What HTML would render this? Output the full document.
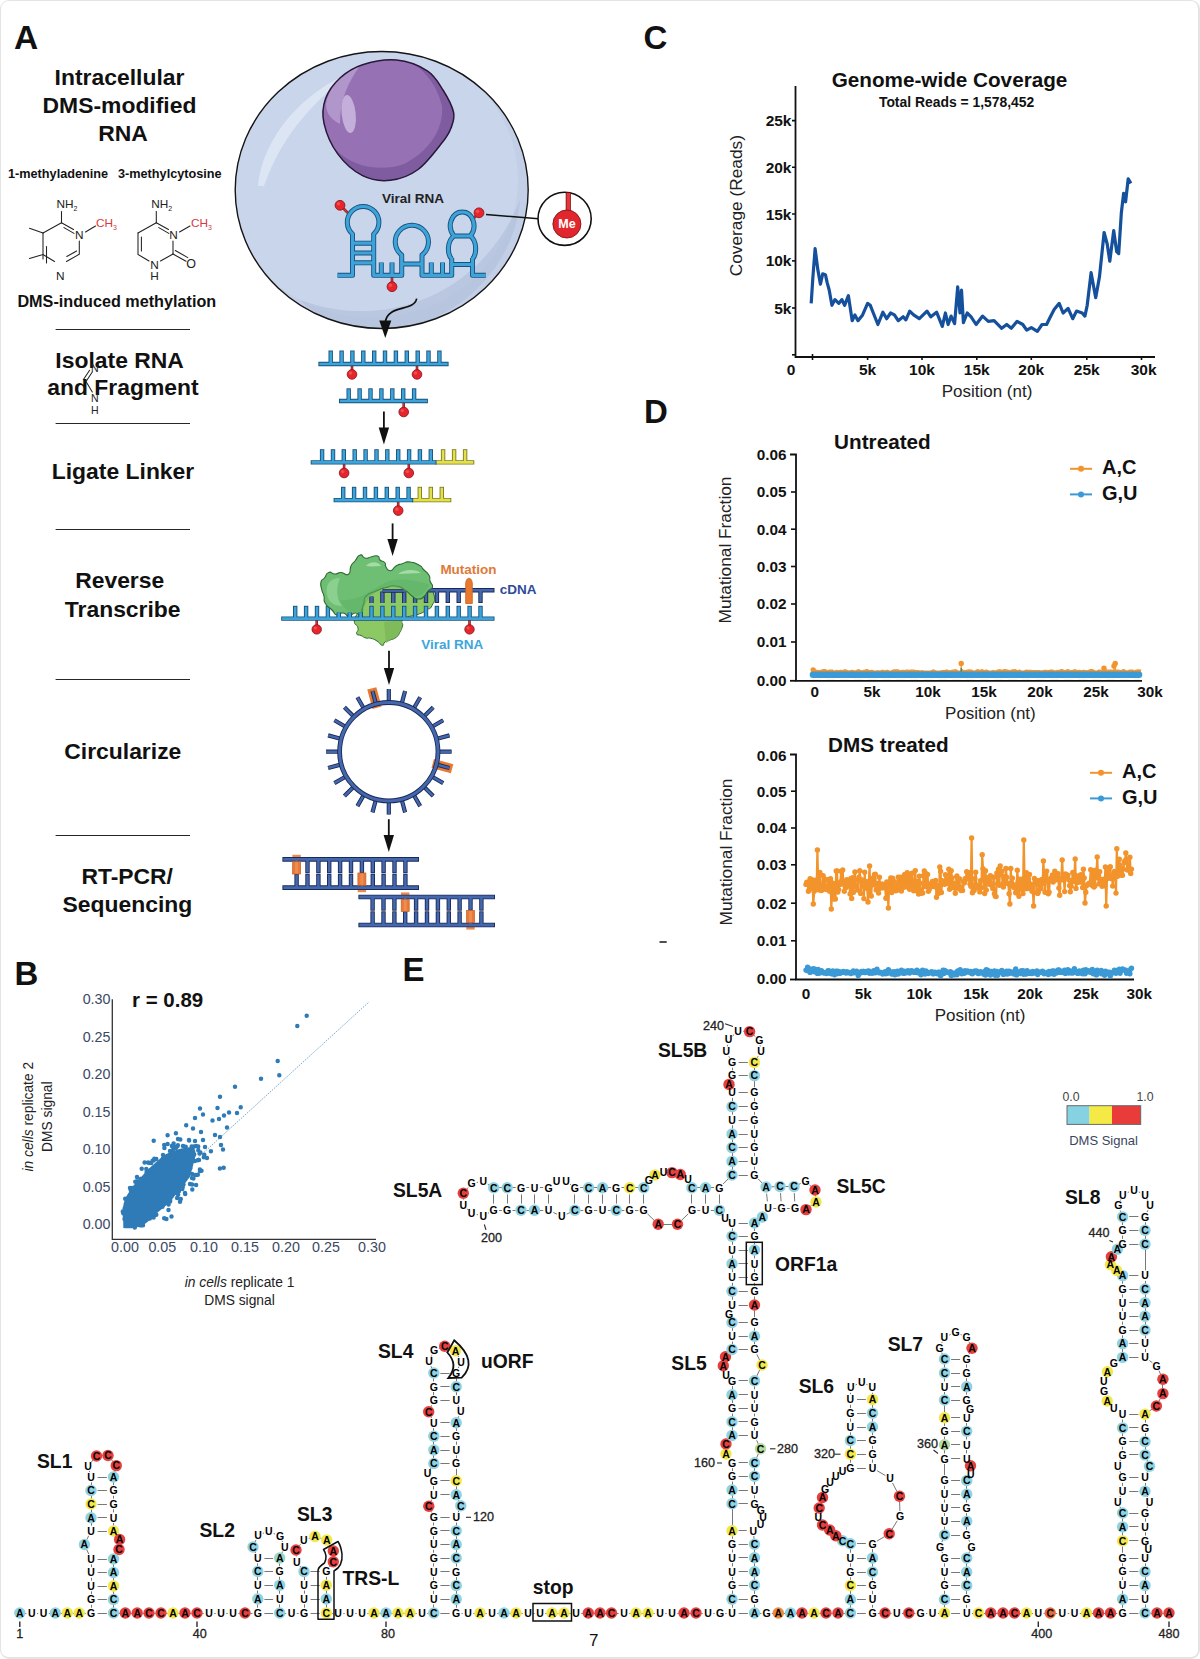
<!DOCTYPE html>
<html><head><meta charset="utf-8"><title>Figure</title>
<style>
html,body{margin:0;padding:0;background:#fff;}
#fig{position:relative;width:1200px;height:1659px;box-sizing:border-box;border:1px solid #e4e4e4;border-right-width:2px;border-bottom-width:2px;border-radius:9px;overflow:hidden;background:#fff;}
svg{position:absolute;left:-1px;top:-1px;}
text{font-family:"Liberation Sans",Arial,sans-serif;}
</style></head><body>
<div id="fig">
<svg width="1200" height="1659" viewBox="0 0 1200 1659">
<g id="rna">
<g stroke="#787878" stroke-width="1.0" fill="none" stroke-linecap="butt">
<path d="M25.1 1613.5L26.4 1613.5"/>
<path d="M37.0 1613.5L38.2 1613.5"/>
<path d="M48.8 1613.5L50.0 1613.5"/>
<path d="M60.6 1613.5L62.0 1613.5"/>
<path d="M72.6 1613.5L73.9 1613.5"/>
<path d="M84.5 1613.5L85.7 1613.5"/>
<path d="M91.5 1607.7L91.5 1604.8"/>
<path d="M91.5 1594.2L91.5 1591.3"/>
<path d="M91.5 1580.7L91.5 1577.8"/>
<path d="M91.5 1567.2L91.5 1564.3"/>
<path d="M88.8 1554.2L86.6 1549.3"/>
<path d="M86.7 1539.7L88.7 1535.8"/>
<path d="M91.5 1525.7L91.5 1523.0"/>
<path d="M91.5 1512.4L91.5 1509.3"/>
<path d="M91.5 1498.7L91.5 1495.8"/>
<path d="M91.5 1485.2L91.5 1482.3"/>
<path d="M89.7 1472.1L89.3 1470.9"/>
<path d="M91.4 1462.0L93.1 1460.0"/>
<path d="M101.7 1455.8L102.8 1455.7"/>
<path d="M111.4 1459.6L112.9 1461.5"/>
<path d="M115.0 1470.7L114.8 1471.9"/>
<path d="M113.5 1482.3L113.5 1485.2"/>
<path d="M113.5 1495.8L113.5 1498.7"/>
<path d="M113.5 1509.3L113.5 1512.4"/>
<path d="M113.5 1523.0L113.5 1525.7"/>
<path d="M113.5 1564.3L113.5 1567.2"/>
<path d="M113.5 1577.8L113.5 1580.7"/>
<path d="M113.5 1591.3L113.5 1594.2"/>
<path d="M113.5 1604.8L113.5 1607.7"/>
<path d="M118.8 1613.5L120.0 1613.5"/>
<path d="M130.6 1613.5L131.9 1613.5"/>
<path d="M142.5 1613.5L143.7 1613.5"/>
<path d="M154.3 1613.5L155.7 1613.5"/>
<path d="M166.3 1613.5L167.7 1613.5"/>
<path d="M178.3 1613.5L179.7 1613.5"/>
<path d="M190.3 1613.5L191.7 1613.5"/>
<path d="M202.3 1613.5L203.7 1613.5"/>
<path d="M214.3 1613.5L215.7 1613.5"/>
<path d="M226.3 1613.5L227.7 1613.5"/>
<path d="M238.3 1613.5L239.7 1613.5"/>
<path d="M250.3 1613.5L252.5 1613.5"/>
<path d="M257.5 1607.7L257.5 1604.3"/>
<path d="M257.5 1593.7L257.5 1590.6"/>
<path d="M257.5 1580.0L257.5 1576.8"/>
<path d="M257.5 1566.2L257.5 1563.3"/>
<path d="M255.7 1553.1L255.1 1551.9"/>
<path d="M255.0 1542.1L256.0 1539.9"/>
<path d="M262.8 1533.4L263.9 1533.1"/>
<path d="M273.6 1533.5L275.1 1534.0"/>
<path d="M282.1 1540.8L282.6 1541.9"/>
<path d="M282.6 1551.5L281.8 1553.2"/>
<path d="M279.5 1563.3L279.5 1566.2"/>
<path d="M279.5 1576.8L279.5 1580.0"/>
<path d="M279.5 1590.6L279.5 1593.7"/>
<path d="M279.5 1604.3L279.5 1607.7"/>
<path d="M285.0 1613.5L286.2 1613.5"/>
<path d="M296.8 1613.5L298.7 1613.5"/>
<path d="M304.5 1607.7L304.5 1604.3"/>
<path d="M304.5 1593.7L304.5 1590.6"/>
<path d="M304.5 1580.0L304.5 1576.8"/>
<path d="M300.8 1567.2L299.9 1566.0"/>
<path d="M296.4 1556.4L296.3 1555.3"/>
<path d="M299.3 1545.8L300.5 1544.2"/>
<path d="M308.8 1538.4L310.0 1538.1"/>
<path d="M320.1 1538.0L321.6 1538.5"/>
<path d="M329.4 1544.5L330.6 1546.5"/>
<path d="M330.2 1566.0L329.4 1567.2"/>
<path d="M326.5 1576.8L326.5 1580.0"/>
<path d="M326.5 1590.6L326.5 1593.7"/>
<path d="M326.5 1604.3L326.5 1607.7"/>
<path d="M331.6 1613.5L332.8 1613.5"/>
<path d="M343.3 1613.5L344.7 1613.5"/>
<path d="M355.3 1613.5L356.7 1613.5"/>
<path d="M367.3 1613.5L368.7 1613.5"/>
<path d="M379.3 1613.5L380.7 1613.5"/>
<path d="M391.3 1613.5L392.7 1613.5"/>
<path d="M403.3 1613.5L404.7 1613.5"/>
<path d="M415.3 1613.5L416.7 1613.5"/>
<path d="M427.3 1613.5L428.5 1613.5"/>
<path d="M433.5 1607.7L433.5 1604.5"/>
<path d="M433.5 1593.9L433.5 1590.8"/>
<path d="M433.5 1580.2L433.5 1577.1"/>
<path d="M433.5 1566.5L433.5 1563.3"/>
<path d="M433.5 1552.7L433.5 1549.8"/>
<path d="M433.5 1539.2L433.5 1536.1"/>
<path d="M433.5 1525.5L433.5 1522.5"/>
<path d="M431.6 1512.4L431.0 1511.1"/>
<path d="M430.9 1501.4L431.7 1499.6"/>
<path d="M433.5 1489.4L433.5 1486.1"/>
<path d="M430.3 1468.9L431.0 1467.9"/>
<path d="M433.5 1458.2L433.5 1455.3"/>
<path d="M433.5 1444.7L433.5 1441.6"/>
<path d="M433.5 1431.0L433.5 1428.1"/>
<path d="M431.6 1418.0L430.9 1416.5"/>
<path d="M430.9 1406.9L431.6 1405.3"/>
<path d="M433.5 1395.2L433.5 1392.0"/>
<path d="M433.5 1381.4L433.5 1378.3"/>
<path d="M431.8 1368.1L431.0 1366.2"/>
<path d="M431.2 1356.5L431.8 1355.3"/>
<path d="M438.8 1348.6L439.9 1348.2"/>
<path d="M449.5 1348.3L450.7 1348.8"/>
<path d="M457.9 1355.5L458.6 1357.0"/>
<path d="M458.9 1366.6L458.3 1368.1"/>
<path d="M456.5 1378.3L456.5 1381.4"/>
<path d="M456.5 1392.0L456.5 1395.2"/>
<path d="M458.3 1405.3L458.7 1406.5"/>
<path d="M458.8 1416.2L458.2 1417.9"/>
<path d="M456.5 1428.1L456.5 1431.0"/>
<path d="M456.5 1441.6L456.5 1444.7"/>
<path d="M456.5 1455.3L456.5 1458.2"/>
<path d="M456.5 1468.8L456.5 1475.5"/>
<path d="M456.5 1486.1L456.5 1489.4"/>
<path d="M458.2 1499.6L458.8 1500.9"/>
<path d="M458.8 1510.7L458.2 1512.3"/>
<path d="M456.5 1522.5L456.5 1525.5"/>
<path d="M456.5 1536.1L456.5 1539.2"/>
<path d="M456.5 1549.8L456.5 1552.7"/>
<path d="M456.5 1563.3L456.5 1566.5"/>
<path d="M456.5 1577.1L456.5 1580.2"/>
<path d="M456.5 1590.8L456.5 1593.9"/>
<path d="M456.5 1604.5L456.5 1607.7"/>
<path d="M461.5 1613.5L462.7 1613.5"/>
<path d="M473.3 1613.5L474.7 1613.5"/>
<path d="M485.3 1613.5L486.7 1613.5"/>
<path d="M497.3 1613.5L498.7 1613.5"/>
<path d="M509.3 1613.5L510.7 1613.5"/>
<path d="M521.3 1613.5L522.7 1613.5"/>
<path d="M533.3 1613.5L534.7 1613.5"/>
<path d="M545.3 1613.5L546.7 1613.5"/>
<path d="M557.3 1613.5L558.7 1613.5"/>
<path d="M569.3 1613.5L570.7 1613.5"/>
<path d="M581.3 1613.5L583.0 1613.5"/>
<path d="M593.5 1613.5L594.8 1613.5"/>
<path d="M605.1 1613.5L606.4 1613.5"/>
<path d="M616.8 1613.5L618.7 1613.5"/>
<path d="M629.3 1613.5L630.7 1613.5"/>
<path d="M641.3 1613.5L642.7 1613.5"/>
<path d="M653.3 1613.5L654.7 1613.5"/>
<path d="M665.3 1613.5L666.7 1613.5"/>
<path d="M677.3 1613.5L678.7 1613.5"/>
<path d="M689.3 1613.5L690.7 1613.5"/>
<path d="M701.3 1613.5L702.7 1613.5"/>
<path d="M713.3 1613.5L714.7 1613.5"/>
<path d="M725.3 1613.5L726.7 1613.5"/>
<path d="M732.5 1607.7L732.5 1604.5"/>
<path d="M732.5 1593.9L732.5 1590.6"/>
<path d="M732.5 1580.0L732.5 1577.0"/>
<path d="M732.5 1566.4L732.5 1563.1"/>
<path d="M732.5 1552.5L732.5 1549.5"/>
<path d="M732.5 1538.9L732.5 1536.1"/>
<path d="M732.5 1525.5L732.5 1509.0"/>
<path d="M732.5 1498.4L732.5 1495.3"/>
<path d="M732.5 1484.7L732.5 1481.6"/>
<path d="M732.5 1471.0L732.5 1468.1"/>
<path d="M732.5 1430.2L732.5 1427.0"/>
<path d="M732.5 1416.4L732.5 1413.6"/>
<path d="M732.5 1403.0L732.5 1400.0"/>
<path d="M732.5 1389.4L732.5 1386.1"/>
<path d="M732.5 1344.2L732.5 1341.5"/>
<path d="M732.5 1330.9L732.5 1327.8"/>
<path d="M732.5 1299.7L732.5 1296.5"/>
<path d="M732.5 1285.9L732.5 1282.8"/>
<path d="M732.5 1272.2L732.5 1269.0"/>
<path d="M732.5 1258.4L732.5 1255.3"/>
<path d="M732.5 1244.7L732.5 1241.6"/>
<path d="M732.5 1231.0L732.5 1228.3"/>
<path d="M714.1 1210.5L710.8 1210.5"/>
<path d="M700.2 1210.5L697.3 1210.5"/>
<path d="M688.2 1213.9L681.3 1220.5"/>
<path d="M672.2 1224.5L663.5 1224.5"/>
<path d="M654.4 1220.5L647.5 1213.9"/>
<path d="M638.4 1210.5L635.0 1210.5"/>
<path d="M624.4 1210.5L621.5 1210.5"/>
<path d="M610.9 1210.5L607.9 1210.5"/>
<path d="M597.3 1210.5L593.9 1210.5"/>
<path d="M583.3 1210.5L580.2 1210.5"/>
<path d="M570.1 1212.5L566.6 1214.2"/>
<path d="M557.0 1214.2L553.3 1212.5"/>
<path d="M543.2 1210.5L539.8 1210.5"/>
<path d="M529.2 1210.5L526.3 1210.5"/>
<path d="M515.7 1210.5L512.5 1210.5"/>
<path d="M501.9 1210.5L499.0 1210.5"/>
<path d="M489.0 1212.7L487.9 1213.3"/>
<path d="M478.0 1214.8L476.7 1214.5"/>
<path d="M467.9 1209.6L466.9 1208.7"/>
<path d="M463.5 1199.6L463.5 1198.4"/>
<path d="M466.7 1189.1L468.1 1187.5"/>
<path d="M476.7 1182.6L478.0 1182.3"/>
<path d="M487.7 1184.2L489.2 1185.1"/>
<path d="M499.0 1187.5L501.9 1187.5"/>
<path d="M512.5 1187.5L515.7 1187.5"/>
<path d="M526.3 1187.5L529.2 1187.5"/>
<path d="M539.8 1187.5L543.2 1187.5"/>
<path d="M570.0 1184.0L570.9 1184.8"/>
<path d="M580.2 1187.5L583.3 1187.5"/>
<path d="M593.9 1187.5L597.3 1187.5"/>
<path d="M607.9 1187.5L610.9 1187.5"/>
<path d="M621.5 1187.5L624.4 1187.5"/>
<path d="M635.0 1187.5L638.4 1187.5"/>
<path d="M697.1 1187.5L700.2 1187.5"/>
<path d="M710.8 1187.5L714.1 1187.5"/>
<path d="M723.1 1184.0L728.3 1178.8"/>
<path d="M732.5 1169.7L732.5 1166.7"/>
<path d="M732.5 1156.1L732.5 1152.9"/>
<path d="M732.5 1142.3L732.5 1139.3"/>
<path d="M732.5 1128.7L732.5 1125.3"/>
<path d="M732.5 1114.7L732.5 1111.9"/>
<path d="M732.5 1101.3L732.5 1097.9"/>
<path d="M732.5 1070.3L732.5 1067.7"/>
<path d="M729.6 1057.7L728.8 1056.3"/>
<path d="M727.4 1046.4L727.6 1044.8"/>
<path d="M732.5 1036.0L734.1 1034.6"/>
<path d="M743.2 1031.3L744.4 1031.3"/>
<path d="M753.6 1035.0L755.4 1036.6"/>
<path d="M760.1 1045.2L760.3 1046.4"/>
<path d="M758.2 1056.1L757.2 1057.9"/>
<path d="M754.5 1067.7L754.5 1070.3"/>
<path d="M754.5 1080.9L754.5 1087.3"/>
<path d="M754.5 1097.9L754.5 1101.3"/>
<path d="M754.5 1111.9L754.5 1114.7"/>
<path d="M754.5 1125.3L754.5 1128.7"/>
<path d="M754.5 1139.3L754.5 1142.3"/>
<path d="M754.5 1152.9L754.5 1156.1"/>
<path d="M754.5 1166.7L754.5 1169.7"/>
<path d="M758.1 1178.8L762.3 1183.2"/>
<path d="M771.3 1186.8L774.7 1186.7"/>
<path d="M785.3 1186.5L788.7 1186.5"/>
<path d="M798.9 1184.4L800.7 1183.5"/>
<path d="M809.5 1185.0L811.1 1186.4"/>
<path d="M815.4 1195.3L815.6 1196.7"/>
<path d="M811.8 1205.2L810.2 1206.4"/>
<path d="M789.7 1208.5L786.9 1208.5"/>
<path d="M776.3 1208.5L773.3 1208.5"/>
<path d="M754.5 1228.3L754.5 1231.0"/>
<path d="M754.5 1241.6L754.5 1244.7"/>
<path d="M754.5 1255.3L754.5 1258.4"/>
<path d="M754.5 1269.0L754.5 1272.2"/>
<path d="M754.5 1282.8L754.5 1285.9"/>
<path d="M754.5 1296.5L754.5 1299.7"/>
<path d="M754.5 1310.3L754.5 1317.2"/>
<path d="M754.5 1327.8L754.5 1330.9"/>
<path d="M754.5 1341.5L754.5 1344.2"/>
<path d="M756.8 1354.3L759.7 1360.2"/>
<path d="M759.7 1369.8L756.8 1376.0"/>
<path d="M754.5 1386.1L754.5 1389.4"/>
<path d="M754.5 1400.0L754.5 1403.0"/>
<path d="M754.5 1413.6L754.5 1416.4"/>
<path d="M754.5 1427.0L754.5 1430.2"/>
<path d="M756.7 1440.3L758.3 1444.0"/>
<path d="M758.4 1453.7L756.6 1457.9"/>
<path d="M754.5 1468.1L754.5 1471.0"/>
<path d="M754.5 1481.6L754.5 1484.7"/>
<path d="M754.5 1495.3L754.5 1498.4"/>
<path d="M753.8 1536.1L754.0 1538.9"/>
<path d="M754.5 1549.5L754.5 1552.5"/>
<path d="M754.5 1563.1L754.5 1566.4"/>
<path d="M754.5 1577.0L754.5 1580.0"/>
<path d="M754.5 1590.6L754.5 1593.9"/>
<path d="M754.5 1604.5L754.5 1607.7"/>
<path d="M759.8 1613.5L761.4 1613.5"/>
<path d="M771.9 1613.5L773.1 1613.5"/>
<path d="M783.6 1613.5L785.2 1613.5"/>
<path d="M795.6 1613.5L796.9 1613.5"/>
<path d="M807.3 1613.5L808.7 1613.5"/>
<path d="M819.3 1613.5L820.7 1613.5"/>
<path d="M831.3 1613.5L832.7 1613.5"/>
<path d="M843.3 1613.5L845.1 1613.5"/>
<path d="M850.5 1607.7L850.5 1604.8"/>
<path d="M850.5 1594.2L850.5 1590.8"/>
<path d="M850.5 1580.2L850.5 1577.3"/>
<path d="M850.5 1566.7L850.5 1563.3"/>
<path d="M850.5 1552.7L850.5 1549.1"/>
<path d="M850.5 1462.7L850.5 1459.5"/>
<path d="M850.5 1448.9L850.5 1445.8"/>
<path d="M850.5 1435.2L850.5 1432.3"/>
<path d="M850.5 1421.7L850.5 1418.6"/>
<path d="M850.5 1408.0L850.5 1404.8"/>
<path d="M850.5 1394.2L850.5 1392.8"/>
<path d="M855.5 1385.0L857.0 1384.2"/>
<path d="M866.3 1384.3L867.6 1384.9"/>
<path d="M872.5 1392.8L872.5 1394.2"/>
<path d="M872.5 1404.8L872.5 1408.0"/>
<path d="M872.5 1418.6L872.5 1421.7"/>
<path d="M872.5 1432.3L872.5 1435.2"/>
<path d="M872.5 1445.8L872.5 1448.9"/>
<path d="M872.5 1459.5L872.5 1462.7"/>
<path d="M877.1 1470.7L885.4 1475.6"/>
<path d="M892.5 1483.0L897.0 1491.6"/>
<path d="M899.6 1501.6L899.9 1511.0"/>
<path d="M897.2 1520.8L892.0 1529.3"/>
<path d="M884.7 1536.5L877.0 1541.1"/>
<path d="M872.5 1549.1L872.5 1552.7"/>
<path d="M872.5 1563.3L872.5 1566.7"/>
<path d="M872.5 1577.3L872.5 1580.2"/>
<path d="M872.5 1590.8L872.5 1594.2"/>
<path d="M872.5 1604.8L872.5 1607.7"/>
<path d="M877.8 1613.5L879.7 1613.5"/>
<path d="M890.2 1613.5L891.5 1613.5"/>
<path d="M902.0 1613.5L903.5 1613.5"/>
<path d="M914.1 1613.5L915.4 1613.5"/>
<path d="M926.0 1613.5L927.3 1613.5"/>
<path d="M937.9 1613.5L939.2 1613.5"/>
<path d="M944.5 1607.7L944.5 1604.8"/>
<path d="M944.5 1594.2L944.5 1590.8"/>
<path d="M944.5 1580.2L944.5 1577.3"/>
<path d="M944.5 1566.7L944.5 1563.3"/>
<path d="M942.5 1553.1L942.0 1551.9"/>
<path d="M941.9 1542.0L942.6 1540.0"/>
<path d="M944.5 1529.7L944.5 1526.6"/>
<path d="M944.5 1516.0L944.5 1513.1"/>
<path d="M944.5 1502.5L944.5 1499.5"/>
<path d="M944.5 1488.9L944.5 1485.8"/>
<path d="M944.5 1475.2L944.5 1464.0"/>
<path d="M944.5 1453.4L944.5 1450.0"/>
<path d="M944.5 1439.4L944.5 1436.6"/>
<path d="M944.5 1426.0L944.5 1423.0"/>
<path d="M944.5 1412.4L944.5 1405.3"/>
<path d="M944.5 1394.7L944.5 1392.0"/>
<path d="M944.5 1381.4L944.5 1378.3"/>
<path d="M944.5 1367.7L944.5 1364.3"/>
<path d="M942.4 1354.1L941.7 1352.6"/>
<path d="M941.8 1342.9L942.2 1341.8"/>
<path d="M949.3 1335.0L950.7 1334.4"/>
<path d="M960.5 1334.4L961.8 1335.0"/>
<path d="M969.0 1341.8L969.7 1343.5"/>
<path d="M969.6 1353.0L969.1 1354.3"/>
<path d="M966.5 1364.3L966.5 1367.7"/>
<path d="M966.5 1378.3L966.5 1381.4"/>
<path d="M966.5 1392.0L966.5 1394.7"/>
<path d="M966.5 1423.0L966.5 1426.0"/>
<path d="M966.5 1436.6L966.5 1439.4"/>
<path d="M966.5 1450.0L966.5 1453.4"/>
<path d="M966.5 1485.8L966.5 1488.9"/>
<path d="M966.5 1499.5L966.5 1502.5"/>
<path d="M966.5 1513.1L966.5 1516.0"/>
<path d="M966.5 1526.6L966.5 1529.7"/>
<path d="M968.8 1539.9L969.6 1541.8"/>
<path d="M969.6 1551.5L968.8 1553.2"/>
<path d="M966.5 1563.3L966.5 1566.7"/>
<path d="M966.5 1577.3L966.5 1580.2"/>
<path d="M966.5 1590.8L966.5 1594.2"/>
<path d="M966.5 1604.8L966.5 1607.7"/>
<path d="M972.0 1613.5L973.2 1613.5"/>
<path d="M983.8 1613.5L985.4 1613.5"/>
<path d="M996.0 1613.5L997.7 1613.5"/>
<path d="M1008.1 1613.5L1009.4 1613.5"/>
<path d="M1019.8 1613.5L1021.2 1613.5"/>
<path d="M1031.8 1613.5L1033.0 1613.5"/>
<path d="M1043.6 1613.5L1044.9 1613.5"/>
<path d="M1055.5 1613.5L1057.1 1613.5"/>
<path d="M1067.7 1613.5L1069.2 1613.5"/>
<path d="M1079.8 1613.5L1081.2 1613.5"/>
<path d="M1091.8 1613.5L1093.2 1613.5"/>
<path d="M1103.8 1613.5L1105.2 1613.5"/>
<path d="M1115.8 1613.5L1117.3 1613.5"/>
<path d="M1122.5 1607.7L1122.5 1604.5"/>
<path d="M1122.5 1593.9L1122.5 1590.7"/>
<path d="M1122.5 1580.1L1122.5 1576.9"/>
<path d="M1122.5 1566.3L1122.5 1563.3"/>
<path d="M1122.5 1552.7L1122.5 1546.2"/>
<path d="M1122.5 1535.6L1122.5 1532.2"/>
<path d="M1122.5 1521.6L1122.5 1518.3"/>
<path d="M1120.6 1508.1L1119.9 1506.6"/>
<path d="M1120.0 1497.0L1120.5 1495.9"/>
<path d="M1122.5 1485.9L1122.5 1482.9"/>
<path d="M1120.6 1472.7L1119.9 1471.1"/>
<path d="M1119.9 1461.3L1120.6 1459.8"/>
<path d="M1122.5 1449.6L1122.5 1446.8"/>
<path d="M1122.5 1436.2L1122.5 1433.2"/>
<path d="M1122.5 1422.6L1122.5 1419.6"/>
<path d="M1122.5 1352.1L1122.5 1348.9"/>
<path d="M1122.5 1338.3L1122.5 1335.3"/>
<path d="M1122.5 1324.7L1122.5 1321.6"/>
<path d="M1122.5 1311.0L1122.5 1308.1"/>
<path d="M1122.5 1297.5L1122.5 1294.3"/>
<path d="M1122.5 1283.7L1122.5 1280.9"/>
<path d="M1122.5 1238.9L1122.5 1235.6"/>
<path d="M1122.5 1225.0L1122.5 1222.2"/>
<path d="M1120.7 1211.9L1120.2 1210.4"/>
<path d="M1120.3 1200.6L1120.8 1199.5"/>
<path d="M1127.7 1192.6L1129.1 1191.9"/>
<path d="M1138.8 1192.0L1140.2 1192.5"/>
<path d="M1147.2 1199.5L1147.8 1200.6"/>
<path d="M1147.9 1210.3L1147.1 1212.0"/>
<path d="M1145.5 1222.2L1145.5 1225.0"/>
<path d="M1145.5 1235.6L1145.5 1238.9"/>
<path d="M1145.5 1249.5L1145.5 1270.3"/>
<path d="M1145.5 1280.9L1145.5 1283.7"/>
<path d="M1145.5 1294.3L1145.5 1297.5"/>
<path d="M1145.5 1308.1L1145.5 1311.0"/>
<path d="M1145.5 1321.6L1145.5 1324.7"/>
<path d="M1145.5 1335.3L1145.5 1338.3"/>
<path d="M1145.5 1348.9L1145.5 1352.1"/>
<path d="M1149.3 1360.5L1152.4 1362.7"/>
<path d="M1158.9 1370.6L1160.7 1374.5"/>
<path d="M1162.5 1384.6L1162.5 1388.3"/>
<path d="M1160.4 1398.3L1158.9 1401.3"/>
<path d="M1152.1 1409.1L1149.3 1411.2"/>
<path d="M1145.5 1419.6L1145.5 1422.6"/>
<path d="M1145.5 1433.2L1145.5 1436.2"/>
<path d="M1145.5 1446.8L1145.5 1449.6"/>
<path d="M1147.0 1459.8L1147.5 1461.3"/>
<path d="M1147.6 1471.1L1146.9 1472.7"/>
<path d="M1145.5 1482.9L1145.5 1485.9"/>
<path d="M1147.0 1495.9L1147.5 1497.0"/>
<path d="M1147.5 1506.6L1147.0 1508.1"/>
<path d="M1145.5 1518.3L1145.5 1521.6"/>
<path d="M1145.5 1532.2L1145.5 1535.6"/>
<path d="M1145.5 1563.3L1145.5 1566.3"/>
<path d="M1145.5 1576.9L1145.5 1580.1"/>
<path d="M1145.5 1590.7L1145.5 1593.9"/>
<path d="M1145.5 1604.5L1145.5 1607.7"/>
<path d="M1150.3 1613.5L1151.7 1613.5"/>
<path d="M1162.3 1613.5L1163.7 1613.5"/>
<path d="M97.6 1613.5L106.9 1613.5"/>
<path d="M97.6 1599.5L106.9 1599.5"/>
<path d="M97.6 1586.5L106.9 1586.5"/>
<path d="M97.6 1572.5L106.9 1572.5"/>
<path d="M97.6 1559.5L106.9 1559.5"/>
<path d="M97.6 1531.5L106.9 1531.5"/>
<path d="M97.6 1517.5L106.9 1517.5"/>
<path d="M97.6 1504.5L106.9 1504.5"/>
<path d="M97.6 1490.5L106.9 1490.5"/>
<path d="M97.6 1477.5L106.9 1477.5"/>
<path d="M264.4 1613.5L273.1 1613.5"/>
<path d="M264.4 1599.5L273.1 1599.5"/>
<path d="M264.4 1585.5L273.1 1585.5"/>
<path d="M264.4 1571.5L273.1 1571.5"/>
<path d="M264.4 1558.5L273.1 1558.5"/>
<path d="M310.6 1613.5L319.7 1613.5"/>
<path d="M310.6 1599.5L319.7 1599.5"/>
<path d="M310.6 1585.5L319.7 1585.5"/>
<path d="M310.6 1571.5L319.7 1571.5"/>
<path d="M440.4 1613.5L449.6 1613.5"/>
<path d="M440.4 1599.5L449.6 1599.5"/>
<path d="M440.4 1585.5L449.6 1585.5"/>
<path d="M440.4 1571.5L449.6 1571.5"/>
<path d="M440.4 1558.5L449.6 1558.5"/>
<path d="M440.4 1544.5L449.6 1544.5"/>
<path d="M440.4 1530.5L449.6 1530.5"/>
<path d="M440.4 1517.5L449.6 1517.5"/>
<path d="M440.4 1494.5L449.6 1494.5"/>
<path d="M440.4 1480.5L449.6 1480.5"/>
<path d="M440.4 1463.5L449.6 1463.5"/>
<path d="M440.4 1450.5L449.6 1450.5"/>
<path d="M440.4 1436.5L449.6 1436.5"/>
<path d="M440.4 1422.5L449.6 1422.5"/>
<path d="M440.4 1400.5L449.6 1400.5"/>
<path d="M440.4 1386.5L449.6 1386.5"/>
<path d="M440.4 1373.5L449.6 1373.5"/>
<path d="M738.6 1613.5L747.9 1613.5"/>
<path d="M738.6 1599.5L747.9 1599.5"/>
<path d="M738.6 1585.5L747.9 1585.5"/>
<path d="M738.6 1571.5L747.9 1571.5"/>
<path d="M738.6 1557.5L747.9 1557.5"/>
<path d="M738.6 1544.5L747.9 1544.5"/>
<path d="M738.6 1530.5L746.7 1530.5"/>
<path d="M738.6 1503.5L747.9 1503.5"/>
<path d="M738.6 1490.5L747.9 1490.5"/>
<path d="M738.6 1476.5L747.9 1476.5"/>
<path d="M738.6 1462.5L747.9 1462.5"/>
<path d="M738.6 1435.5L747.9 1435.5"/>
<path d="M738.6 1421.5L747.9 1421.5"/>
<path d="M738.6 1408.5L747.9 1408.5"/>
<path d="M738.6 1394.5L747.9 1394.5"/>
<path d="M738.6 1380.5L747.9 1380.5"/>
<path d="M738.6 1349.5L747.9 1349.5"/>
<path d="M738.6 1336.5L747.9 1336.5"/>
<path d="M738.6 1322.5L747.9 1322.5"/>
<path d="M738.6 1305.5L747.9 1305.5"/>
<path d="M738.6 1291.5L747.9 1291.5"/>
<path d="M738.6 1277.5L747.9 1277.5"/>
<path d="M738.6 1263.5L747.9 1263.5"/>
<path d="M738.6 1250.5L747.9 1250.5"/>
<path d="M738.6 1236.5L747.9 1236.5"/>
<path d="M738.6 1223.5L747.9 1223.5"/>
<path d="M493.5 1194.4L493.5 1203.6"/>
<path d="M507.5 1194.4L507.5 1203.6"/>
<path d="M521.5 1194.4L521.5 1203.6"/>
<path d="M534.5 1194.4L534.5 1203.6"/>
<path d="M548.5 1194.4L548.5 1203.6"/>
<path d="M574.5 1194.4L574.5 1203.6"/>
<path d="M588.5 1194.4L588.5 1203.6"/>
<path d="M602.5 1194.4L602.5 1203.6"/>
<path d="M616.5 1194.4L616.5 1203.6"/>
<path d="M629.5 1194.4L629.5 1203.6"/>
<path d="M643.5 1194.4L643.5 1203.6"/>
<path d="M691.5 1194.4L691.5 1203.6"/>
<path d="M705.5 1194.4L705.5 1203.6"/>
<path d="M719.5 1194.4L719.5 1203.6"/>
<path d="M738.6 1175.5L747.8 1175.5"/>
<path d="M738.6 1161.5L747.8 1161.5"/>
<path d="M738.6 1147.5L747.8 1147.5"/>
<path d="M738.6 1134.5L747.8 1134.5"/>
<path d="M738.6 1120.5L747.8 1120.5"/>
<path d="M738.6 1106.5L747.8 1106.5"/>
<path d="M738.6 1092.5L747.8 1092.5"/>
<path d="M738.6 1075.5L747.8 1075.5"/>
<path d="M738.6 1062.5L747.8 1062.5"/>
<path d="M766.6 1193.6L767.4 1201.4"/>
<path d="M780.5 1193.1L781.1 1201.4"/>
<path d="M794.3 1193.1L794.7 1201.4"/>
<path d="M857.0 1613.5L865.9 1613.5"/>
<path d="M857.0 1599.5L865.9 1599.5"/>
<path d="M857.0 1585.5L865.9 1585.5"/>
<path d="M857.0 1572.5L865.9 1572.5"/>
<path d="M857.0 1558.5L865.9 1558.5"/>
<path d="M857.0 1543.5L865.9 1543.5"/>
<path d="M857.0 1468.5L865.9 1468.5"/>
<path d="M857.0 1454.5L865.9 1454.5"/>
<path d="M857.0 1440.5L865.9 1440.5"/>
<path d="M857.0 1427.5L865.9 1427.5"/>
<path d="M857.0 1413.5L865.9 1413.5"/>
<path d="M857.0 1399.5L865.9 1399.5"/>
<path d="M951.1 1613.5L960.1 1613.5"/>
<path d="M951.1 1599.5L960.1 1599.5"/>
<path d="M951.1 1585.5L960.1 1585.5"/>
<path d="M951.1 1572.5L960.1 1572.5"/>
<path d="M951.1 1558.5L960.1 1558.5"/>
<path d="M951.1 1535.5L960.1 1535.5"/>
<path d="M951.1 1521.5L960.1 1521.5"/>
<path d="M951.1 1507.5L960.1 1507.5"/>
<path d="M951.1 1494.5L960.1 1494.5"/>
<path d="M951.1 1480.5L960.1 1480.5"/>
<path d="M951.1 1458.5L960.1 1458.5"/>
<path d="M951.1 1444.5L960.1 1444.5"/>
<path d="M951.1 1431.5L960.1 1431.5"/>
<path d="M951.1 1417.5L960.1 1417.5"/>
<path d="M951.1 1400.5L960.1 1400.5"/>
<path d="M951.1 1386.5L960.1 1386.5"/>
<path d="M951.1 1373.5L960.1 1373.5"/>
<path d="M951.1 1359.5L960.1 1359.5"/>
<path d="M1129.2 1613.5L1138.4 1613.5"/>
<path d="M1129.2 1599.5L1138.4 1599.5"/>
<path d="M1129.2 1585.5L1138.4 1585.5"/>
<path d="M1129.2 1571.5L1138.4 1571.5"/>
<path d="M1129.2 1558.5L1138.4 1558.5"/>
<path d="M1129.2 1540.5L1138.4 1540.5"/>
<path d="M1129.2 1526.5L1138.4 1526.5"/>
<path d="M1129.2 1513.5L1138.4 1513.5"/>
<path d="M1129.2 1491.5L1138.4 1491.5"/>
<path d="M1129.2 1477.5L1138.4 1477.5"/>
<path d="M1129.2 1454.5L1138.4 1454.5"/>
<path d="M1129.2 1441.5L1138.4 1441.5"/>
<path d="M1129.2 1427.5L1138.4 1427.5"/>
<path d="M1129.2 1414.5L1138.4 1414.5"/>
<path d="M1129.2 1357.5L1138.4 1357.5"/>
<path d="M1129.2 1343.5L1138.4 1343.5"/>
<path d="M1129.2 1330.5L1138.4 1330.5"/>
<path d="M1129.2 1316.5L1138.4 1316.5"/>
<path d="M1129.2 1302.5L1138.4 1302.5"/>
<path d="M1129.2 1289.5L1138.4 1289.5"/>
<path d="M1129.2 1275.5L1138.4 1275.5"/>
<path d="M1129.2 1244.5L1138.4 1244.5"/>
<path d="M1129.2 1230.5L1138.4 1230.5"/>
<path d="M1129.2 1216.5L1138.4 1216.5"/>
</g>
<circle cx="19.8" cy="1613.0" r="5.7" fill="#8fd3e3"/>
<circle cx="55.3" cy="1613.0" r="5.7" fill="#8fd3e3"/>
<circle cx="67.3" cy="1613.0" r="5.7" fill="#f3e84a"/>
<circle cx="79.2" cy="1613.0" r="5.7" fill="#f3e84a"/>
<circle cx="84.4" cy="1544.5" r="5.7" fill="#8fd3e3"/>
<circle cx="91.0" cy="1517.7" r="5.7" fill="#8fd3e3"/>
<circle cx="91.0" cy="1504.0" r="5.7" fill="#f3e84a"/>
<circle cx="91.0" cy="1490.5" r="5.7" fill="#8fd3e3"/>
<circle cx="96.5" cy="1456.0" r="5.7" fill="#e5403f"/>
<circle cx="108.0" cy="1455.5" r="5.7" fill="#e5403f"/>
<circle cx="116.3" cy="1465.6" r="5.7" fill="#e5403f"/>
<circle cx="113.5" cy="1477.0" r="5.7" fill="#8fd3e3"/>
<circle cx="113.5" cy="1531.0" r="5.7" fill="#f3e84a"/>
<circle cx="119.6" cy="1539.5" r="5.7" fill="#e5403f"/>
<circle cx="119.0" cy="1549.5" r="5.7" fill="#e5403f"/>
<circle cx="113.5" cy="1559.0" r="5.7" fill="#8fd3e3"/>
<circle cx="113.5" cy="1572.5" r="5.7" fill="#8fd3e3"/>
<circle cx="113.5" cy="1586.0" r="5.7" fill="#f3e84a"/>
<circle cx="113.5" cy="1599.5" r="5.7" fill="#8fd3e3"/>
<circle cx="113.5" cy="1613.0" r="5.7" fill="#8fd3e3"/>
<circle cx="125.3" cy="1613.0" r="5.7" fill="#e5403f"/>
<circle cx="137.2" cy="1613.0" r="5.7" fill="#e5403f"/>
<circle cx="149.0" cy="1613.0" r="5.7" fill="#e5403f"/>
<circle cx="161.0" cy="1613.0" r="5.7" fill="#e5403f"/>
<circle cx="173.0" cy="1613.0" r="5.7" fill="#f3e84a"/>
<circle cx="185.0" cy="1613.0" r="5.7" fill="#e5403f"/>
<circle cx="197.0" cy="1613.0" r="5.7" fill="#e5403f"/>
<circle cx="245.0" cy="1613.0" r="5.7" fill="#e5403f"/>
<circle cx="257.8" cy="1599.0" r="5.7" fill="#8fd3e3"/>
<circle cx="257.8" cy="1571.5" r="5.7" fill="#8fd3e3"/>
<circle cx="253.0" cy="1547.0" r="5.7" fill="#8fd3e3"/>
<circle cx="279.7" cy="1558.0" r="5.7" fill="#9bd6c6"/>
<circle cx="279.7" cy="1585.3" r="5.7" fill="#8fd3e3"/>
<circle cx="279.7" cy="1613.0" r="5.7" fill="#8fd3e3"/>
<circle cx="304.0" cy="1571.5" r="5.7" fill="#8fd3e3"/>
<circle cx="296.0" cy="1550.0" r="5.7" fill="#e5403f"/>
<circle cx="315.0" cy="1536.5" r="5.7" fill="#f3e84a"/>
<circle cx="326.7" cy="1540.0" r="5.7" fill="#f3e84a"/>
<circle cx="333.3" cy="1551.0" r="5.7" fill="#e5403f"/>
<circle cx="333.3" cy="1561.7" r="5.7" fill="#e5403f"/>
<circle cx="326.3" cy="1585.3" r="5.7" fill="#f3e84a"/>
<circle cx="326.3" cy="1599.0" r="5.7" fill="#8fd3e3"/>
<circle cx="326.3" cy="1613.0" r="5.7" fill="#f3e84a"/>
<circle cx="374.0" cy="1613.0" r="5.7" fill="#f3e84a"/>
<circle cx="386.0" cy="1613.0" r="5.7" fill="#8fd3e3"/>
<circle cx="398.0" cy="1613.0" r="5.7" fill="#f3e84a"/>
<circle cx="410.0" cy="1613.0" r="5.7" fill="#f3e84a"/>
<circle cx="433.8" cy="1613.0" r="5.7" fill="#8fd3e3"/>
<circle cx="428.8" cy="1506.3" r="5.7" fill="#e5403f"/>
<circle cx="433.8" cy="1463.5" r="5.7" fill="#8fd3e3"/>
<circle cx="433.8" cy="1450.0" r="5.7" fill="#8fd3e3"/>
<circle cx="433.8" cy="1436.3" r="5.7" fill="#8fd3e3"/>
<circle cx="428.7" cy="1411.7" r="5.7" fill="#e5403f"/>
<circle cx="433.8" cy="1373.0" r="5.7" fill="#8fd3e3"/>
<circle cx="444.7" cy="1346.3" r="5.7" fill="#e5403f"/>
<circle cx="455.5" cy="1350.8" r="5.7" fill="#f3e84a"/>
<circle cx="456.2" cy="1386.7" r="5.7" fill="#8fd3e3"/>
<circle cx="456.2" cy="1422.8" r="5.7" fill="#8fd3e3"/>
<circle cx="456.2" cy="1480.8" r="5.7" fill="#f3e84a"/>
<circle cx="456.2" cy="1494.7" r="5.7" fill="#8fd3e3"/>
<circle cx="460.8" cy="1505.8" r="5.7" fill="#8fd3e3"/>
<circle cx="456.2" cy="1530.8" r="5.7" fill="#8fd3e3"/>
<circle cx="456.2" cy="1544.5" r="5.7" fill="#8fd3e3"/>
<circle cx="456.2" cy="1558.0" r="5.7" fill="#8fd3e3"/>
<circle cx="456.2" cy="1585.5" r="5.7" fill="#8fd3e3"/>
<circle cx="456.2" cy="1599.2" r="5.7" fill="#8fd3e3"/>
<circle cx="480.0" cy="1613.0" r="5.7" fill="#f3e84a"/>
<circle cx="504.0" cy="1613.0" r="5.7" fill="#8fd3e3"/>
<circle cx="516.0" cy="1613.0" r="5.7" fill="#f3e84a"/>
<circle cx="552.0" cy="1613.0" r="5.7" fill="#f3e84a"/>
<circle cx="564.0" cy="1613.0" r="5.7" fill="#f3e84a"/>
<circle cx="588.3" cy="1613.0" r="5.7" fill="#e5403f"/>
<circle cx="600.0" cy="1613.0" r="5.7" fill="#e5403f"/>
<circle cx="611.5" cy="1613.0" r="5.7" fill="#e5403f"/>
<circle cx="636.0" cy="1613.0" r="5.7" fill="#f3e84a"/>
<circle cx="648.0" cy="1613.0" r="5.7" fill="#f3e84a"/>
<circle cx="684.0" cy="1613.0" r="5.7" fill="#e5403f"/>
<circle cx="696.0" cy="1613.0" r="5.7" fill="#e5403f"/>
<circle cx="732.0" cy="1599.2" r="5.7" fill="#8fd3e3"/>
<circle cx="732.0" cy="1530.8" r="5.7" fill="#f3e84a"/>
<circle cx="732.0" cy="1503.7" r="5.7" fill="#8fd3e3"/>
<circle cx="732.0" cy="1490.0" r="5.7" fill="#8fd3e3"/>
<circle cx="726.0" cy="1454.0" r="5.7" fill="#f3e84a"/>
<circle cx="726.0" cy="1444.0" r="5.7" fill="#e5403f"/>
<circle cx="732.0" cy="1435.5" r="5.7" fill="#8fd3e3"/>
<circle cx="732.0" cy="1421.7" r="5.7" fill="#8fd3e3"/>
<circle cx="732.0" cy="1394.7" r="5.7" fill="#8fd3e3"/>
<circle cx="723.3" cy="1365.8" r="5.7" fill="#e5403f"/>
<circle cx="725.5" cy="1356.7" r="5.7" fill="#e5403f"/>
<circle cx="732.0" cy="1349.5" r="5.7" fill="#8fd3e3"/>
<circle cx="732.0" cy="1322.5" r="5.7" fill="#8fd3e3"/>
<circle cx="732.0" cy="1291.2" r="5.7" fill="#8fd3e3"/>
<circle cx="732.0" cy="1263.7" r="5.7" fill="#8fd3e3"/>
<circle cx="732.0" cy="1236.3" r="5.7" fill="#8fd3e3"/>
<circle cx="719.4" cy="1210.2" r="5.7" fill="#8fd3e3"/>
<circle cx="677.5" cy="1224.2" r="5.7" fill="#e5403f"/>
<circle cx="658.2" cy="1224.2" r="5.7" fill="#e5403f"/>
<circle cx="616.2" cy="1210.2" r="5.7" fill="#8fd3e3"/>
<circle cx="574.9" cy="1210.2" r="5.7" fill="#8fd3e3"/>
<circle cx="534.5" cy="1210.2" r="5.7" fill="#8fd3e3"/>
<circle cx="521.0" cy="1210.2" r="5.7" fill="#8fd3e3"/>
<circle cx="463.3" cy="1193.2" r="5.7" fill="#e5403f"/>
<circle cx="493.7" cy="1187.8" r="5.7" fill="#8fd3e3"/>
<circle cx="507.2" cy="1187.8" r="5.7" fill="#8fd3e3"/>
<circle cx="588.6" cy="1187.8" r="5.7" fill="#8fd3e3"/>
<circle cx="602.6" cy="1187.8" r="5.7" fill="#8fd3e3"/>
<circle cx="629.7" cy="1187.8" r="5.7" fill="#f3e84a"/>
<circle cx="643.7" cy="1187.8" r="5.7" fill="#8fd3e3"/>
<circle cx="655.0" cy="1175.0" r="5.7" fill="#f3e84a"/>
<circle cx="672.0" cy="1172.6" r="5.7" fill="#e5403f"/>
<circle cx="680.3" cy="1174.5" r="5.7" fill="#e5403f"/>
<circle cx="691.8" cy="1187.8" r="5.7" fill="#8fd3e3"/>
<circle cx="705.5" cy="1187.8" r="5.7" fill="#8fd3e3"/>
<circle cx="732.0" cy="1175.0" r="5.7" fill="#8fd3e3"/>
<circle cx="732.0" cy="1161.4" r="5.7" fill="#8fd3e3"/>
<circle cx="732.0" cy="1147.6" r="5.7" fill="#8fd3e3"/>
<circle cx="732.0" cy="1134.0" r="5.7" fill="#8fd3e3"/>
<circle cx="732.0" cy="1106.6" r="5.7" fill="#8fd3e3"/>
<circle cx="729.0" cy="1084.4" r="5.7" fill="#e5403f"/>
<circle cx="749.6" cy="1031.6" r="5.7" fill="#e5403f"/>
<circle cx="754.4" cy="1062.4" r="5.7" fill="#f3e84a"/>
<circle cx="754.4" cy="1075.6" r="5.7" fill="#8fd3e3"/>
<circle cx="766.0" cy="1187.0" r="5.7" fill="#8fd3e3"/>
<circle cx="780.0" cy="1186.5" r="5.7" fill="#8fd3e3"/>
<circle cx="794.0" cy="1186.5" r="5.7" fill="#8fd3e3"/>
<circle cx="815.0" cy="1190.0" r="5.7" fill="#e5403f"/>
<circle cx="816.0" cy="1202.0" r="5.7" fill="#f3e84a"/>
<circle cx="806.0" cy="1209.6" r="5.7" fill="#e5403f"/>
<circle cx="762.4" cy="1217.0" r="5.7" fill="#8fd3e3"/>
<circle cx="754.5" cy="1223.0" r="5.7" fill="#8fd3e3"/>
<circle cx="754.5" cy="1250.0" r="5.7" fill="#8fd3e3"/>
<circle cx="754.5" cy="1305.0" r="5.7" fill="#e5403f"/>
<circle cx="754.5" cy="1336.2" r="5.7" fill="#8fd3e3"/>
<circle cx="762.0" cy="1365.0" r="5.7" fill="#f3e84a"/>
<circle cx="754.5" cy="1380.8" r="5.7" fill="#8fd3e3"/>
<circle cx="760.5" cy="1448.8" r="5.7" fill="#b5dba0"/>
<circle cx="754.5" cy="1462.8" r="5.7" fill="#8fd3e3"/>
<circle cx="754.5" cy="1476.3" r="5.7" fill="#8fd3e3"/>
<circle cx="754.5" cy="1544.2" r="5.7" fill="#8fd3e3"/>
<circle cx="754.5" cy="1557.8" r="5.7" fill="#8fd3e3"/>
<circle cx="754.5" cy="1571.7" r="5.7" fill="#8fd3e3"/>
<circle cx="754.5" cy="1585.3" r="5.7" fill="#8fd3e3"/>
<circle cx="754.5" cy="1613.0" r="5.7" fill="#8fd3e3"/>
<circle cx="778.3" cy="1613.0" r="5.7" fill="#ee8a3a"/>
<circle cx="790.5" cy="1613.0" r="5.7" fill="#8fd3e3"/>
<circle cx="802.0" cy="1613.0" r="5.7" fill="#e5403f"/>
<circle cx="814.0" cy="1613.0" r="5.7" fill="#f3e84a"/>
<circle cx="826.0" cy="1613.0" r="5.7" fill="#e5403f"/>
<circle cx="838.0" cy="1613.0" r="5.7" fill="#e5403f"/>
<circle cx="850.4" cy="1613.0" r="5.7" fill="#8fd3e3"/>
<circle cx="850.4" cy="1599.5" r="5.7" fill="#8fd3e3"/>
<circle cx="850.4" cy="1585.5" r="5.7" fill="#f3e84a"/>
<circle cx="850.4" cy="1543.8" r="5.7" fill="#8fd3e3"/>
<circle cx="842.5" cy="1540.8" r="5.7" fill="#8fd3e3"/>
<circle cx="835.8" cy="1535.8" r="5.7" fill="#e5403f"/>
<circle cx="829.7" cy="1530.0" r="5.7" fill="#e5403f"/>
<circle cx="822.5" cy="1525.0" r="5.7" fill="#e5403f"/>
<circle cx="819.2" cy="1508.0" r="5.7" fill="#e5403f"/>
<circle cx="822.5" cy="1497.5" r="5.7" fill="#e5403f"/>
<circle cx="850.4" cy="1454.2" r="5.7" fill="#f3e84a"/>
<circle cx="850.4" cy="1440.5" r="5.7" fill="#8fd3e3"/>
<circle cx="872.5" cy="1399.5" r="5.7" fill="#f3e84a"/>
<circle cx="872.5" cy="1413.3" r="5.7" fill="#8fd3e3"/>
<circle cx="872.5" cy="1427.0" r="5.7" fill="#8fd3e3"/>
<circle cx="899.5" cy="1496.3" r="5.7" fill="#e5403f"/>
<circle cx="889.2" cy="1533.8" r="5.7" fill="#e5403f"/>
<circle cx="872.5" cy="1558.0" r="5.7" fill="#8fd3e3"/>
<circle cx="872.5" cy="1572.0" r="5.7" fill="#8fd3e3"/>
<circle cx="885.0" cy="1613.0" r="5.7" fill="#e5403f"/>
<circle cx="908.8" cy="1613.0" r="5.7" fill="#e5403f"/>
<circle cx="944.5" cy="1613.0" r="5.7" fill="#f3e84a"/>
<circle cx="944.5" cy="1599.5" r="5.7" fill="#8fd3e3"/>
<circle cx="944.5" cy="1535.0" r="5.7" fill="#8fd3e3"/>
<circle cx="944.5" cy="1444.7" r="5.7" fill="#b5dba0"/>
<circle cx="944.5" cy="1417.7" r="5.7" fill="#f3e84a"/>
<circle cx="944.5" cy="1400.0" r="5.7" fill="#8fd3e3"/>
<circle cx="944.5" cy="1373.0" r="5.7" fill="#8fd3e3"/>
<circle cx="944.5" cy="1359.0" r="5.7" fill="#8fd3e3"/>
<circle cx="972.0" cy="1348.3" r="5.7" fill="#e5403f"/>
<circle cx="966.7" cy="1386.7" r="5.7" fill="#8fd3e3"/>
<circle cx="966.7" cy="1431.3" r="5.7" fill="#8fd3e3"/>
<circle cx="970.5" cy="1465.8" r="5.7" fill="#e5403f"/>
<circle cx="966.7" cy="1480.5" r="5.7" fill="#8fd3e3"/>
<circle cx="966.7" cy="1494.2" r="5.7" fill="#8fd3e3"/>
<circle cx="966.7" cy="1521.3" r="5.7" fill="#8fd3e3"/>
<circle cx="966.7" cy="1558.0" r="5.7" fill="#8fd3e3"/>
<circle cx="966.7" cy="1572.0" r="5.7" fill="#8fd3e3"/>
<circle cx="966.7" cy="1585.5" r="5.7" fill="#8fd3e3"/>
<circle cx="978.5" cy="1613.0" r="5.7" fill="#f3e84a"/>
<circle cx="990.7" cy="1613.0" r="5.7" fill="#e5403f"/>
<circle cx="1003.0" cy="1613.0" r="5.7" fill="#e5403f"/>
<circle cx="1014.5" cy="1613.0" r="5.7" fill="#e5403f"/>
<circle cx="1026.5" cy="1613.0" r="5.7" fill="#f3e84a"/>
<circle cx="1050.2" cy="1613.0" r="5.7" fill="#e76a3c"/>
<circle cx="1086.5" cy="1613.0" r="5.7" fill="#f3e84a"/>
<circle cx="1098.5" cy="1613.0" r="5.7" fill="#e5403f"/>
<circle cx="1110.5" cy="1613.0" r="5.7" fill="#e5403f"/>
<circle cx="1122.6" cy="1599.2" r="5.7" fill="#8fd3e3"/>
<circle cx="1122.6" cy="1540.9" r="5.7" fill="#f3e84a"/>
<circle cx="1122.6" cy="1526.9" r="5.7" fill="#8fd3e3"/>
<circle cx="1122.6" cy="1513.0" r="5.7" fill="#8fd3e3"/>
<circle cx="1122.6" cy="1427.9" r="5.7" fill="#8fd3e3"/>
<circle cx="1107.2" cy="1401.0" r="5.7" fill="#f3e84a"/>
<circle cx="1107.4" cy="1371.7" r="5.7" fill="#f3e84a"/>
<circle cx="1122.6" cy="1357.4" r="5.7" fill="#8fd3e3"/>
<circle cx="1122.6" cy="1343.6" r="5.7" fill="#8fd3e3"/>
<circle cx="1122.6" cy="1275.6" r="5.7" fill="#8fd3e3"/>
<circle cx="1116.7" cy="1270.5" r="5.7" fill="#f3e84a"/>
<circle cx="1110.4" cy="1264.6" r="5.7" fill="#f3e84a"/>
<circle cx="1111.4" cy="1256.7" r="5.7" fill="#e5403f"/>
<circle cx="1117.4" cy="1249.3" r="5.7" fill="#8fd3e3"/>
<circle cx="1122.6" cy="1216.9" r="5.7" fill="#8fd3e3"/>
<circle cx="1145.0" cy="1230.3" r="5.7" fill="#8fd3e3"/>
<circle cx="1145.0" cy="1244.2" r="5.7" fill="#8fd3e3"/>
<circle cx="1145.0" cy="1289.0" r="5.7" fill="#8fd3e3"/>
<circle cx="1145.0" cy="1302.8" r="5.7" fill="#8fd3e3"/>
<circle cx="1145.0" cy="1316.3" r="5.7" fill="#8fd3e3"/>
<circle cx="1145.0" cy="1330.0" r="5.7" fill="#8fd3e3"/>
<circle cx="1162.9" cy="1379.3" r="5.7" fill="#e5403f"/>
<circle cx="1162.9" cy="1393.6" r="5.7" fill="#e5403f"/>
<circle cx="1156.4" cy="1406.0" r="5.7" fill="#e5403f"/>
<circle cx="1145.0" cy="1414.3" r="5.7" fill="#f3e84a"/>
<circle cx="1145.0" cy="1441.5" r="5.7" fill="#8fd3e3"/>
<circle cx="1145.0" cy="1454.9" r="5.7" fill="#8fd3e3"/>
<circle cx="1149.5" cy="1466.2" r="5.7" fill="#8fd3e3"/>
<circle cx="1145.0" cy="1491.2" r="5.7" fill="#8fd3e3"/>
<circle cx="1145.0" cy="1571.6" r="5.7" fill="#8fd3e3"/>
<circle cx="1145.0" cy="1585.4" r="5.7" fill="#8fd3e3"/>
<circle cx="1145.0" cy="1613.0" r="5.7" fill="#8fd3e3"/>
<circle cx="1157.0" cy="1613.0" r="5.7" fill="#e5403f"/>
<circle cx="1169.0" cy="1613.0" r="5.7" fill="#e5403f"/>
<g font-family="Liberation Sans, Arial, sans-serif" font-weight="bold" font-size="10.5" text-anchor="middle" fill="#000">
<text x="19.8" y="1616.8">A</text>
<text x="31.7" y="1616.8">U</text>
<text x="43.5" y="1616.8">U</text>
<text x="55.3" y="1616.8">A</text>
<text x="67.3" y="1616.8">A</text>
<text x="79.2" y="1616.8">A</text>
<text x="91.0" y="1616.8">G</text>
<text x="91.0" y="1603.2">G</text>
<text x="91.0" y="1589.8">U</text>
<text x="91.0" y="1576.2">U</text>
<text x="91.0" y="1562.8">U</text>
<text x="84.4" y="1548.2">A</text>
<text x="91.0" y="1534.8">U</text>
<text x="91.0" y="1521.5">A</text>
<text x="91.0" y="1507.8">C</text>
<text x="91.0" y="1494.2">C</text>
<text x="91.0" y="1480.8">U</text>
<text x="88.0" y="1469.8">U</text>
<text x="96.5" y="1459.8">C</text>
<text x="108.0" y="1459.2">C</text>
<text x="116.3" y="1469.3">C</text>
<text x="113.5" y="1480.8">A</text>
<text x="113.5" y="1494.2">G</text>
<text x="113.5" y="1507.8">G</text>
<text x="113.5" y="1521.5">U</text>
<text x="113.5" y="1534.8">A</text>
<text x="119.6" y="1543.2">A</text>
<text x="119.0" y="1553.2">C</text>
<text x="113.5" y="1562.8">A</text>
<text x="113.5" y="1576.2">A</text>
<text x="113.5" y="1589.8">A</text>
<text x="113.5" y="1603.2">C</text>
<text x="113.5" y="1616.8">C</text>
<text x="125.3" y="1616.8">A</text>
<text x="137.2" y="1616.8">A</text>
<text x="149.0" y="1616.8">C</text>
<text x="161.0" y="1616.8">C</text>
<text x="173.0" y="1616.8">A</text>
<text x="185.0" y="1616.8">A</text>
<text x="197.0" y="1616.8">C</text>
<text x="209.0" y="1616.8">U</text>
<text x="221.0" y="1616.8">U</text>
<text x="233.0" y="1616.8">U</text>
<text x="245.0" y="1616.8">C</text>
<text x="257.8" y="1616.8">G</text>
<text x="257.8" y="1602.8">A</text>
<text x="257.8" y="1589.0">U</text>
<text x="257.8" y="1575.2">C</text>
<text x="257.8" y="1561.8">U</text>
<text x="253.0" y="1550.8">C</text>
<text x="258.0" y="1538.8">U</text>
<text x="268.7" y="1535.2">U</text>
<text x="280.0" y="1539.8">G</text>
<text x="284.7" y="1550.5">U</text>
<text x="279.7" y="1561.8">A</text>
<text x="279.7" y="1575.2">G</text>
<text x="279.7" y="1589.0">A</text>
<text x="279.7" y="1602.8">U</text>
<text x="279.7" y="1616.8">C</text>
<text x="291.5" y="1616.8">U</text>
<text x="304.0" y="1616.8">G</text>
<text x="304.0" y="1602.8">U</text>
<text x="304.0" y="1589.0">U</text>
<text x="304.0" y="1575.2">C</text>
<text x="296.7" y="1565.5">U</text>
<text x="296.0" y="1553.8">C</text>
<text x="303.8" y="1543.8">U</text>
<text x="315.0" y="1540.2">A</text>
<text x="326.7" y="1543.8">A</text>
<text x="333.3" y="1554.8">A</text>
<text x="333.3" y="1565.5">C</text>
<text x="326.3" y="1575.2">G</text>
<text x="326.3" y="1589.0">A</text>
<text x="326.3" y="1602.8">A</text>
<text x="326.3" y="1616.8">C</text>
<text x="338.0" y="1616.8">U</text>
<text x="350.0" y="1616.8">U</text>
<text x="362.0" y="1616.8">U</text>
<text x="374.0" y="1616.8">A</text>
<text x="386.0" y="1616.8">A</text>
<text x="398.0" y="1616.8">A</text>
<text x="410.0" y="1616.8">A</text>
<text x="422.0" y="1616.8">U</text>
<text x="433.8" y="1616.8">C</text>
<text x="433.8" y="1603.0">U</text>
<text x="433.8" y="1589.2">G</text>
<text x="433.8" y="1575.5">U</text>
<text x="433.8" y="1561.8">G</text>
<text x="433.8" y="1548.2">U</text>
<text x="433.8" y="1534.5">G</text>
<text x="433.8" y="1521.0">G</text>
<text x="428.8" y="1510.0">C</text>
<text x="433.8" y="1498.5">U</text>
<text x="433.8" y="1484.5">G</text>
<text x="427.5" y="1477.0">U</text>
<text x="433.8" y="1467.2">C</text>
<text x="433.8" y="1453.8">A</text>
<text x="433.8" y="1440.0">C</text>
<text x="433.8" y="1426.5">U</text>
<text x="428.7" y="1415.5">C</text>
<text x="433.8" y="1404.2">G</text>
<text x="433.8" y="1390.5">G</text>
<text x="433.8" y="1376.8">C</text>
<text x="429.0" y="1365.0">U</text>
<text x="434.0" y="1354.2">G</text>
<text x="444.7" y="1350.0">C</text>
<text x="455.5" y="1354.5">A</text>
<text x="461.0" y="1365.5">U</text>
<text x="456.2" y="1376.8">G</text>
<text x="456.2" y="1390.5">C</text>
<text x="456.2" y="1404.2">U</text>
<text x="460.8" y="1415.0">U</text>
<text x="456.2" y="1426.5">A</text>
<text x="456.2" y="1440.0">G</text>
<text x="456.2" y="1453.8">U</text>
<text x="456.2" y="1467.2">G</text>
<text x="456.2" y="1484.5">C</text>
<text x="456.2" y="1498.5">A</text>
<text x="460.8" y="1509.5">C</text>
<text x="456.2" y="1521.0">U</text>
<text x="456.2" y="1534.5">C</text>
<text x="456.2" y="1548.2">A</text>
<text x="456.2" y="1561.8">C</text>
<text x="456.2" y="1575.5">G</text>
<text x="456.2" y="1589.2">C</text>
<text x="456.2" y="1603.0">A</text>
<text x="456.2" y="1616.8">G</text>
<text x="468.0" y="1616.8">U</text>
<text x="480.0" y="1616.8">A</text>
<text x="492.0" y="1616.8">U</text>
<text x="504.0" y="1616.8">A</text>
<text x="516.0" y="1616.8">A</text>
<text x="528.0" y="1616.8">U</text>
<text x="540.0" y="1616.8">U</text>
<text x="552.0" y="1616.8">A</text>
<text x="564.0" y="1616.8">A</text>
<text x="576.0" y="1616.8">U</text>
<text x="588.3" y="1616.8">A</text>
<text x="600.0" y="1616.8">A</text>
<text x="611.5" y="1616.8">C</text>
<text x="624.0" y="1616.8">U</text>
<text x="636.0" y="1616.8">A</text>
<text x="648.0" y="1616.8">A</text>
<text x="660.0" y="1616.8">U</text>
<text x="672.0" y="1616.8">U</text>
<text x="684.0" y="1616.8">A</text>
<text x="696.0" y="1616.8">C</text>
<text x="708.0" y="1616.8">U</text>
<text x="720.0" y="1616.8">G</text>
<text x="732.0" y="1616.8">U</text>
<text x="732.0" y="1603.0">C</text>
<text x="732.0" y="1589.0">G</text>
<text x="732.0" y="1575.5">U</text>
<text x="732.0" y="1561.5">U</text>
<text x="732.0" y="1548.0">G</text>
<text x="732.0" y="1534.5">A</text>
<text x="732.0" y="1507.5">C</text>
<text x="732.0" y="1493.8">A</text>
<text x="732.0" y="1480.0">G</text>
<text x="732.0" y="1466.5">G</text>
<text x="726.0" y="1457.8">A</text>
<text x="726.0" y="1447.8">C</text>
<text x="732.0" y="1439.2">A</text>
<text x="732.0" y="1425.5">C</text>
<text x="732.0" y="1412.0">G</text>
<text x="732.0" y="1398.5">A</text>
<text x="732.0" y="1384.5">G</text>
<text x="726.0" y="1378.5">U</text>
<text x="723.3" y="1369.5">A</text>
<text x="725.5" y="1360.5">A</text>
<text x="732.0" y="1353.2">C</text>
<text x="732.0" y="1340.0">U</text>
<text x="732.0" y="1326.2">C</text>
<text x="729.0" y="1317.5">G</text>
<text x="732.0" y="1308.8">U</text>
<text x="732.0" y="1295.0">C</text>
<text x="732.0" y="1281.2">U</text>
<text x="732.0" y="1267.5">A</text>
<text x="732.0" y="1253.8">U</text>
<text x="732.0" y="1240.0">C</text>
<text x="732.0" y="1226.8">U</text>
<text x="725.0" y="1221.8">U</text>
<text x="719.4" y="1214.0">C</text>
<text x="705.5" y="1214.0">U</text>
<text x="692.0" y="1214.0">G</text>
<text x="677.5" y="1228.0">C</text>
<text x="658.2" y="1228.0">A</text>
<text x="643.7" y="1214.0">G</text>
<text x="629.7" y="1214.0">G</text>
<text x="616.2" y="1214.0">C</text>
<text x="602.6" y="1214.0">U</text>
<text x="588.6" y="1214.0">G</text>
<text x="574.9" y="1214.0">C</text>
<text x="561.8" y="1220.2">U</text>
<text x="548.5" y="1214.0">U</text>
<text x="534.5" y="1214.0">A</text>
<text x="521.0" y="1214.0">C</text>
<text x="507.2" y="1214.0">G</text>
<text x="493.7" y="1214.0">G</text>
<text x="483.2" y="1219.5">U</text>
<text x="471.5" y="1217.2">U</text>
<text x="463.3" y="1208.5">U</text>
<text x="463.3" y="1197.0">C</text>
<text x="471.5" y="1187.2">G</text>
<text x="483.2" y="1185.2">U</text>
<text x="493.7" y="1191.5">C</text>
<text x="507.2" y="1191.5">C</text>
<text x="521.0" y="1191.5">G</text>
<text x="534.5" y="1191.5">U</text>
<text x="548.5" y="1191.5">G</text>
<text x="556.5" y="1184.8">U</text>
<text x="566.0" y="1184.8">U</text>
<text x="574.9" y="1191.5">G</text>
<text x="588.6" y="1191.5">C</text>
<text x="602.6" y="1191.5">A</text>
<text x="616.2" y="1191.5">G</text>
<text x="629.7" y="1191.5">C</text>
<text x="643.7" y="1191.5">C</text>
<text x="648.8" y="1183.7">G</text>
<text x="655.0" y="1178.8">A</text>
<text x="663.5" y="1176.3">U</text>
<text x="672.0" y="1176.3">C</text>
<text x="680.3" y="1178.2">A</text>
<text x="688.0" y="1182.8">U</text>
<text x="691.8" y="1191.5">C</text>
<text x="705.5" y="1191.5">A</text>
<text x="719.4" y="1191.5">G</text>
<text x="732.0" y="1178.8">C</text>
<text x="732.0" y="1165.2">A</text>
<text x="732.0" y="1151.3">C</text>
<text x="732.0" y="1137.8">A</text>
<text x="732.0" y="1123.8">U</text>
<text x="732.0" y="1110.3">C</text>
<text x="732.0" y="1096.3">U</text>
<text x="729.0" y="1088.2">A</text>
<text x="732.0" y="1079.3">G</text>
<text x="732.0" y="1066.2">G</text>
<text x="726.4" y="1055.3">U</text>
<text x="728.6" y="1043.3">U</text>
<text x="738.0" y="1034.8">U</text>
<text x="749.6" y="1035.3">C</text>
<text x="759.4" y="1043.8">G</text>
<text x="761.0" y="1055.3">U</text>
<text x="754.4" y="1066.2">C</text>
<text x="754.4" y="1079.3">C</text>
<text x="754.4" y="1096.3">G</text>
<text x="754.4" y="1110.3">G</text>
<text x="754.4" y="1123.8">G</text>
<text x="754.4" y="1137.8">U</text>
<text x="754.4" y="1151.3">G</text>
<text x="754.4" y="1165.2">U</text>
<text x="754.4" y="1178.8">G</text>
<text x="766.0" y="1190.8">A</text>
<text x="780.0" y="1190.2">C</text>
<text x="794.0" y="1190.2">C</text>
<text x="805.6" y="1185.2">G</text>
<text x="815.0" y="1193.8">A</text>
<text x="816.0" y="1205.8">A</text>
<text x="806.0" y="1213.3">A</text>
<text x="795.0" y="1211.8">G</text>
<text x="781.6" y="1211.8">G</text>
<text x="768.0" y="1211.8">U</text>
<text x="762.4" y="1220.8">A</text>
<text x="754.5" y="1226.8">A</text>
<text x="754.5" y="1240.0">G</text>
<text x="754.5" y="1253.8">A</text>
<text x="754.5" y="1267.5">U</text>
<text x="754.5" y="1281.2">G</text>
<text x="754.5" y="1295.0">G</text>
<text x="754.5" y="1308.8">A</text>
<text x="754.5" y="1326.2">G</text>
<text x="754.5" y="1340.0">A</text>
<text x="754.5" y="1353.2">G</text>
<text x="762.0" y="1368.8">C</text>
<text x="754.5" y="1384.5">C</text>
<text x="754.5" y="1398.5">U</text>
<text x="754.5" y="1412.0">U</text>
<text x="754.5" y="1425.5">G</text>
<text x="754.5" y="1439.2">U</text>
<text x="760.5" y="1452.5">C</text>
<text x="754.5" y="1466.5">C</text>
<text x="754.5" y="1480.0">C</text>
<text x="754.5" y="1493.8">U</text>
<text x="754.5" y="1507.5">G</text>
<text x="760.8" y="1513.8">G</text>
<text x="763.0" y="1521.2">U</text>
<text x="760.5" y="1527.8">U</text>
<text x="753.3" y="1534.5">U</text>
<text x="754.5" y="1548.0">C</text>
<text x="754.5" y="1561.5">A</text>
<text x="754.5" y="1575.5">A</text>
<text x="754.5" y="1589.0">C</text>
<text x="754.5" y="1603.0">G</text>
<text x="754.5" y="1616.8">A</text>
<text x="766.7" y="1616.8">G</text>
<text x="778.3" y="1616.8">A</text>
<text x="790.5" y="1616.8">A</text>
<text x="802.0" y="1616.8">A</text>
<text x="814.0" y="1616.8">A</text>
<text x="826.0" y="1616.8">C</text>
<text x="838.0" y="1616.8">A</text>
<text x="850.4" y="1616.8">C</text>
<text x="850.4" y="1603.2">A</text>
<text x="850.4" y="1589.2">C</text>
<text x="850.4" y="1575.8">G</text>
<text x="850.4" y="1561.8">U</text>
<text x="850.4" y="1547.5">C</text>
<text x="842.5" y="1544.5">C</text>
<text x="835.8" y="1539.5">A</text>
<text x="829.7" y="1533.8">A</text>
<text x="822.5" y="1528.8">C</text>
<text x="818.3" y="1521.2">U</text>
<text x="819.2" y="1511.8">C</text>
<text x="822.5" y="1501.2">A</text>
<text x="825.0" y="1492.8">G</text>
<text x="830.0" y="1486.2">U</text>
<text x="835.8" y="1479.8">U</text>
<text x="842.5" y="1475.0">U</text>
<text x="850.4" y="1471.8">G</text>
<text x="850.4" y="1458.0">C</text>
<text x="850.4" y="1444.2">C</text>
<text x="850.4" y="1430.8">U</text>
<text x="850.4" y="1417.0">G</text>
<text x="850.4" y="1403.2">U</text>
<text x="850.8" y="1391.2">U</text>
<text x="861.7" y="1385.5">U</text>
<text x="872.2" y="1391.2">U</text>
<text x="872.5" y="1403.2">A</text>
<text x="872.5" y="1417.0">C</text>
<text x="872.5" y="1430.8">A</text>
<text x="872.5" y="1444.2">G</text>
<text x="872.5" y="1458.0">G</text>
<text x="872.5" y="1471.8">U</text>
<text x="890.0" y="1482.0">U</text>
<text x="899.5" y="1500.0">C</text>
<text x="900.0" y="1520.0">G</text>
<text x="889.2" y="1537.5">C</text>
<text x="872.5" y="1547.5">G</text>
<text x="872.5" y="1561.8">A</text>
<text x="872.5" y="1575.8">C</text>
<text x="872.5" y="1589.2">G</text>
<text x="872.5" y="1603.2">U</text>
<text x="872.5" y="1616.8">G</text>
<text x="885.0" y="1616.8">C</text>
<text x="896.7" y="1616.8">U</text>
<text x="908.8" y="1616.8">C</text>
<text x="920.7" y="1616.8">G</text>
<text x="932.6" y="1616.8">U</text>
<text x="944.5" y="1616.8">A</text>
<text x="944.5" y="1603.2">C</text>
<text x="944.5" y="1589.2">G</text>
<text x="944.5" y="1575.8">U</text>
<text x="944.5" y="1561.8">G</text>
<text x="940.0" y="1550.8">G</text>
<text x="944.5" y="1538.8">C</text>
<text x="944.5" y="1525.0">U</text>
<text x="944.5" y="1511.5">U</text>
<text x="944.5" y="1498.0">U</text>
<text x="944.5" y="1484.2">G</text>
<text x="944.5" y="1462.5">G</text>
<text x="944.5" y="1448.5">A</text>
<text x="944.5" y="1435.0">G</text>
<text x="944.5" y="1421.5">A</text>
<text x="944.5" y="1403.8">C</text>
<text x="944.5" y="1390.5">U</text>
<text x="944.5" y="1376.8">C</text>
<text x="944.5" y="1362.8">C</text>
<text x="939.6" y="1351.5">G</text>
<text x="944.4" y="1340.8">U</text>
<text x="955.6" y="1336.2">G</text>
<text x="966.7" y="1340.8">G</text>
<text x="972.0" y="1352.0">A</text>
<text x="966.7" y="1362.8">G</text>
<text x="966.7" y="1376.8">G</text>
<text x="966.7" y="1390.5">A</text>
<text x="966.7" y="1403.8">G</text>
<text x="970.0" y="1412.5">G</text>
<text x="966.7" y="1421.5">U</text>
<text x="966.7" y="1435.0">C</text>
<text x="966.7" y="1448.5">U</text>
<text x="966.7" y="1462.5">U</text>
<text x="970.5" y="1469.5">A</text>
<text x="970.8" y="1477.5">U</text>
<text x="966.7" y="1484.2">C</text>
<text x="966.7" y="1498.0">A</text>
<text x="966.7" y="1511.5">G</text>
<text x="966.7" y="1525.0">A</text>
<text x="966.7" y="1538.8">G</text>
<text x="971.7" y="1550.5">G</text>
<text x="966.7" y="1561.8">C</text>
<text x="966.7" y="1575.8">A</text>
<text x="966.7" y="1589.2">C</text>
<text x="966.7" y="1603.2">G</text>
<text x="966.7" y="1616.8">U</text>
<text x="978.5" y="1616.8">C</text>
<text x="990.7" y="1616.8">A</text>
<text x="1003.0" y="1616.8">A</text>
<text x="1014.5" y="1616.8">C</text>
<text x="1026.5" y="1616.8">A</text>
<text x="1038.3" y="1616.8">U</text>
<text x="1050.2" y="1616.8">C</text>
<text x="1062.4" y="1616.8">U</text>
<text x="1074.5" y="1616.8">U</text>
<text x="1086.5" y="1616.8">A</text>
<text x="1098.5" y="1616.8">A</text>
<text x="1110.5" y="1616.8">A</text>
<text x="1122.6" y="1616.8">G</text>
<text x="1122.6" y="1603.0">A</text>
<text x="1122.6" y="1589.2">U</text>
<text x="1122.6" y="1575.3">G</text>
<text x="1122.6" y="1561.8">G</text>
<text x="1122.6" y="1544.7">C</text>
<text x="1122.6" y="1530.7">A</text>
<text x="1122.6" y="1516.8">C</text>
<text x="1117.9" y="1505.5">U</text>
<text x="1122.6" y="1495.0">U</text>
<text x="1122.6" y="1481.3">G</text>
<text x="1117.9" y="1470.0">U</text>
<text x="1122.6" y="1458.7">G</text>
<text x="1122.6" y="1445.2">G</text>
<text x="1122.6" y="1431.7">C</text>
<text x="1122.6" y="1418.0">U</text>
<text x="1113.9" y="1412.0">U</text>
<text x="1107.2" y="1404.8">A</text>
<text x="1104.0" y="1394.5">G</text>
<text x="1103.9" y="1384.5">U</text>
<text x="1107.4" y="1375.5">A</text>
<text x="1113.9" y="1366.8">G</text>
<text x="1122.6" y="1361.2">A</text>
<text x="1122.6" y="1347.3">A</text>
<text x="1122.6" y="1333.8">G</text>
<text x="1122.6" y="1320.0">U</text>
<text x="1122.6" y="1306.5">U</text>
<text x="1122.6" y="1292.8">G</text>
<text x="1122.6" y="1279.3">A</text>
<text x="1116.7" y="1274.2">A</text>
<text x="1110.4" y="1268.3">A</text>
<text x="1111.4" y="1260.5">A</text>
<text x="1117.4" y="1253.0">A</text>
<text x="1122.6" y="1248.0">G</text>
<text x="1122.6" y="1234.0">G</text>
<text x="1122.6" y="1220.7">C</text>
<text x="1118.3" y="1209.2">G</text>
<text x="1122.8" y="1198.5">U</text>
<text x="1134.0" y="1193.5">U</text>
<text x="1145.0" y="1198.5">U</text>
<text x="1150.0" y="1209.2">U</text>
<text x="1145.0" y="1220.7">G</text>
<text x="1145.0" y="1234.0">C</text>
<text x="1145.0" y="1248.0">C</text>
<text x="1145.0" y="1279.3">U</text>
<text x="1145.0" y="1292.8">C</text>
<text x="1145.0" y="1306.5">A</text>
<text x="1145.0" y="1320.0">A</text>
<text x="1145.0" y="1333.8">C</text>
<text x="1145.0" y="1347.3">U</text>
<text x="1145.0" y="1361.2">U</text>
<text x="1156.7" y="1369.5">G</text>
<text x="1162.9" y="1383.0">A</text>
<text x="1162.9" y="1397.3">A</text>
<text x="1156.4" y="1409.8">C</text>
<text x="1145.0" y="1418.0">A</text>
<text x="1145.0" y="1431.7">G</text>
<text x="1145.0" y="1445.2">C</text>
<text x="1145.0" y="1458.7">C</text>
<text x="1149.5" y="1470.0">C</text>
<text x="1145.0" y="1481.3">U</text>
<text x="1145.0" y="1495.0">A</text>
<text x="1149.5" y="1505.5">U</text>
<text x="1145.0" y="1516.8">G</text>
<text x="1145.0" y="1530.7">U</text>
<text x="1145.0" y="1544.7">G</text>
<text x="1148.2" y="1552.8">U</text>
<text x="1145.0" y="1561.8">U</text>
<text x="1145.0" y="1575.3">C</text>
<text x="1145.0" y="1589.2">A</text>
<text x="1145.0" y="1603.0">U</text>
<text x="1145.0" y="1616.8">C</text>
<text x="1157.0" y="1616.8">A</text>
<text x="1169.0" y="1616.8">A</text>
</g>
<g fill="none" stroke="#111" stroke-width="1.5">
<rect x="533" y="1603.5" width="38.5" height="17.5"/>
<rect x="746.3" y="1242.3" width="16" height="42.3"/>
<path d="M318 1619.3 L334 1619.3 L334 1571 Q343 1566 342 1554 Q341 1546 338 1541.5 L323.5 1549.5 Q328 1556 324.5 1563 Q318 1567 318 1571 Z" stroke-linejoin="round"/>
<path d="M448.3 1378 L461.7 1377.6 Q478.6 1361.2 454.2 1340.3 L447.3 1352.5 Q459.1 1364.8 448.3 1378 Z" stroke-width="1.8" stroke-linejoin="miter"/>
</g>
<g font-family="Liberation Sans, Arial, sans-serif" font-weight="bold" font-size="19.3" fill="#111">
<text x="37.0" y="1468.3">SL1</text>
<text x="199.5" y="1537.0">SL2</text>
<text x="297.0" y="1521.3">SL3</text>
<text x="342.5" y="1585.3">TRS-L</text>
<text x="378.0" y="1358.0">SL4</text>
<text x="481.0" y="1367.5">uORF</text>
<text x="532.8" y="1593.5">stop</text>
<text x="393.0" y="1197.0">SL5A</text>
<text x="658.0" y="1057.0">SL5B</text>
<text x="836.4" y="1193.0">SL5C</text>
<text x="671.3" y="1370.3">SL5</text>
<text x="798.7" y="1392.8">SL6</text>
<text x="887.7" y="1351.0">SL7</text>
<text x="1065.0" y="1204.0">SL8</text>
<text x="775.0" y="1271.3">ORF1a</text>
</g>
<g font-family="Liberation Sans, Arial, sans-serif" font-size="12.6" fill="#222" stroke="#222" stroke-width="0.3">
<text x="19.8" y="1638.3" text-anchor="middle">1</text>
<text x="199.8" y="1638.3" text-anchor="middle">40</text>
<text x="387.9" y="1638.3" text-anchor="middle">80</text>
<text x="1041.7" y="1638.3" text-anchor="middle">400</text>
<text x="1169.0" y="1638.3" text-anchor="middle">480</text>
<text x="473.0" y="1521.3" text-anchor="start">120</text>
<text x="694.0" y="1467.0" text-anchor="start">160</text>
<text x="777.0" y="1452.8" text-anchor="start">280</text>
<text x="481.0" y="1241.7" text-anchor="start">200</text>
<text x="703.0" y="1030.0" text-anchor="start">240</text>
<text x="814.0" y="1458.2" text-anchor="start">320</text>
<text x="917.0" y="1447.5" text-anchor="start">360</text>
<text x="1088.5" y="1236.5" text-anchor="start">440</text>
</g>
<g stroke="#2a2a2a" stroke-width="1.1" fill="none">
<path d="M19.8 1621.5V1627" stroke-width="1.4"/>
<path d="M197.0 1621.5V1627" stroke-width="1.4"/>
<path d="M386.0 1621.5V1627" stroke-width="1.4"/>
<path d="M1038.3 1621.5V1627" stroke-width="1.4"/>
<path d="M1169.0 1621.5V1627" stroke-width="1.4"/>
<path d="M466 1517.3H471"/><path d="M717 1463H722"/><path d="M770 1448.8H775.5"/><path d="M484.3 1224.5L486 1229.8"/>
<path d="M725 1023.8L733 1026.5"/><path d="M834.5 1454.2H840.5"/><path d="M933.5 1450L938 1453.5"/><path d="M1109.5 1240.5L1113 1242"/>
</g>
<rect x="1067" y="1105.7" width="22.6" height="18.7" fill="#86d2e2"/><rect x="1089.5" y="1105.7" width="22.6" height="18.7" fill="#f5ea45"/><rect x="1112" y="1105.7" width="28.7" height="18.7" fill="#ea3b3b"/>
<rect x="1067" y="1105.7" width="73.7" height="18.7" fill="none" stroke="#6a6a6a" stroke-width="1"/>
<text x="1062.5" y="1101.3" font-size="12.3" fill="#444">0.0</text><text x="1153.5" y="1101.3" font-size="12.3" fill="#444" text-anchor="end">1.0</text>
<text x="1103.5" y="1145.3" font-size="13" fill="#3a4660" text-anchor="middle">DMS Signal</text>
<text x="589" y="1645.5" font-family="Liberation Sans, Arial, sans-serif" font-size="17" fill="#111">7</text>
</g>
<g id="panelA">
<text x="14.0" y="48.6" font-size="33.5" text-anchor="start" font-weight="bold" fill="#111" >A</text>
<text x="119.5" y="85.0" font-size="22.9" text-anchor="middle" font-weight="bold" fill="#111" >Intracellular</text>
<text x="119.5" y="113.0" font-size="22.9" text-anchor="middle" font-weight="bold" fill="#111" >DMS-modified</text>
<text x="123.0" y="141.0" font-size="22.9" text-anchor="middle" font-weight="bold" fill="#111" >RNA</text>
<text x="8.0" y="178.0" font-size="12.7" text-anchor="start" font-weight="bold" fill="#111" >1-methyladenine</text>
<text x="118.0" y="178.0" font-size="12.7" text-anchor="start" font-weight="bold" fill="#111" >3-methylcytosine</text>
<text x="116.8" y="307.0" font-size="16.2" text-anchor="middle" font-weight="bold" fill="#111" >DMS-induced methylation</text>
<text x="119.6" y="368.0" font-size="22.9" text-anchor="middle" font-weight="bold" fill="#111" >Isolate RNA</text>
<text x="123.0" y="395.0" font-size="22.9" text-anchor="middle" font-weight="bold" fill="#111" >and Fragment</text>
<text x="123.0" y="479.0" font-size="22.9" text-anchor="middle" font-weight="bold" fill="#111" >Ligate Linker</text>
<text x="119.7" y="588.0" font-size="22.9" text-anchor="middle" font-weight="bold" fill="#111" >Reverse</text>
<text x="122.7" y="617.0" font-size="22.9" text-anchor="middle" font-weight="bold" fill="#111" >Transcribe</text>
<text x="122.8" y="759.0" font-size="22.9" text-anchor="middle" font-weight="bold" fill="#111" >Circularize</text>
<text x="127.2" y="884.0" font-size="22.9" text-anchor="middle" font-weight="bold" fill="#111" >RT-PCR/</text>
<text x="127.4" y="911.6" font-size="22.9" text-anchor="middle" font-weight="bold" fill="#111" >Sequencing</text>
<g stroke="#262626" stroke-width="1.15">
<path d="M55.6 329.5H190"/>
<path d="M55.6 423.5H190"/>
<path d="M55.6 529.5H190"/>
<path d="M55.6 679.5H190"/>
<path d="M55.6 835.5H190"/>
</g>
<g stroke="#222" stroke-width="1.05" fill="none" stroke-linecap="round">
<path d="M61.5 211.5V222.8"/><path d="M61.5 222.8L43 233"/><path d="M61.5 222.8L73.5 229.5"/><path d="M64 227.6L74 233.4"/>
<path d="M43 233L29.5 228.2"/><path d="M43 233V259"/><path d="M29.5 258.5L43 254.5L54.5 261.5"/><path d="M46.5 246.5V263"/>
<path d="M85.5 232L95.5 226"/><path d="M79.3 241V254.3L66.5 261.5"/><path d="M76.6 251L66.8 256.5"/>
<path d="M156.3 211.5V222.8"/><path d="M156.3 222.8L138 233"/><path d="M156.3 222.8L168.5 229.5"/><path d="M158.8 227.6L168.8 233.4"/>
<path d="M138 233V254.5L149 261"/><path d="M141.4 237V251"/><path d="M160.5 261L173 254"/><path d="M173 254V241"/>
<path d="M173 254L186 261.3"/><path d="M175.3 250.5L187.8 257.6"/><path d="M179.5 232L190 226"/>
<path d="M92.3 372L86 381.5L92.3 392"/><path d="M89.6 370.2L83.3 379.8"/>
</g>
<g font-size="11.8" fill="#222" font-family="Liberation Sans, Arial, sans-serif">
<text x="56.5" y="208">NH<tspan font-size="7" dy="2.5">2</tspan></text>
<text x="151.3" y="208">NH<tspan font-size="7" dy="2.5">2</tspan></text>
<text x="75" y="239.3">N</text><text x="56" y="280.3">N</text>
<text x="169.3" y="239.3">N</text><text x="150.2" y="269.3">N</text><text x="150.2" y="279.5">H</text><text x="186.3" y="268.3" font-size="12.5">O</text>
<text x="96" y="227.2" fill="#d63a43">CH<tspan font-size="7" dy="2.5">3</tspan></text>
<text x="191" y="227.2" fill="#d63a43">CH<tspan font-size="7" dy="2.5">3</tspan></text>
<text x="91" y="372" font-size="10.5">N</text><text x="91" y="402" font-size="10.5">N</text><text x="91" y="413.5" font-size="10.5">H</text>
</g>
<defs><clipPath id="cellclip"><ellipse cx="381.7" cy="190" rx="146.5" ry="138.5"/></clipPath><clipPath id="nucclip"><path id="nucp" d="M325.6 98.6C328.3 91.0 333.8 83.7 340.0 78.0C346.2 72.3 353.2 67.7 362.6 64.7C372.0 61.7 385.7 59.0 396.5 60.0C407.3 61.0 419.6 65.8 427.3 70.8C435.1 75.8 438.6 83.0 443.0 90.0C447.4 97.0 452.3 106.2 453.6 112.5C454.9 118.8 452.8 123.1 451.0 128.0C449.2 132.9 448.3 134.9 442.8 141.8C437.3 148.7 426.9 163.1 418.1 169.5C409.4 175.9 399.6 179.3 390.3 180.3C381.1 181.3 371.3 180.1 362.6 175.7C353.9 171.3 344.3 162.8 337.9 154.1C331.5 145.4 326.1 132.6 324.0 123.3C321.9 114.0 322.9 106.1 325.6 98.6Z"/></clipPath></defs>
<ellipse cx="381.7" cy="190" rx="146.5" ry="138.5" fill="#c3cfe6"/>
<g clip-path="url(#cellclip)">
<ellipse cx="372" cy="180" rx="146" ry="138" fill="#c9d5ea"/>
<path d="M258 186C262 140 300 92 356 70C318 96 282 134 264 186Z" fill="#dde6f4" opacity="0.95"/>
<path d="M300 300C380 330 480 300 520 200C515 270 450 330 380 330C345 330 318 318 300 300Z" fill="#b3c1db" opacity="0.7"/>
</g>
<ellipse cx="381.7" cy="190" rx="146.5" ry="138.5" fill="none" stroke="#151515" stroke-width="1.4"/>
<path d="M325.6 98.6C328.3 91.0 333.8 83.7 340.0 78.0C346.2 72.3 353.2 67.7 362.6 64.7C372.0 61.7 385.7 59.0 396.5 60.0C407.3 61.0 419.6 65.8 427.3 70.8C435.1 75.8 438.6 83.0 443.0 90.0C447.4 97.0 452.3 106.2 453.6 112.5C454.9 118.8 452.8 123.1 451.0 128.0C449.2 132.9 448.3 134.9 442.8 141.8C437.3 148.7 426.9 163.1 418.1 169.5C409.4 175.9 399.6 179.3 390.3 180.3C381.1 181.3 371.3 180.1 362.6 175.7C353.9 171.3 344.3 162.8 337.9 154.1C331.5 145.4 326.1 132.6 324.0 123.3C321.9 114.0 322.9 106.1 325.6 98.6Z" fill="#7f5c9f"/>
<g clip-path="url(#nucclip)"><path d="M322 94C330 72 360 56 390 56C416 58 436 80 442 106C444 130 428 152 404 164C382 172 352 168 334 148C320 130 316 110 322 94Z" fill="#9672b4"/><path d="M326 104C330 84 344 70 360 66C348 82 340 100 340 124C332 120 326 114 326 104Z" fill="#b69fd0" opacity="0.8"/><ellipse cx="348.7" cy="114" rx="7" ry="19" fill="#c4afdb" transform="rotate(-6 348.7 114)"/></g>
<path d="M325.6 98.6C328.3 91.0 333.8 83.7 340.0 78.0C346.2 72.3 353.2 67.7 362.6 64.7C372.0 61.7 385.7 59.0 396.5 60.0C407.3 61.0 419.6 65.8 427.3 70.8C435.1 75.8 438.6 83.0 443.0 90.0C447.4 97.0 452.3 106.2 453.6 112.5C454.9 118.8 452.8 123.1 451.0 128.0C449.2 132.9 448.3 134.9 442.8 141.8C437.3 148.7 426.9 163.1 418.1 169.5C409.4 175.9 399.6 179.3 390.3 180.3C381.1 181.3 371.3 180.1 362.6 175.7C353.9 171.3 344.3 162.8 337.9 154.1C331.5 145.4 326.1 132.6 324.0 123.3C321.9 114.0 322.9 106.1 325.6 98.6Z" fill="none" stroke="#2a1838" stroke-width="1.5"/>
<text x="413.0" y="202.7" font-size="13.5" text-anchor="middle" font-weight="bold" fill="#222" >Viral RNA</text>
<path d="M340.0 205.3L348.5 213.5" stroke="#8c1a1d" stroke-width="2.6"/><path d="M340.0 205.3L348.5 213.5" stroke="#d0393c" stroke-width="1.2"/><circle cx="340.0" cy="205.3" r="4.9" fill="#e8252c" stroke="#8c1a1d" stroke-width="0.9"/><circle cx="338.5" cy="203.8" r="1.7" fill="#f4605f" opacity="0.7"/>
<path d="M479.0 212.8L471.0 221.0" stroke="#8c1a1d" stroke-width="2.6"/><path d="M479.0 212.8L471.0 221.0" stroke="#d0393c" stroke-width="1.2"/><circle cx="479.0" cy="212.8" r="4.9" fill="#e8252c" stroke="#8c1a1d" stroke-width="0.9"/><circle cx="477.5" cy="211.3" r="1.7" fill="#f4605f" opacity="0.7"/>
<path d="M392.0 286.7L392.0 277.0" stroke="#8c1a1d" stroke-width="2.6"/><path d="M392.0 286.7L392.0 277.0" stroke="#d0393c" stroke-width="1.2"/><circle cx="392.0" cy="286.7" r="4.9" fill="#e8252c" stroke="#8c1a1d" stroke-width="0.9"/><circle cx="390.5" cy="285.2" r="1.7" fill="#f4605f" opacity="0.7"/>
<path d="M337.5 275.3H352.5V235M373.7 235V275.3H401.7V256.7M422 256.7V275.3H451.7V258M472.5 258V275.3H485.8 M352.5 236 V234 A15.8 15.8 0 1 1 373.7 234 V236 M352.5 243.2H373.7 M352.5 253.0H373.7 M352.5 262.8H373.7 M381.3 275.3V262.5 M392.0 275.3V262.5 M431.3 275.3V262.5 M442.5 275.3V262.5 M401.7 258 V255 A16.6 16.6 0 1 1 422 255 V258 M401.7 264H422 M451.7 259 C447 254 447 241 454 236 C446 226 452 212 462.3 212 C472.5 212 478 226 470.5 236 C477 241 477 254 472.5 259 M454 236H470.5 M451.7 264.5H472.5" fill="none" stroke="#17527e" stroke-width="5.0" stroke-linejoin="round"/><path d="M337.5 275.3H352.5V235M373.7 235V275.3H401.7V256.7M422 256.7V275.3H451.7V258M472.5 258V275.3H485.8 M352.5 236 V234 A15.8 15.8 0 1 1 373.7 234 V236 M352.5 243.2H373.7 M352.5 253.0H373.7 M352.5 262.8H373.7 M381.3 275.3V262.5 M392.0 275.3V262.5 M431.3 275.3V262.5 M442.5 275.3V262.5 M401.7 258 V255 A16.6 16.6 0 1 1 422 255 V258 M401.7 264H422 M451.7 259 C447 254 447 241 454 236 C446 226 452 212 462.3 212 C472.5 212 478 226 470.5 236 C477 241 477 254 472.5 259 M454 236H470.5 M451.7 264.5H472.5" fill="none" stroke="#3da3d8" stroke-width="3.2" stroke-linejoin="round"/>
<path d="M486 214.6L538.5 218.8" stroke="#111" stroke-width="1.5"/>
<circle cx="564.6" cy="218.8" r="26.6" fill="#fff" stroke="#111" stroke-width="1.6"/>
<path d="M568.3 192.5V212" stroke="#8c1a1d" stroke-width="5.2"/><path d="M568.3 193V212" stroke="#e2373b" stroke-width="3.4"/>
<circle cx="566.9" cy="224" r="14" fill="#e2262d" stroke="#8c1a1d" stroke-width="1"/>
<text x="567.0" y="228.3" font-size="12.5" text-anchor="middle" font-weight="bold" fill="#fff" >Me</text>
<path d="M416.7 298.7C414 312 388 304 385.3 322" fill="none" stroke="#111" stroke-width="1.7"/><path d="M379.3 320.5L391.3 320.5L385.3 338Z" fill="#111"/>
<path d="M352.0 374.4L352.0 366.0" stroke="#8c1a1d" stroke-width="2.6"/><path d="M352.0 374.4L352.0 366.0" stroke="#d0393c" stroke-width="1.2"/><circle cx="352.0" cy="374.4" r="4.8" fill="#e8252c" stroke="#8c1a1d" stroke-width="0.9"/><circle cx="350.6" cy="373.0" r="1.7" fill="#f4605f" opacity="0.7"/>
<path d="M417.0 374.4L417.0 366.0" stroke="#8c1a1d" stroke-width="2.6"/><path d="M417.0 374.4L417.0 366.0" stroke="#d0393c" stroke-width="1.2"/><circle cx="417.0" cy="374.4" r="4.8" fill="#e8252c" stroke="#8c1a1d" stroke-width="0.9"/><circle cx="415.6" cy="373.0" r="1.7" fill="#f4605f" opacity="0.7"/>
<g stroke="#17527e" stroke-width="4.4" stroke-linecap="butt" fill="none">
<path d="M318.4 364.0H448.6"/>
<path d="M330.7 364.0V350.5" stroke-width="4.4"/>
<path d="M341.6 364.0V350.5" stroke-width="4.4"/>
<path d="M352.4 364.0V350.5" stroke-width="4.4"/>
<path d="M363.3 364.0V350.5" stroke-width="4.4"/>
<path d="M374.2 364.0V350.5" stroke-width="4.4"/>
<path d="M385.0 364.0V350.5" stroke-width="4.4"/>
<path d="M395.9 364.0V350.5" stroke-width="4.4"/>
<path d="M406.8 364.0V350.5" stroke-width="4.4"/>
<path d="M417.7 364.0V350.5" stroke-width="4.4"/>
<path d="M428.5 364.0V350.5" stroke-width="4.4"/>
<path d="M439.4 364.0V350.5" stroke-width="4.4"/>
</g>
<g stroke="#3da3d8" stroke-width="2.6" stroke-linecap="butt" fill="none">
<path d="M319.3 364.0H447.7"/>
<path d="M330.7 364.0V351.4" stroke-width="2.6"/>
<path d="M341.6 364.0V351.4" stroke-width="2.6"/>
<path d="M352.4 364.0V351.4" stroke-width="2.6"/>
<path d="M363.3 364.0V351.4" stroke-width="2.6"/>
<path d="M374.2 364.0V351.4" stroke-width="2.6"/>
<path d="M385.0 364.0V351.4" stroke-width="2.6"/>
<path d="M395.9 364.0V351.4" stroke-width="2.6"/>
<path d="M406.8 364.0V351.4" stroke-width="2.6"/>
<path d="M417.7 364.0V351.4" stroke-width="2.6"/>
<path d="M428.5 364.0V351.4" stroke-width="2.6"/>
<path d="M439.4 364.0V351.4" stroke-width="2.6"/>
</g>
<path d="M403.7 412.0L403.7 403.0" stroke="#8c1a1d" stroke-width="2.6"/><path d="M403.7 412.0L403.7 403.0" stroke="#d0393c" stroke-width="1.2"/><circle cx="403.7" cy="412.0" r="4.8" fill="#e8252c" stroke="#8c1a1d" stroke-width="0.9"/><circle cx="402.3" cy="410.6" r="1.7" fill="#f4605f" opacity="0.7"/>
<g stroke="#17527e" stroke-width="4.4" stroke-linecap="butt" fill="none">
<path d="M339.0 401.0H427.9"/>
<path d="M348.7 401.0V388.3" stroke-width="4.4"/>
<path d="M359.6 401.0V388.3" stroke-width="4.4"/>
<path d="M370.5 401.0V388.3" stroke-width="4.4"/>
<path d="M381.4 401.0V388.3" stroke-width="4.4"/>
<path d="M392.3 401.0V388.3" stroke-width="4.4"/>
<path d="M403.2 401.0V388.3" stroke-width="4.4"/>
<path d="M414.1 401.0V388.3" stroke-width="4.4"/>
</g>
<g stroke="#3da3d8" stroke-width="2.6" stroke-linecap="butt" fill="none">
<path d="M339.9 401.0H427.0"/>
<path d="M348.7 401.0V389.2" stroke-width="2.6"/>
<path d="M359.6 401.0V389.2" stroke-width="2.6"/>
<path d="M370.5 401.0V389.2" stroke-width="2.6"/>
<path d="M381.4 401.0V389.2" stroke-width="2.6"/>
<path d="M392.3 401.0V389.2" stroke-width="2.6"/>
<path d="M403.2 401.0V389.2" stroke-width="2.6"/>
<path d="M414.1 401.0V389.2" stroke-width="2.6"/>
</g>
<path d="M383.9 411.6V429.6" stroke="#111" stroke-width="1.8"/><path d="M378.7 427.6L389.1 427.6L383.9 444.6Z" fill="#111"/>
<path d="M344.1 473.0L344.1 464.0" stroke="#8c1a1d" stroke-width="2.6"/><path d="M344.1 473.0L344.1 464.0" stroke="#d0393c" stroke-width="1.2"/><circle cx="344.1" cy="473.0" r="4.8" fill="#e8252c" stroke="#8c1a1d" stroke-width="0.9"/><circle cx="342.7" cy="471.6" r="1.7" fill="#f4605f" opacity="0.7"/>
<path d="M408.8 473.0L408.8 464.0" stroke="#8c1a1d" stroke-width="2.6"/><path d="M408.8 473.0L408.8 464.0" stroke="#d0393c" stroke-width="1.2"/><circle cx="408.8" cy="473.0" r="4.8" fill="#e8252c" stroke="#8c1a1d" stroke-width="0.9"/><circle cx="407.4" cy="471.6" r="1.7" fill="#f4605f" opacity="0.7"/>
<g stroke="#7e7c22" stroke-width="4.4" stroke-linecap="butt" fill="none">
<path d="M435.0 462.4H474.3"/>
<path d="M443.1 462.4V449.2" stroke-width="4.4"/>
<path d="M454.1 462.4V449.2" stroke-width="4.4"/>
<path d="M465.1 462.4V449.2" stroke-width="4.4"/>
</g>
<g stroke="#e3e04d" stroke-width="2.6" stroke-linecap="butt" fill="none">
<path d="M435.9 462.4H473.4"/>
<path d="M443.1 462.4V450.1" stroke-width="2.6"/>
<path d="M454.1 462.4V450.1" stroke-width="2.6"/>
<path d="M465.1 462.4V450.1" stroke-width="2.6"/>
</g>
<g stroke="#17527e" stroke-width="4.4" stroke-linecap="butt" fill="none">
<path d="M310.7 462.4H436.5"/>
<path d="M322.1 462.4V449.2" stroke-width="4.4"/>
<path d="M333.0 462.4V449.2" stroke-width="4.4"/>
<path d="M343.8 462.4V449.2" stroke-width="4.4"/>
<path d="M354.7 462.4V449.2" stroke-width="4.4"/>
<path d="M365.6 462.4V449.2" stroke-width="4.4"/>
<path d="M376.5 462.4V449.2" stroke-width="4.4"/>
<path d="M387.3 462.4V449.2" stroke-width="4.4"/>
<path d="M398.2 462.4V449.2" stroke-width="4.4"/>
<path d="M409.1 462.4V449.2" stroke-width="4.4"/>
<path d="M419.9 462.4V449.2" stroke-width="4.4"/>
<path d="M430.8 462.4V449.2" stroke-width="4.4"/>
</g>
<g stroke="#3da3d8" stroke-width="2.6" stroke-linecap="butt" fill="none">
<path d="M311.6 462.4H435.6"/>
<path d="M322.1 462.4V450.1" stroke-width="2.6"/>
<path d="M333.0 462.4V450.1" stroke-width="2.6"/>
<path d="M343.8 462.4V450.1" stroke-width="2.6"/>
<path d="M354.7 462.4V450.1" stroke-width="2.6"/>
<path d="M365.6 462.4V450.1" stroke-width="2.6"/>
<path d="M376.5 462.4V450.1" stroke-width="2.6"/>
<path d="M387.3 462.4V450.1" stroke-width="2.6"/>
<path d="M398.2 462.4V450.1" stroke-width="2.6"/>
<path d="M409.1 462.4V450.1" stroke-width="2.6"/>
<path d="M419.9 462.4V450.1" stroke-width="2.6"/>
<path d="M430.8 462.4V450.1" stroke-width="2.6"/>
</g>
<path d="M398.2 510.6L398.2 502.0" stroke="#8c1a1d" stroke-width="2.6"/><path d="M398.2 510.6L398.2 502.0" stroke="#d0393c" stroke-width="1.2"/><circle cx="398.2" cy="510.6" r="4.8" fill="#e8252c" stroke="#8c1a1d" stroke-width="0.9"/><circle cx="396.8" cy="509.2" r="1.7" fill="#f4605f" opacity="0.7"/>
<g stroke="#7e7c22" stroke-width="4.4" stroke-linecap="butt" fill="none">
<path d="M411.8 500.1H451.3"/>
<path d="M419.8 500.1V486.8" stroke-width="4.4"/>
<path d="M430.8 500.1V486.8" stroke-width="4.4"/>
<path d="M441.8 500.1V486.8" stroke-width="4.4"/>
</g>
<g stroke="#e3e04d" stroke-width="2.6" stroke-linecap="butt" fill="none">
<path d="M412.7 500.1H450.4"/>
<path d="M419.8 500.1V487.7" stroke-width="2.6"/>
<path d="M430.8 500.1V487.7" stroke-width="2.6"/>
<path d="M441.8 500.1V487.7" stroke-width="2.6"/>
</g>
<g stroke="#17527e" stroke-width="4.4" stroke-linecap="butt" fill="none">
<path d="M333.6 500.1H413.2"/>
<path d="M343.2 500.1V486.8" stroke-width="4.4"/>
<path d="M354.1 500.1V486.8" stroke-width="4.4"/>
<path d="M365.0 500.1V486.8" stroke-width="4.4"/>
<path d="M375.9 500.1V486.8" stroke-width="4.4"/>
<path d="M386.8 500.1V486.8" stroke-width="4.4"/>
<path d="M397.7 500.1V486.8" stroke-width="4.4"/>
<path d="M408.6 500.1V486.8" stroke-width="4.4"/>
</g>
<g stroke="#3da3d8" stroke-width="2.6" stroke-linecap="butt" fill="none">
<path d="M334.5 500.1H412.3"/>
<path d="M343.2 500.1V487.7" stroke-width="2.6"/>
<path d="M354.1 500.1V487.7" stroke-width="2.6"/>
<path d="M365.0 500.1V487.7" stroke-width="2.6"/>
<path d="M375.9 500.1V487.7" stroke-width="2.6"/>
<path d="M386.8 500.1V487.7" stroke-width="2.6"/>
<path d="M397.7 500.1V487.7" stroke-width="2.6"/>
<path d="M408.6 500.1V487.7" stroke-width="2.6"/>
</g>
<path d="M392.6 523.4V541.0" stroke="#111" stroke-width="1.8"/><path d="M387.4 539.0L397.8 539.0L392.6 556.0Z" fill="#111"/>
<path d="M316.7 629.4L316.7 620.0" stroke="#8c1a1d" stroke-width="2.6"/><path d="M316.7 629.4L316.7 620.0" stroke="#d0393c" stroke-width="1.2"/><circle cx="316.7" cy="629.4" r="4.7" fill="#e8252c" stroke="#8c1a1d" stroke-width="0.9"/><circle cx="315.3" cy="628.0" r="1.6" fill="#f4605f" opacity="0.7"/>
<path d="M469.5 629.4L469.5 620.0" stroke="#8c1a1d" stroke-width="2.6"/><path d="M469.5 629.4L469.5 620.0" stroke="#d0393c" stroke-width="1.2"/><circle cx="469.5" cy="629.4" r="4.7" fill="#e8252c" stroke="#8c1a1d" stroke-width="0.9"/><circle cx="468.1" cy="628.0" r="1.6" fill="#f4605f" opacity="0.7"/>
<path d="M364.8 596.3C370.5 587.0 363.3 589.8 375.0 584.0C386.7 578.2 383.3 579.0 400.0 579.0C416.7 579.0 413.8 579.0 425.0 584.0C436.2 589.0 431.4 586.8 433.7 594.0C436.0 601.2 434.6 600.2 432.0 605.5C429.4 610.8 430.1 607.2 426.0 610.0C421.9 612.8 427.0 610.8 419.7 613.8C412.4 616.8 409.7 614.9 404.0 619.0C398.3 623.1 403.8 621.7 402.5 626.0C401.2 630.3 402.1 628.3 400.0 632.0C397.9 635.7 399.6 634.5 396.3 637.2C393.0 639.9 393.8 638.4 390.0 640.0C386.2 641.6 387.6 640.2 385.0 642.0C382.4 643.8 385.0 645.6 382.3 645.3C379.6 645.0 380.9 643.3 377.0 641.0C373.1 638.7 374.4 639.3 370.7 638.3C367.0 637.3 369.2 638.9 366.0 638.0C362.8 637.1 364.1 636.9 361.0 635.5C357.9 634.1 357.7 636.2 356.7 633.7C355.7 631.2 358.8 632.3 358.0 628.0C357.2 623.7 354.3 626.1 354.3 620.8C354.3 615.5 354.5 620.2 358.0 612.0C361.5 603.8 359.1 605.6 364.8 596.3Z" fill="#8cc864" stroke="#2d6a30" stroke-width="1"/>
<path d="M384 622L403 620L400 632L394 638L386 643Z" fill="#7cb857" opacity="0.8"/>
<g stroke="#17527e" stroke-width="4.4" stroke-linecap="butt" fill="none">
<path d="M281.2 618.6H494.5"/>
<path d="M295.2 618.6V605.8" stroke-width="4.4"/>
<path d="M306.1 618.6V605.8" stroke-width="4.4"/>
<path d="M317.0 618.6V605.8" stroke-width="4.4"/>
<path d="M327.9 618.6V605.8" stroke-width="4.4"/>
<path d="M338.8 618.6V605.8" stroke-width="4.4"/>
<path d="M349.7 618.6V605.8" stroke-width="4.4"/>
<path d="M360.6 618.6V605.8" stroke-width="4.4"/>
<path d="M371.5 618.6V605.8" stroke-width="4.4"/>
<path d="M382.4 618.6V605.8" stroke-width="4.4"/>
<path d="M393.3 618.6V605.8" stroke-width="4.4"/>
<path d="M404.2 618.6V605.8" stroke-width="4.4"/>
<path d="M415.1 618.6V605.8" stroke-width="4.4"/>
<path d="M426.0 618.6V605.8" stroke-width="4.4"/>
<path d="M436.9 618.6V605.8" stroke-width="4.4"/>
<path d="M447.8 618.6V605.8" stroke-width="4.4"/>
<path d="M458.7 618.6V605.8" stroke-width="4.4"/>
<path d="M469.6 618.6V605.8" stroke-width="4.4"/>
<path d="M480.5 618.6V605.8" stroke-width="4.4"/>
</g>
<g stroke="#3da3d8" stroke-width="2.6" stroke-linecap="butt" fill="none">
<path d="M282.1 618.6H493.6"/>
<path d="M295.2 618.6V606.7" stroke-width="2.6"/>
<path d="M306.1 618.6V606.7" stroke-width="2.6"/>
<path d="M317.0 618.6V606.7" stroke-width="2.6"/>
<path d="M327.9 618.6V606.7" stroke-width="2.6"/>
<path d="M338.8 618.6V606.7" stroke-width="2.6"/>
<path d="M349.7 618.6V606.7" stroke-width="2.6"/>
<path d="M360.6 618.6V606.7" stroke-width="2.6"/>
<path d="M371.5 618.6V606.7" stroke-width="2.6"/>
<path d="M382.4 618.6V606.7" stroke-width="2.6"/>
<path d="M393.3 618.6V606.7" stroke-width="2.6"/>
<path d="M404.2 618.6V606.7" stroke-width="2.6"/>
<path d="M415.1 618.6V606.7" stroke-width="2.6"/>
<path d="M426.0 618.6V606.7" stroke-width="2.6"/>
<path d="M436.9 618.6V606.7" stroke-width="2.6"/>
<path d="M447.8 618.6V606.7" stroke-width="2.6"/>
<path d="M458.7 618.6V606.7" stroke-width="2.6"/>
<path d="M469.6 618.6V606.7" stroke-width="2.6"/>
<path d="M480.5 618.6V606.7" stroke-width="2.6"/>
</g>
<g stroke="#1a2a58" stroke-width="4.4" stroke-linecap="butt" fill="none">
<path d="M427.0 590.2H494.5"/>
<path d="M426.0 590.2V603.0" stroke-width="4.4"/>
<path d="M436.9 590.2V603.0" stroke-width="4.4"/>
<path d="M447.8 590.2V603.0" stroke-width="4.4"/>
<path d="M458.7 590.2V603.0" stroke-width="4.4"/>
<path d="M469.6 590.2V603.0" stroke-width="4.4"/>
<path d="M480.5 590.2V603.0" stroke-width="4.4"/>
</g>
<g stroke="#4467ad" stroke-width="2.6" stroke-linecap="butt" fill="none">
<path d="M427.9 590.2H493.6"/>
<path d="M426.0 590.2V602.1" stroke-width="2.6"/>
<path d="M436.9 590.2V602.1" stroke-width="2.6"/>
<path d="M447.8 590.2V602.1" stroke-width="2.6"/>
<path d="M458.7 590.2V602.1" stroke-width="2.6"/>
<path d="M469.6 590.2V602.1" stroke-width="2.6"/>
<path d="M480.5 590.2V602.1" stroke-width="2.6"/>
</g>
<path d="M371.5 603V596.5 M382.4 603V591.5 M393.3 603V591.5 M404.2 603V591.5 M415.1 603V596.0" fill="none" stroke="#1a2a58" stroke-width="4.4" stroke-linejoin="round"/><path d="M371.5 603V596.5 M382.4 603V591.5 M393.3 603V591.5 M404.2 603V591.5 M415.1 603V596.0" fill="none" stroke="#4467ad" stroke-width="2.6" stroke-linejoin="round"/>
<path d="M382.4 591H404.2" fill="none" stroke="#1a2a58" stroke-width="3.6" stroke-linejoin="round"/><path d="M382.4 591H404.2" fill="none" stroke="#4467ad" stroke-width="1.8" stroke-linejoin="round"/>
<path d="M321.7 589.3C320.7 584.6 320.1 585.8 321.0 582.0C321.9 578.2 321.9 581.2 324.5 578.0C327.1 574.8 325.2 573.7 328.7 572.4C332.2 571.1 330.9 574.0 335.0 574.0C339.1 574.0 336.5 572.4 341.0 572.5C345.5 572.6 345.2 576.4 348.5 574.2C351.8 572.0 348.8 570.4 351.0 566.0C353.2 561.6 351.9 564.7 355.0 561.0C358.1 557.3 356.9 556.0 360.2 555.0C363.5 554.0 361.4 557.3 365.0 558.0C368.6 558.7 366.8 557.7 371.0 557.0C375.2 556.3 374.7 555.0 377.7 556.0C380.7 557.0 377.7 557.8 380.0 560.0C382.3 562.2 382.7 560.2 384.7 562.5C386.7 564.8 384.1 564.3 386.0 567.0C387.9 569.7 387.2 571.0 390.5 570.7C393.8 570.4 392.1 568.3 396.0 566.0C399.9 563.7 397.5 565.0 402.2 563.7C406.9 562.4 404.2 561.4 410.0 562.0C415.8 562.6 415.4 563.1 419.7 565.4C424.0 567.7 419.9 565.7 423.0 569.0C426.1 572.3 426.7 571.3 429.0 575.3C431.3 579.3 428.8 577.1 430.0 581.0C431.2 584.9 433.2 583.7 432.5 587.0C431.8 590.3 430.8 587.8 428.0 591.0C425.2 594.2 427.3 593.8 424.0 596.5C420.7 599.2 422.0 599.2 418.0 599.0C414.0 598.8 416.3 599.0 412.0 596.0C407.7 593.0 410.3 593.3 405.0 590.0C399.7 586.7 402.4 586.8 396.0 586.0C389.6 585.2 392.5 585.8 385.8 587.5C379.1 589.2 382.6 588.1 376.0 591.0C369.4 593.9 370.0 592.3 366.0 596.3C362.0 600.3 365.3 598.8 364.0 603.0C362.7 607.2 362.9 605.0 362.0 609.0C361.1 613.0 363.6 613.7 361.3 615.0C359.0 616.3 359.1 612.7 355.0 613.0C350.9 613.3 353.0 616.0 349.0 616.0C345.0 616.0 347.1 613.3 343.0 613.0C338.9 612.7 340.5 616.0 336.8 615.0C333.1 614.0 335.9 613.9 332.0 610.0C328.1 606.1 327.9 608.0 325.2 603.3C322.5 598.6 325.2 600.7 324.0 596.0C322.8 591.3 322.7 594.0 321.7 589.3Z" fill="#6ebf74" stroke="#2d6a30" stroke-width="1.1"/>
<path d="M327 594C325 584 331 578 340 578C336 588 336 598 342 606C334 606 328 602 327 594Z" fill="#8fd192" opacity="0.9"/>
<path d="M366 566C370 561 378 561 381 566C376 566 371 567 366 566Z" fill="#a5dba6"/>
<path d="M398 574C404 569 416 569 421 573C414 573 405 574 398 574Z" fill="#a5dba6"/>
<path d="M340 600C356 602 372 590 386 582C400 576 418 582 430 584C426 592 420 598 414 596C404 588 392 584 380 590C372 594 366 598 363 612C354 614 344 612 340 600Z" fill="#5eb066" opacity="0.55"/>
<path d="M338.8 617V612.6 M349.7 617V612.6 M360.6 617V612.6" fill="none" stroke="#17527e" stroke-width="4.4" stroke-linejoin="round"/><path d="M338.8 617V612.6 M349.7 617V612.6 M360.6 617V612.6" fill="none" stroke="#3da3d8" stroke-width="2.6" stroke-linejoin="round"/>
<path d="M465.7 603.5V584C465.7 580 467.5 578.3 469 578.3C470.5 578.3 472.3 580 472.3 584V603.5Z" fill="#e9792e" stroke="#c85d1c" stroke-width="0.8"/>
<text x="468.5" y="573.8" font-size="13.5" text-anchor="middle" font-weight="bold" fill="#e07a38" >Mutation</text>
<text x="499.8" y="594.1" font-size="13.5" text-anchor="start" font-weight="bold" fill="#2e4b98" >cDNA</text>
<text x="452.3" y="648.5" font-size="13.5" text-anchor="middle" font-weight="bold" fill="#3ea6da" >Viral RNA</text>
<path d="M389.0 650.8V670.0" stroke="#111" stroke-width="1.8"/><path d="M383.8 668.0L394.2 668.0L389.0 685.0Z" fill="#111"/>
<path d="M377.0 707.8L371.8 688.4" stroke="#e9792e" stroke-width="9.4" stroke-linecap="butt"/>
<path d="M432.7 763.5L452.1 768.7" stroke="#e9792e" stroke-width="9.4" stroke-linecap="butt"/>
<path d="M388.8 702.7L388.8 688.9 M401.5 704.4L405.1 691.0 M413.3 709.3L420.2 697.3 M423.4 717.1L433.2 707.3 M431.2 727.2L443.2 720.3 M436.1 739.0L449.5 735.4 M437.8 751.7L451.6 751.7 M436.1 764.4L449.5 768.0 M431.2 776.2L443.2 783.1 M423.4 786.3L433.2 796.1 M413.3 794.1L420.2 806.1 M401.5 799.0L405.1 812.4 M388.8 800.7L388.8 814.5 M376.1 799.0L372.5 812.4 M364.3 794.1L357.4 806.1 M354.2 786.3L344.4 796.1 M346.4 776.2L334.4 783.1 M341.5 764.4L328.1 768.0 M339.8 751.7L326.0 751.7 M341.5 739.0L328.1 735.4 M346.4 727.2L334.4 720.3 M354.2 717.1L344.4 707.3 M364.3 709.3L357.4 697.3 M376.1 704.4L372.5 691.0" fill="none" stroke="#1a2a58" stroke-width="4.2" stroke-linejoin="round"/><path d="M388.8 702.7L388.8 688.9 M401.5 704.4L405.1 691.0 M413.3 709.3L420.2 697.3 M423.4 717.1L433.2 707.3 M431.2 727.2L443.2 720.3 M436.1 739.0L449.5 735.4 M437.8 751.7L451.6 751.7 M436.1 764.4L449.5 768.0 M431.2 776.2L443.2 783.1 M423.4 786.3L433.2 796.1 M413.3 794.1L420.2 806.1 M401.5 799.0L405.1 812.4 M388.8 800.7L388.8 814.5 M376.1 799.0L372.5 812.4 M364.3 794.1L357.4 806.1 M354.2 786.3L344.4 796.1 M346.4 776.2L334.4 783.1 M341.5 764.4L328.1 768.0 M339.8 751.7L326.0 751.7 M341.5 739.0L328.1 735.4 M346.4 727.2L334.4 720.3 M354.2 717.1L344.4 707.3 M364.3 709.3L357.4 697.3 M376.1 704.4L372.5 691.0" fill="none" stroke="#4467ad" stroke-width="2.4" stroke-linejoin="round"/>
<circle cx="388.8" cy="751.7" r="49.2" fill="none" stroke="#1a2a58" stroke-width="4.8"/><circle cx="388.8" cy="751.7" r="49.2" fill="none" stroke="#4467ad" stroke-width="3"/>
<path d="M388.8 819.2V837.0" stroke="#111" stroke-width="1.8"/><path d="M383.6 835.0L394.0 835.0L388.8 852.0Z" fill="#111"/>
<rect x="292.4" y="854.8" width="8.4" height="5" fill="#e9792e" opacity="0.85"/>
<rect x="357.7" y="887.2" width="8.4" height="5" fill="#e9792e" opacity="0.85"/>
<g stroke="#1a2a58" stroke-width="4.6" stroke-linecap="butt" fill="none">
<path d="M282.4 859.4H419.0"/>
<path d="M296.6 859.4V873.2" stroke-width="4.4"/>
<path d="M307.5 859.4V873.2" stroke-width="4.4"/>
<path d="M318.4 859.4V873.2" stroke-width="4.4"/>
<path d="M329.2 859.4V873.2" stroke-width="4.4"/>
<path d="M340.1 859.4V873.2" stroke-width="4.4"/>
<path d="M351.0 859.4V873.2" stroke-width="4.4"/>
<path d="M361.9 859.4V873.2" stroke-width="4.4"/>
<path d="M372.8 859.4V873.2" stroke-width="4.4"/>
<path d="M383.6 859.4V873.2" stroke-width="4.4"/>
<path d="M394.5 859.4V873.2" stroke-width="4.4"/>
<path d="M405.4 859.4V873.2" stroke-width="4.4"/>
</g>
<g stroke="#4467ad" stroke-width="2.8" stroke-linecap="butt" fill="none">
<path d="M283.3 859.4H418.1"/>
<path d="M296.6 859.4V872.3" stroke-width="2.6"/>
<path d="M307.5 859.4V872.3" stroke-width="2.6"/>
<path d="M318.4 859.4V872.3" stroke-width="2.6"/>
<path d="M329.2 859.4V872.3" stroke-width="2.6"/>
<path d="M340.1 859.4V872.3" stroke-width="2.6"/>
<path d="M351.0 859.4V872.3" stroke-width="2.6"/>
<path d="M361.9 859.4V872.3" stroke-width="2.6"/>
<path d="M372.8 859.4V872.3" stroke-width="2.6"/>
<path d="M383.6 859.4V872.3" stroke-width="2.6"/>
<path d="M394.5 859.4V872.3" stroke-width="2.6"/>
<path d="M405.4 859.4V872.3" stroke-width="2.6"/>
</g>
<g stroke="#1a2a58" stroke-width="4.6" stroke-linecap="butt" fill="none">
<path d="M282.4 887.6H419.0"/>
<path d="M296.6 887.6V873.8" stroke-width="4.4"/>
<path d="M307.5 887.6V873.8" stroke-width="4.4"/>
<path d="M318.4 887.6V873.8" stroke-width="4.4"/>
<path d="M329.2 887.6V873.8" stroke-width="4.4"/>
<path d="M340.1 887.6V873.8" stroke-width="4.4"/>
<path d="M351.0 887.6V873.8" stroke-width="4.4"/>
<path d="M361.9 887.6V873.8" stroke-width="4.4"/>
<path d="M372.8 887.6V873.8" stroke-width="4.4"/>
<path d="M383.6 887.6V873.8" stroke-width="4.4"/>
<path d="M394.5 887.6V873.8" stroke-width="4.4"/>
<path d="M405.4 887.6V873.8" stroke-width="4.4"/>
</g>
<g stroke="#4467ad" stroke-width="2.8" stroke-linecap="butt" fill="none">
<path d="M283.3 887.6H418.1"/>
<path d="M296.6 887.6V874.7" stroke-width="2.6"/>
<path d="M307.5 887.6V874.7" stroke-width="2.6"/>
<path d="M318.4 887.6V874.7" stroke-width="2.6"/>
<path d="M329.2 887.6V874.7" stroke-width="2.6"/>
<path d="M340.1 887.6V874.7" stroke-width="2.6"/>
<path d="M351.0 887.6V874.7" stroke-width="2.6"/>
<path d="M361.9 887.6V874.7" stroke-width="2.6"/>
<path d="M372.8 887.6V874.7" stroke-width="2.6"/>
<path d="M383.6 887.6V874.7" stroke-width="2.6"/>
<path d="M394.5 887.6V874.7" stroke-width="2.6"/>
<path d="M405.4 887.6V874.7" stroke-width="2.6"/>
</g>
<rect x="292.6" y="861.7" width="8" height="12.3" fill="#e8793a" stroke="#c4601f" stroke-width="0.7"/><rect x="295.1" y="862.2" width="3" height="11.3" fill="#ee8d4f"/>
<rect x="357.9" y="873.0" width="8" height="12.3" fill="#e8793a" stroke="#c4601f" stroke-width="0.7"/><rect x="360.4" y="873.5" width="3" height="11.3" fill="#ee8d4f"/>
<rect x="401.0" y="892.4" width="8.4" height="5" fill="#e9792e" opacity="0.85"/>
<rect x="466.3" y="924.6" width="8.4" height="5" fill="#e9792e" opacity="0.85"/>
<g stroke="#1a2a58" stroke-width="4.6" stroke-linecap="butt" fill="none">
<path d="M358.4 897.0H495.0"/>
<path d="M372.6 897.0V910.7" stroke-width="4.4"/>
<path d="M383.5 897.0V910.7" stroke-width="4.4"/>
<path d="M394.4 897.0V910.7" stroke-width="4.4"/>
<path d="M405.2 897.0V910.7" stroke-width="4.4"/>
<path d="M416.1 897.0V910.7" stroke-width="4.4"/>
<path d="M427.0 897.0V910.7" stroke-width="4.4"/>
<path d="M437.9 897.0V910.7" stroke-width="4.4"/>
<path d="M448.8 897.0V910.7" stroke-width="4.4"/>
<path d="M459.6 897.0V910.7" stroke-width="4.4"/>
<path d="M470.5 897.0V910.7" stroke-width="4.4"/>
<path d="M481.4 897.0V910.7" stroke-width="4.4"/>
</g>
<g stroke="#4467ad" stroke-width="2.8" stroke-linecap="butt" fill="none">
<path d="M359.3 897.0H494.1"/>
<path d="M372.6 897.0V909.8" stroke-width="2.6"/>
<path d="M383.5 897.0V909.8" stroke-width="2.6"/>
<path d="M394.4 897.0V909.8" stroke-width="2.6"/>
<path d="M405.2 897.0V909.8" stroke-width="2.6"/>
<path d="M416.1 897.0V909.8" stroke-width="2.6"/>
<path d="M427.0 897.0V909.8" stroke-width="2.6"/>
<path d="M437.9 897.0V909.8" stroke-width="2.6"/>
<path d="M448.8 897.0V909.8" stroke-width="2.6"/>
<path d="M459.6 897.0V909.8" stroke-width="2.6"/>
<path d="M470.5 897.0V909.8" stroke-width="2.6"/>
<path d="M481.4 897.0V909.8" stroke-width="2.6"/>
</g>
<g stroke="#1a2a58" stroke-width="4.6" stroke-linecap="butt" fill="none">
<path d="M358.4 925.0H495.0"/>
<path d="M372.6 925.0V911.3" stroke-width="4.4"/>
<path d="M383.5 925.0V911.3" stroke-width="4.4"/>
<path d="M394.4 925.0V911.3" stroke-width="4.4"/>
<path d="M405.2 925.0V911.3" stroke-width="4.4"/>
<path d="M416.1 925.0V911.3" stroke-width="4.4"/>
<path d="M427.0 925.0V911.3" stroke-width="4.4"/>
<path d="M437.9 925.0V911.3" stroke-width="4.4"/>
<path d="M448.8 925.0V911.3" stroke-width="4.4"/>
<path d="M459.6 925.0V911.3" stroke-width="4.4"/>
<path d="M470.5 925.0V911.3" stroke-width="4.4"/>
<path d="M481.4 925.0V911.3" stroke-width="4.4"/>
</g>
<g stroke="#4467ad" stroke-width="2.8" stroke-linecap="butt" fill="none">
<path d="M359.3 925.0H494.1"/>
<path d="M372.6 925.0V912.2" stroke-width="2.6"/>
<path d="M383.5 925.0V912.2" stroke-width="2.6"/>
<path d="M394.4 925.0V912.2" stroke-width="2.6"/>
<path d="M405.2 925.0V912.2" stroke-width="2.6"/>
<path d="M416.1 925.0V912.2" stroke-width="2.6"/>
<path d="M427.0 925.0V912.2" stroke-width="2.6"/>
<path d="M437.9 925.0V912.2" stroke-width="2.6"/>
<path d="M448.8 925.0V912.2" stroke-width="2.6"/>
<path d="M459.6 925.0V912.2" stroke-width="2.6"/>
<path d="M470.5 925.0V912.2" stroke-width="2.6"/>
<path d="M481.4 925.0V912.2" stroke-width="2.6"/>
</g>
<rect x="401.2" y="899.3" width="8" height="12.2" fill="#e8793a" stroke="#c4601f" stroke-width="0.7"/><rect x="403.7" y="899.8" width="3" height="11.2" fill="#ee8d4f"/>
<rect x="466.5" y="910.5" width="8" height="12.2" fill="#e8793a" stroke="#c4601f" stroke-width="0.7"/><rect x="469.0" y="911.0" width="3" height="11.2" fill="#ee8d4f"/>
</g>
<g id="panelB" font-family="Liberation Sans, Arial, sans-serif">
<text x="14.5" y="985" font-size="33" font-weight="bold" fill="#111">B</text>
<text x="402.5" y="980.8" font-size="33" font-weight="bold" fill="#111">E</text>
<path d="M659.5 942H666.7" stroke="#222" stroke-width="1.6"/>
<path d="M112.3 999.3V1239.3H376" fill="none" stroke="#333" stroke-width="1.3"/>
<g font-size="14.3" fill="#3b4863" text-anchor="end">
<text x="110.5" y="1004.3">0.30</text>
<text x="110.5" y="1041.7">0.25</text>
<text x="110.5" y="1079.0">0.20</text>
<text x="110.5" y="1116.7">0.15</text>
<text x="110.5" y="1154.3">0.10</text>
<text x="110.5" y="1191.7">0.05</text>
<text x="110.5" y="1229.3">0.00</text>
</g><g font-size="14.3" fill="#3b4863" text-anchor="middle">
<text x="125.0" y="1251.7">0.00</text>
<text x="162.3" y="1251.7">0.05</text>
<text x="204.0" y="1251.7">0.10</text>
<text x="245.0" y="1251.7">0.15</text>
<text x="286.0" y="1251.7">0.20</text>
<text x="326.0" y="1251.7">0.25</text>
<text x="372.0" y="1251.7">0.30</text>
</g>
<text x="132" y="1006.7" font-size="20.5" font-weight="bold" fill="#111">r = 0.89</text>
<g font-size="13.8" fill="#222" text-anchor="middle">
<text x="239.5" y="1286.7"><tspan font-style="italic">in cells</tspan> replicate 1</text><text x="239.5" y="1305">DMS signal</text>
<text transform="translate(33.2 1116.7) rotate(-90)"><tspan font-style="italic">in cells</tspan> replicate 2</text><text transform="translate(51.8 1116.7) rotate(-90)">DMS signal</text>
</g>
<path d="M125 1224.3L369.3 1001.7" stroke="#6f9fc4" stroke-width="0.9" stroke-dasharray="1.6 1.2" fill="none"/>
<path d="M123.3 1228L123 1208C124 1200 126 1196 130 1191L146.7 1170.5L163 1156C170 1151 184 1147 193 1147C196 1150 196 1154 195 1158.3L190 1176.7L180 1190L166.7 1205L156.7 1213.3C150 1220 146 1224 140 1226.5C134 1228.5 128 1228.5 123.3 1228Z" fill="#2f7bb8"/>
<path d="M306.7 1015.7h0M297.3 1026.0h0M277.7 1061.0h0M279.3 1075.3h0M261.0 1078.7h0M235.0 1086.7h0M220.0 1096.7h0M240.7 1107.3h0M237.0 1113.0h0M229.0 1112.5h0M224.0 1115.5h0M217.5 1108.0h0M212.5 1120.5h0M219.0 1119.0h0M227.0 1127.5h0M200.0 1108.5h0M203.0 1114.5h0M195.0 1118.0h0M193.0 1128.5h0M201.0 1132.0h0M215.0 1135.0h0M178.0 1139.0h0M189.0 1140.0h0M195.0 1141.0h0M203.0 1140.0h0M220.0 1137.0h0M196.0 1146.0h0M205.0 1147.0h0M221.0 1145.0h0M223.0 1149.5h0M199.0 1160.0h0M207.0 1158.0h0M200.0 1171.0h0M192.0 1178.0h0M185.0 1193.0h0M190.0 1184.0h0M171.5 1216.5h0M130.0 1188.0h0M132.0 1188.0h0M137.0 1177.0h0M140.0 1183.0h0M163.0 1155.0h0M170.0 1151.0h0M176.0 1148.0h0M183.0 1146.0h0M139.7 1213.4h0M161.3 1192.1h0M158.6 1193.3h0M137.4 1212.7h0M177.6 1181.1h0M144.8 1215.9h0M151.7 1188.5h0M182.1 1171.8h0M138.6 1213.5h0M134.4 1209.6h0M141.8 1197.9h0M137.3 1212.7h0M135.7 1203.8h0M149.0 1190.6h0M132.4 1202.7h0M155.3 1182.6h0M131.9 1210.7h0M155.2 1200.1h0M149.7 1207.8h0M142.0 1186.9h0M143.1 1197.8h0M152.0 1184.0h0M146.3 1168.9h0M134.5 1212.1h0M153.7 1140.8h0M140.6 1216.2h0M157.1 1191.1h0M139.1 1211.6h0M145.4 1208.0h0M135.7 1210.7h0M174.7 1155.5h0M139.8 1202.2h0M178.9 1191.2h0M140.1 1212.9h0M138.2 1219.7h0M130.2 1220.2h0M161.1 1197.5h0M136.1 1201.3h0M134.7 1211.8h0M131.2 1198.1h0M151.5 1202.8h0M132.8 1214.5h0M135.4 1218.2h0M128.8 1221.1h0M150.1 1203.5h0M146.2 1188.3h0M133.0 1222.9h0M179.4 1187.2h0M157.9 1191.5h0M150.5 1202.9h0M132.5 1212.5h0M154.9 1186.0h0M135.7 1212.8h0M178.0 1159.6h0M133.4 1222.6h0M130.6 1208.5h0M143.4 1210.7h0M178.7 1160.5h0M137.4 1194.3h0M150.4 1195.3h0M149.7 1199.1h0M136.8 1181.3h0M186.2 1125.2h0M143.0 1210.3h0M139.2 1215.0h0M159.1 1166.7h0M143.8 1184.1h0M146.6 1172.0h0M124.7 1218.2h0M133.3 1208.1h0M153.2 1190.9h0M162.0 1174.4h0M144.4 1207.6h0M134.4 1210.0h0M164.3 1177.7h0M139.5 1207.4h0M163.8 1176.9h0M153.5 1186.8h0M134.1 1209.7h0M138.6 1216.1h0M133.3 1223.2h0M146.6 1194.6h0M166.1 1157.1h0M151.9 1186.5h0M134.5 1214.4h0M132.9 1217.1h0M150.1 1207.9h0M149.2 1194.0h0M164.0 1170.3h0M145.0 1199.5h0M129.8 1210.2h0M124.6 1208.4h0M147.7 1189.3h0M135.0 1204.0h0M194.2 1154.4h0M156.3 1158.9h0M177.9 1145.2h0M139.9 1212.1h0M146.4 1204.7h0M143.2 1184.0h0M162.2 1200.8h0M178.4 1191.8h0M153.6 1217.6h0M129.9 1210.8h0M143.4 1207.6h0M160.2 1201.9h0M137.3 1218.7h0M131.9 1214.7h0M135.9 1218.1h0M192.7 1147.7h0M138.4 1209.6h0M151.1 1212.4h0M162.2 1201.0h0M174.6 1166.4h0M136.3 1208.9h0M160.9 1201.9h0M154.7 1210.8h0M157.4 1198.1h0M136.7 1184.9h0M152.7 1204.0h0M153.9 1198.4h0M138.4 1212.6h0M150.1 1197.5h0M153.4 1198.3h0M148.4 1198.8h0M133.1 1210.9h0M137.0 1215.5h0M131.9 1208.2h0M139.0 1199.4h0M155.3 1202.3h0M132.9 1213.4h0M162.4 1179.7h0M141.3 1219.5h0M147.8 1202.0h0M146.1 1211.8h0M156.4 1190.3h0M154.6 1199.4h0M168.5 1209.9h0M146.9 1201.6h0M193.9 1146.4h0M126.3 1215.6h0M132.9 1215.7h0M131.8 1223.5h0M145.5 1210.7h0M127.8 1214.3h0M142.1 1195.7h0M159.7 1174.5h0M152.5 1205.3h0M178.1 1194.7h0M138.8 1197.0h0M167.1 1189.7h0M159.8 1198.3h0M154.3 1158.7h0M156.0 1186.5h0M148.1 1206.2h0M149.4 1205.2h0M150.5 1180.7h0M169.9 1200.3h0M127.7 1212.9h0M137.1 1222.9h0M149.3 1205.8h0M142.5 1210.1h0M163.1 1163.8h0M128.5 1216.5h0M167.7 1172.4h0M136.0 1212.6h0M169.2 1172.6h0M128.9 1219.9h0M165.1 1173.3h0M142.2 1192.6h0M136.5 1216.7h0M143.9 1205.8h0M135.9 1221.4h0M188.5 1151.3h0M151.6 1199.2h0M141.7 1168.8h0M139.8 1213.2h0M157.7 1185.1h0M148.3 1196.2h0M124.5 1218.9h0M132.6 1221.0h0M147.2 1200.6h0M133.8 1217.6h0M140.5 1202.5h0M174.3 1154.7h0M145.7 1191.6h0M142.1 1205.5h0M137.6 1214.7h0M150.2 1196.8h0M152.1 1199.1h0M164.5 1199.5h0M177.1 1198.0h0M160.8 1183.8h0M131.6 1202.6h0M143.3 1203.9h0M144.0 1211.6h0M146.7 1194.8h0M171.1 1171.3h0M157.8 1172.3h0M138.9 1213.0h0M142.8 1197.0h0M136.8 1220.5h0M129.4 1221.5h0M142.5 1211.5h0M130.0 1201.8h0M147.7 1187.6h0M140.3 1201.0h0M141.3 1202.0h0M175.9 1133.2h0M133.5 1217.2h0M143.0 1194.3h0M155.7 1204.9h0M182.7 1187.3h0M133.8 1202.6h0M126.1 1210.2h0M182.3 1189.1h0M186.5 1165.1h0M134.7 1204.9h0M174.4 1146.4h0M161.8 1179.1h0M134.9 1216.2h0M185.0 1153.3h0M136.1 1202.5h0M165.4 1195.6h0M140.8 1201.7h0M146.6 1209.7h0M136.4 1222.8h0M137.7 1203.6h0M137.3 1222.9h0M144.2 1214.6h0M132.3 1211.5h0M143.5 1210.8h0M133.5 1211.1h0M157.2 1196.5h0M167.4 1164.3h0M130.4 1213.8h0M174.5 1174.7h0M180.9 1182.3h0M138.0 1212.2h0M160.5 1192.7h0M136.6 1217.4h0M198.3 1150.3h0M138.8 1222.6h0M180.8 1199.0h0M133.4 1222.5h0M201.5 1170.7h0M134.1 1209.5h0M148.9 1207.3h0M131.4 1221.6h0M137.2 1213.7h0M157.7 1194.6h0M145.6 1189.6h0M137.8 1213.8h0M161.5 1197.9h0M136.8 1212.3h0M143.5 1221.8h0M150.2 1196.3h0M179.2 1156.2h0M191.7 1146.5h0M168.8 1175.4h0M138.5 1219.9h0M154.8 1200.7h0M142.1 1224.7h0M146.2 1201.3h0M160.8 1193.0h0M138.1 1209.3h0M171.1 1158.9h0M137.2 1199.6h0M165.6 1187.8h0M170.6 1177.9h0M128.0 1211.9h0M204.3 1154.7h0M132.8 1223.3h0M143.9 1195.6h0M131.0 1209.2h0M163.3 1194.2h0M161.9 1190.2h0M141.3 1193.2h0M158.0 1188.1h0M152.9 1205.3h0M135.3 1181.8h0M179.9 1167.2h0M180.8 1171.2h0M133.6 1221.6h0M183.8 1174.4h0M137.3 1219.4h0M203.8 1157.2h0M138.5 1202.4h0M139.8 1212.8h0M132.5 1212.7h0M143.6 1208.6h0M135.9 1200.8h0M155.4 1202.0h0M134.0 1217.9h0M150.6 1200.6h0M164.1 1192.9h0M143.8 1200.9h0M135.3 1210.7h0M147.4 1188.2h0M177.5 1146.2h0M149.8 1218.5h0M199.5 1153.5h0M185.2 1194.0h0M133.4 1219.2h0M151.3 1187.5h0M126.2 1214.0h0M150.1 1209.7h0M144.7 1196.3h0M128.0 1206.6h0M136.0 1214.4h0M151.1 1208.4h0M135.6 1220.2h0M136.2 1198.2h0M161.7 1186.2h0M153.2 1205.9h0M169.0 1178.9h0M152.4 1188.9h0M135.9 1210.0h0M164.4 1148.0h0M145.2 1205.3h0M134.6 1201.0h0M134.4 1203.4h0M142.4 1199.0h0M161.8 1201.9h0M135.8 1214.5h0M168.3 1164.6h0M135.8 1216.6h0M142.1 1214.4h0M152.6 1209.5h0M136.2 1211.1h0M184.0 1179.6h0M141.9 1211.2h0M143.2 1219.0h0M136.6 1219.9h0M223.7 1167.7h0M146.3 1207.1h0M173.3 1148.7h0M167.3 1187.5h0M147.9 1207.3h0M157.0 1191.9h0M148.4 1197.4h0M139.8 1218.9h0M186.1 1166.1h0M145.6 1211.4h0M143.0 1188.3h0M153.6 1160.4h0M162.4 1201.7h0M132.0 1219.2h0M146.1 1190.6h0M139.6 1202.8h0M144.8 1218.7h0M133.1 1196.8h0M181.0 1151.7h0M149.3 1204.2h0M129.4 1211.7h0M147.3 1205.4h0M144.6 1203.9h0M132.2 1222.4h0M137.2 1199.3h0M140.8 1198.3h0M152.3 1202.7h0M140.6 1217.8h0M153.7 1195.5h0M163.5 1201.2h0M129.8 1213.4h0M170.2 1196.6h0M145.9 1204.5h0M132.1 1212.3h0M138.2 1210.7h0M136.4 1216.7h0M129.9 1212.4h0M151.1 1198.8h0M142.9 1204.0h0M141.3 1210.1h0M174.3 1185.2h0M163.9 1180.3h0M160.2 1193.5h0M134.9 1206.1h0M174.6 1184.3h0M153.7 1176.9h0M136.7 1204.4h0M136.5 1217.9h0M139.3 1215.9h0M130.3 1218.8h0M180.3 1139.5h0M176.4 1169.8h0M179.7 1151.6h0M151.2 1163.0h0M143.6 1210.9h0M147.2 1189.9h0M136.5 1209.7h0M140.0 1209.8h0M135.9 1219.5h0M139.5 1211.6h0M128.5 1213.5h0M169.6 1193.5h0M146.9 1208.6h0M192.1 1184.6h0M155.6 1196.6h0M133.5 1217.4h0M138.6 1214.7h0M160.2 1176.2h0M150.5 1211.1h0M150.0 1191.1h0M151.3 1195.1h0M147.9 1191.7h0M137.0 1187.9h0M135.7 1220.9h0M135.4 1214.8h0M149.5 1188.3h0M142.9 1218.7h0M158.0 1197.0h0M132.0 1218.2h0M124.1 1213.7h0M127.5 1215.9h0M132.1 1216.2h0M193.0 1156.0h0M177.6 1184.8h0M153.0 1198.3h0M163.6 1170.0h0M137.0 1192.6h0M161.7 1186.4h0M131.6 1216.6h0M167.6 1144.0h0M154.7 1171.9h0M139.1 1209.7h0M163.2 1177.4h0M140.1 1198.7h0M150.6 1170.3h0M151.3 1204.7h0M152.4 1195.0h0M142.3 1199.5h0M178.6 1172.6h0M141.7 1199.9h0M135.0 1221.6h0M219.9 1168.5h0M148.2 1162.4h0M178.4 1162.3h0M153.1 1189.2h0M136.8 1210.2h0M135.4 1216.8h0M161.0 1171.5h0M144.0 1193.9h0M152.1 1205.1h0M145.0 1202.6h0M152.5 1189.2h0M176.0 1154.4h0M170.8 1159.3h0M148.6 1194.6h0M139.4 1212.0h0M169.6 1174.7h0M151.0 1185.3h0M152.4 1201.4h0M138.5 1211.7h0M156.5 1193.5h0M134.9 1221.1h0M165.5 1171.2h0M126.2 1212.5h0M134.5 1202.8h0M149.0 1163.0h0M158.1 1181.6h0M168.6 1204.4h0M187.4 1170.0h0M141.2 1216.3h0M130.8 1216.6h0M152.7 1197.3h0M166.7 1164.9h0M132.5 1212.5h0M140.5 1210.7h0M163.6 1156.7h0M138.7 1217.5h0M139.5 1215.7h0M168.7 1169.3h0M162.0 1190.3h0M151.6 1193.8h0M149.2 1190.2h0M134.1 1213.9h0M146.6 1196.4h0M150.1 1183.1h0M170.2 1199.9h0M155.4 1203.5h0M192.1 1174.0h0M168.7 1178.4h0M131.2 1215.0h0M146.3 1206.2h0M144.0 1200.1h0M145.0 1204.4h0M139.0 1193.6h0M168.8 1196.3h0M163.0 1189.8h0M166.3 1177.6h0M153.6 1181.9h0M138.6 1216.4h0M146.8 1193.7h0M128.1 1212.1h0M139.7 1223.5h0M126.8 1213.0h0M142.0 1197.7h0M159.1 1202.9h0M155.0 1207.2h0M140.9 1214.7h0M136.2 1200.9h0M140.5 1220.6h0M134.2 1204.9h0M160.7 1162.5h0M137.6 1213.4h0M143.4 1179.6h0M147.3 1205.4h0M151.6 1193.0h0M154.3 1176.2h0M163.0 1176.3h0M142.7 1190.8h0M157.9 1182.5h0M190.3 1168.3h0M137.4 1218.1h0M172.9 1150.0h0M160.0 1166.7h0M150.3 1190.7h0M165.8 1184.7h0M166.4 1179.0h0M148.2 1215.6h0M139.5 1203.4h0M153.7 1196.6h0M157.7 1183.1h0M145.2 1184.7h0M154.8 1206.1h0M144.9 1215.4h0M169.0 1190.3h0M135.9 1202.9h0M162.0 1198.9h0M137.6 1220.2h0M150.8 1197.4h0M130.4 1217.8h0M153.6 1211.7h0M165.7 1201.1h0M133.0 1215.9h0M145.1 1205.2h0M170.7 1172.4h0M139.8 1205.7h0M158.9 1185.9h0M198.2 1146.5h0M131.9 1218.9h0M138.1 1209.8h0M145.0 1198.6h0M126.8 1216.6h0M149.1 1209.8h0M157.7 1173.9h0M148.0 1179.9h0M163.6 1185.9h0M180.0 1201.8h0M159.4 1192.4h0M162.4 1206.7h0M135.6 1209.9h0M149.2 1182.3h0M167.8 1197.8h0M162.2 1194.4h0M124.5 1215.0h0M169.0 1201.4h0M149.0 1207.7h0M160.3 1199.7h0M174.6 1182.9h0M131.7 1201.3h0M143.4 1204.6h0M173.6 1143.4h0M154.8 1194.3h0M151.8 1198.6h0M159.0 1195.1h0M152.6 1160.7h0M149.6 1180.9h0M135.5 1215.5h0M142.1 1202.9h0M146.6 1187.6h0M164.2 1218.2h0M160.6 1199.9h0M158.7 1197.3h0M156.0 1187.3h0M134.8 1227.4h0M130.3 1213.8h0M129.2 1199.7h0M166.8 1194.1h0M194.8 1160.9h0M133.5 1218.0h0M137.6 1217.4h0M154.7 1195.8h0M133.8 1211.9h0M139.9 1207.9h0M174.7 1192.1h0M137.0 1206.4h0M140.5 1214.2h0M128.5 1221.2h0M166.6 1200.3h0M157.2 1193.8h0M172.3 1177.7h0M129.3 1221.1h0M185.7 1146.8h0M169.1 1186.6h0M146.7 1209.3h0M148.8 1198.8h0M153.8 1210.4h0M140.0 1225.2h0M150.9 1214.8h0M157.1 1198.2h0M159.6 1207.4h0M146.1 1190.2h0M132.1 1204.3h0M133.5 1216.3h0M137.2 1206.5h0M136.2 1211.7h0M152.3 1190.9h0M182.5 1171.5h0M157.3 1194.3h0M149.3 1217.1h0M151.4 1198.9h0M156.5 1189.1h0M166.4 1219.0h0M140.4 1214.0h0M152.3 1210.8h0M144.3 1205.5h0M131.2 1216.1h0M142.0 1211.9h0M141.1 1178.8h0M147.4 1193.7h0M135.2 1215.5h0M171.0 1179.7h0M132.4 1210.1h0M125.1 1217.2h0M153.1 1185.0h0M135.8 1212.2h0M169.1 1200.0h0M150.9 1208.2h0M192.3 1189.6h0M137.7 1215.7h0M145.2 1207.5h0M143.6 1192.9h0M144.9 1188.7h0M138.2 1219.7h0M163.5 1190.5h0M140.5 1193.2h0M168.4 1200.7h0M163.0 1158.5h0M143.0 1225.3h0M138.0 1212.4h0M139.9 1209.4h0M132.8 1214.9h0M137.6 1199.7h0M148.6 1196.9h0M142.9 1204.4h0M130.6 1209.0h0M132.8 1221.9h0M136.5 1193.3h0M145.1 1181.7h0M153.0 1206.2h0M164.2 1144.9h0M140.7 1182.2h0M164.6 1173.5h0M130.7 1190.0h0M171.4 1196.5h0M164.0 1197.3h0M146.2 1208.7h0M134.5 1208.9h0M153.7 1204.4h0M144.2 1209.2h0M136.0 1216.2h0M197.7 1160.3h0M195.3 1174.9h0M135.1 1210.9h0M155.9 1205.4h0M139.0 1197.8h0M135.1 1212.3h0M158.1 1200.6h0M150.2 1185.7h0M129.6 1216.1h0M133.2 1220.3h0M144.0 1201.8h0M135.7 1192.2h0M137.3 1197.0h0M142.6 1202.4h0M151.2 1183.1h0M147.7 1200.0h0M142.1 1194.2h0M142.4 1190.6h0M159.1 1167.4h0M143.1 1212.8h0M134.0 1216.8h0M138.3 1207.1h0M127.0 1211.4h0M145.2 1206.6h0M200.4 1152.4h0M144.4 1195.9h0M167.1 1186.0h0M158.2 1186.6h0M175.5 1174.4h0M183.5 1184.6h0M165.0 1182.1h0M173.5 1190.9h0M139.2 1213.2h0M172.2 1155.0h0M148.0 1197.6h0M144.4 1191.8h0M139.7 1212.9h0M171.6 1160.3h0M137.9 1217.4h0M170.1 1201.6h0M166.7 1193.9h0M175.2 1173.9h0M159.9 1190.3h0M122.8 1211.4h0M142.0 1186.5h0M130.3 1212.6h0M165.6 1199.4h0M146.5 1209.3h0M137.3 1198.4h0M150.6 1208.7h0M126.0 1203.7h0M167.6 1135.3h0M132.0 1207.2h0M189.1 1140.5h0M130.5 1213.8h0M183.7 1174.3h0M143.6 1200.9h0M161.1 1188.1h0M141.4 1198.4h0M145.8 1199.6h0M136.1 1214.5h0M157.6 1199.6h0M127.6 1212.7h0M140.2 1193.0h0M126.8 1218.3h0M150.7 1182.8h0M144.3 1212.6h0M167.3 1185.3h0M142.2 1211.8h0M163.9 1183.6h0M130.3 1213.9h0M168.2 1182.7h0M151.4 1207.7h0M142.6 1194.2h0M139.8 1217.4h0M144.9 1185.3h0M153.1 1216.4h0M142.8 1195.1h0M176.4 1157.5h0M144.6 1162.6h0M126.1 1215.4h0M149.1 1187.9h0M179.7 1167.2h0M144.2 1199.0h0M143.3 1200.9h0M152.0 1180.1h0M136.8 1216.0h0M135.0 1210.1h0M142.8 1203.5h0M143.1 1199.6h0M147.3 1198.7h0M140.8 1210.0h0M145.8 1211.2h0M158.9 1170.2h0M166.7 1188.4h0M133.8 1209.1h0M134.2 1222.6h0M165.5 1195.2h0M149.3 1198.2h0M165.8 1184.8h0M135.8 1205.8h0M132.0 1207.7h0M152.3 1189.3h0M156.6 1200.6h0M170.7 1168.7h0M137.0 1204.2h0M156.8 1199.6h0M142.4 1215.8h0M144.4 1177.2h0M174.7 1192.7h0M161.4 1183.4h0M135.0 1209.8h0M144.5 1192.8h0M165.7 1187.6h0M151.3 1198.1h0M142.8 1203.6h0M172.1 1181.9h0M131.0 1216.1h0M147.5 1193.0h0M167.0 1188.5h0M158.6 1186.7h0M157.7 1187.9h0M133.3 1217.0h0M153.0 1203.6h0M155.1 1191.5h0M146.8 1206.6h0M199.9 1169.6h0M149.3 1197.5h0M196.1 1184.9h0M173.2 1192.7h0M151.7 1203.1h0M172.0 1194.6h0M130.8 1194.7h0M132.6 1217.0h0M139.9 1211.0h0M157.2 1205.9h0M137.2 1211.6h0M135.5 1208.2h0M142.7 1214.8h0M161.2 1185.1h0M135.4 1186.6h0M145.4 1194.4h0M169.6 1158.0h0M132.6 1200.8h0M137.7 1204.2h0M160.7 1187.7h0M172.9 1166.4h0M156.4 1199.5h0M134.7 1211.6h0M150.7 1189.2h0M155.9 1192.9h0M143.2 1219.3h0M128.0 1218.0h0M210.9 1151.2h0M150.9 1201.6h0M165.7 1197.3h0M156.3 1206.0h0M143.3 1204.8h0M142.8 1208.2h0M182.0 1171.7h0M169.3 1184.1h0M142.1 1213.5h0M171.6 1185.0h0M164.2 1164.9h0M155.2 1195.9h0M137.0 1197.9h0M142.8 1198.3h0M171.9 1146.0h0M128.0 1219.3h0M157.7 1184.8h0M146.0 1206.2h0M127.7 1218.2h0M146.0 1219.0h0M133.8 1217.3h0M150.3 1187.9h0M151.4 1187.5h0M160.6 1198.5h0M173.6 1164.1h0M153.8 1187.2h0M138.9 1204.5h0M169.8 1199.2h0M170.1 1194.7h0M146.9 1214.3h0M142.5 1201.3h0M152.1 1171.2h0M128.9 1211.8h0M176.2 1177.5h0M175.3 1189.2h0M142.8 1194.2h0M138.1 1200.8h0M142.2 1214.2h0M193.4 1178.4h0M169.1 1191.2h0M138.9 1195.0h0M129.3 1217.4h0M134.1 1212.1h0M139.1 1217.6h0M135.9 1196.6h0M156.3 1214.8h0M197.8 1174.8h0M166.6 1195.8h0M187.4 1156.3h0M148.9 1206.0h0M141.8 1218.0h0M130.0 1216.1h0M176.3 1185.5h0M140.5 1179.4h0M159.2 1197.6h0M166.5 1180.4h0M175.8 1180.1h0M157.4 1207.0h0M138.8 1206.1h0M138.1 1212.0h0M142.1 1202.2h0M135.5 1193.0h0M147.2 1202.0h0M132.2 1218.8h0M143.5 1200.1h0M177.2 1187.6h0M164.5 1168.2h0M183.6 1176.5h0M123.1 1213.1h0M134.7 1219.2h0M133.5 1212.1h0M159.6 1200.1h0M178.8 1181.6h0M150.4 1192.2h0M146.1 1198.4h0M129.6 1214.6h0M147.5 1190.5h0M138.6 1201.7h0M125.2 1198.7h0M151.5 1205.8h0M157.3 1186.1h0M149.9 1180.6h0M146.9 1203.5h0M131.7 1219.7h0" fill="none" stroke="#2f7bb8" stroke-width="4.5" stroke-linecap="round"/>
</g>
<g id="panelC" font-family="Liberation Sans, Arial, sans-serif">
<text x="643.5" y="48.8" font-size="33" font-weight="bold" fill="#111">C</text>
<text x="644" y="423" font-size="33" font-weight="bold" fill="#111">D</text>
<text x="949.5" y="86.8" font-size="20.7" font-weight="bold" fill="#111" text-anchor="middle">Genome-wide Coverage</text>
<text x="956.6" y="106.8" font-size="13.9" font-weight="bold" fill="#111" text-anchor="middle">Total Reads = 1,578,452</text>
<path d="M795.5 86V357H1155" fill="none" stroke="#111" stroke-width="1.8"/>
<g stroke="#111" stroke-width="1.6">
<path d="M792 120.6H795.5"/>
<path d="M792 167.3H795.5"/>
<path d="M792 214.0H795.5"/>
<path d="M792 260.9H795.5"/>
<path d="M792 308.0H795.5"/>
<path d="M792 354.8H795.5"/>
<path d="M812.5 354V360"/>
<path d="M867.6 357V360"/>
<path d="M922.0 357V360"/>
<path d="M976.8 357V360"/>
<path d="M1031.3 357V360"/>
<path d="M1086.8 357V360"/>
<path d="M1141.5 357V360"/>
</g>
<g font-size="15.5" font-weight="bold" fill="#111" text-anchor="end">
<text x="791.5" y="126.1">25k</text>
<text x="791.5" y="172.8">20k</text>
<text x="791.5" y="219.5">15k</text>
<text x="791.5" y="266.4">10k</text>
<text x="791.5" y="313.5">5k</text>
</g><g font-size="15.5" font-weight="bold" fill="#111" text-anchor="middle">
<text x="791.0" y="374.5">0</text>
<text x="867.6" y="374.5">5k</text>
<text x="922.0" y="374.5">10k</text>
<text x="976.8" y="374.5">15k</text>
<text x="1031.3" y="374.5">20k</text>
<text x="1086.8" y="374.5">25k</text>
<text x="1143.6" y="374.5">30k</text>
</g>
<text x="987" y="397.3" font-size="17" fill="#222" text-anchor="middle">Position (nt)</text>
<text transform="translate(742 205.7) rotate(-90)" font-size="17.3" fill="#222" text-anchor="middle">Coverage (Reads)</text>
<path d="M811.2 303.4L812.8 278.5L815.1 248.6L817.7 268.9L820.4 284.2L822.7 273.9L825.4 274.7L827.3 283.1L829.2 290.0L831.9 305.3L835.0 299.6L838.8 303.4L841.9 299.6L844.6 305.3L848.4 295.7L852.2 320.7L854.9 314.9L858.0 320.7L862.6 314.9L867.6 303.4L870.3 305.3L873.3 313.0L877.9 324.5L882.9 312.2L886.7 318.7L890.6 313.0L894.4 314.9L898.2 320.7L903.2 316.8L905.9 319.9L909.7 311.1L913.6 314.9L919.3 318.7L927.0 311.1L930.8 316.8L936.6 312.2L942.3 326.4L945.4 313.0L948.1 324.5L951.1 316.1L954.6 323.7L957.7 286.9L960.0 313.0L961.5 290.0L963.4 322.6L967.2 313.0L971.1 316.8L976.1 324.5L982.6 316.1L988.3 321.4L994.1 320.7L1001.7 328.3L1006.7 324.5L1011.3 328.3L1017.1 321.4L1022.8 324.5L1026.7 330.2L1031.3 327.6L1037.4 331.4L1042.0 324.5L1046.6 324.5L1050.4 316.8L1054.3 309.2L1059.2 303.4L1063.1 313.0L1068.1 308.4L1072.7 318.7L1076.5 311.1L1082.2 313.0L1084.9 316.1L1087.2 305.3L1091.1 272.7L1095.7 297.7L1099.5 276.6L1104.1 232.5L1107.2 244.0L1109.8 261.2L1113.7 230.6L1116.7 251.7L1118.7 253.6L1121.3 213.3L1123.6 193.4L1125.6 201.8L1128.2 178.8L1130.9 183.4" fill="none" stroke="#15509c" stroke-width="3.2" stroke-linejoin="round" stroke-linecap="butt"/>
</g>
<g id="panelD" font-family="Liberation Sans, Arial, sans-serif">
<path d="M790 454.5H796V680.8H1142.0" fill="none" stroke="#111" stroke-width="1.8"/>
<path d="M790 680.8H796" stroke="#111" stroke-width="1.8"/>
<g stroke="#111" stroke-width="1.6">
<path d="M791 492.0H796"/>
<path d="M791 529.2H796"/>
<path d="M791 566.5H796"/>
<path d="M791 604.0H796"/>
<path d="M791 642.0H796"/>
</g>
<g font-size="15.3" font-weight="bold" fill="#111" text-anchor="end">
<text x="786.5" y="460.2">0.06</text>
<text x="786.5" y="497.4">0.05</text>
<text x="786.5" y="534.6">0.04</text>
<text x="786.5" y="571.9">0.03</text>
<text x="786.5" y="609.4">0.02</text>
<text x="786.5" y="647.4">0.01</text>
<text x="786.5" y="685.7">0.00</text>
</g><g font-size="15.3" font-weight="bold" fill="#111" text-anchor="middle">
<text x="814.8" y="697.3">0</text>
<text x="872.0" y="697.3">5k</text>
<text x="928.0" y="697.3">10k</text>
<text x="984.0" y="697.3">15k</text>
<text x="1040.0" y="697.3">20k</text>
<text x="1096.0" y="697.3">25k</text>
<text x="1150.0" y="697.3">30k</text>
</g>
<text x="882.4" y="448.8" font-size="20.7" font-weight="bold" fill="#111" text-anchor="middle">Untreated</text>
<text transform="translate(731.0 550.0) rotate(-90)" font-size="17.3" fill="#222" text-anchor="middle">Mutational Fraction</text>
<text x="990.4" y="718.8" font-size="17" fill="#222" text-anchor="middle">Position (nt)</text>
<path d="M1070.0 468.8H1092.0" stroke="#f2932b" stroke-width="2"/><circle cx="1081.0" cy="468.8" r="3" fill="#f2932b"/>
<text x="1102.0" y="474.2" font-size="20" font-weight="bold" fill="#111">A,C</text>
<path d="M1070.0 494.4H1092.0" stroke="#3b9ad6" stroke-width="2"/><circle cx="1081.0" cy="494.4" r="3" fill="#3b9ad6"/>
<text x="1102.0" y="499.8" font-size="20" font-weight="bold" fill="#111">G,U</text>
<path d="M812.0 671.0L814.2 671.5L816.4 671.2L818.6 671.6L820.8 671.6L823.0 670.7L825.2 670.6L827.5 671.9L829.7 671.0L831.9 671.0L834.1 672.2L836.3 671.4L838.5 671.9L840.7 671.4L842.9 671.6L845.1 670.8L847.3 671.6L849.5 672.0L851.7 671.4L854.0 671.8L856.2 671.7L858.4 670.7L860.6 671.8L862.8 671.5L865.0 671.1L867.2 670.6L869.4 672.0L871.6 671.4L873.8 671.8L876.0 672.0L878.2 671.7L880.4 672.1L882.7 671.2L884.9 671.9L887.1 671.3L889.3 672.1L891.5 672.0L893.7 670.8L895.9 670.8L898.1 670.9L900.3 672.1L902.5 671.3L904.7 671.6L906.9 671.1L909.2 671.4L911.4 671.2L913.6 671.2L915.8 671.5L918.0 671.5L920.2 672.0L922.4 671.7L924.6 672.1L926.8 672.0L929.0 672.2L931.2 671.7L933.4 670.9L935.7 672.0L937.9 672.1L940.1 672.0L942.3 671.5L944.5 671.7L946.7 670.9L948.9 671.9L951.1 671.5L953.3 671.1L955.5 670.7L957.7 672.0L959.9 672.2L962.1 670.7L964.4 671.9L966.6 671.3L968.8 670.8L971.0 671.1L973.2 671.8L975.4 672.0L977.6 670.7L979.8 671.6L982.0 670.7L984.2 671.7L986.4 671.1L988.6 672.0L990.9 672.2L993.1 671.4L995.3 672.2L997.5 671.1L999.7 670.7L1001.9 671.6L1004.1 670.7L1006.3 670.9L1008.5 671.3L1010.7 671.6L1012.9 670.8L1015.1 670.7L1017.3 672.0L1019.6 671.1L1021.8 672.1L1024.0 672.0L1026.2 671.2L1028.4 671.3L1030.6 671.4L1032.8 671.6L1035.0 671.6L1037.2 671.5L1039.4 671.6L1041.6 672.1L1043.8 671.4L1046.1 671.3L1048.3 671.8L1050.5 671.0L1052.7 671.1L1054.9 672.2L1057.1 671.4L1059.3 671.5L1061.5 670.6L1063.7 671.3L1065.9 671.5L1068.1 670.6L1070.3 671.6L1072.6 671.6L1074.8 670.7L1077.0 671.6L1079.2 671.3L1081.4 671.7L1083.6 671.2L1085.8 671.7L1088.0 671.8L1090.2 670.6L1092.4 670.7L1094.6 671.7L1096.8 672.1L1099.0 671.0L1101.3 671.3L1103.5 671.5L1105.7 671.1L1107.9 671.2L1110.1 671.1L1112.3 671.2L1114.5 671.6L1116.7 671.1L1118.9 671.2L1121.1 671.8L1123.3 670.6L1125.5 671.5L1127.8 671.8L1130.0 671.1L1132.2 671.0L1134.4 671.9L1136.6 671.0L1138.8 670.9L1141.0 671.3" fill="none" stroke="#f2932b" stroke-width="3.2" stroke-linejoin="round"/>
<path d="M813.2 670.0V673" stroke="#f2932b" stroke-width="1.4"/><circle cx="813.2" cy="670.0" r="2.7" fill="#f2932b"/>
<path d="M961.2 663.4V673" stroke="#f2932b" stroke-width="1.4"/><circle cx="961.2" cy="663.4" r="2.7" fill="#f2932b"/>
<path d="M1104.0 668.3V673" stroke="#f2932b" stroke-width="1.4"/><circle cx="1104.0" cy="668.3" r="2.7" fill="#f2932b"/>
<path d="M1115.2 663.4V673" stroke="#f2932b" stroke-width="1.4"/><circle cx="1115.2" cy="663.4" r="2.7" fill="#f2932b"/>
<path d="M1114.0 666.0V673" stroke="#f2932b" stroke-width="1.4"/><circle cx="1114.0" cy="666.0" r="2.7" fill="#f2932b"/>
<path d="M961.2 668V673" stroke="#2e8b57" stroke-width="1.2"/>
<path d="M813 674.8H1139" stroke="#3b9ad6" stroke-width="6.6" stroke-linecap="round"/>
<path d="M812 679.3H1140" stroke="#e8f1f8" stroke-width="0.8" stroke-dasharray="9 5"/>
<path d="M790 754.5H796V979.5H1134.0" fill="none" stroke="#111" stroke-width="1.8"/>
<path d="M790 979.5H796" stroke="#111" stroke-width="1.8"/>
<g stroke="#111" stroke-width="1.6">
<path d="M791 791.2H796"/>
<path d="M791 828.0H796"/>
<path d="M791 864.8H796"/>
<path d="M791 903.2H796"/>
<path d="M791 940.8H796"/>
</g>
<g font-size="15.3" font-weight="bold" fill="#111" text-anchor="end">
<text x="786.5" y="760.6">0.06</text>
<text x="786.5" y="796.6">0.05</text>
<text x="786.5" y="833.4">0.04</text>
<text x="786.5" y="870.2">0.03</text>
<text x="786.5" y="908.6">0.02</text>
<text x="786.5" y="946.2">0.01</text>
<text x="786.5" y="983.7">0.00</text>
</g><g font-size="15.3" font-weight="bold" fill="#111" text-anchor="middle">
<text x="806.0" y="998.8">0</text>
<text x="863.2" y="998.8">5k</text>
<text x="919.2" y="998.8">10k</text>
<text x="976.0" y="998.8">15k</text>
<text x="1030.0" y="998.8">20k</text>
<text x="1086.0" y="998.8">25k</text>
<text x="1139.2" y="998.8">30k</text>
</g>
<text x="888.4" y="752.0" font-size="20.7" font-weight="bold" fill="#111" text-anchor="middle">DMS treated</text>
<text transform="translate(732.0 852.0) rotate(-90)" font-size="17.3" fill="#222" text-anchor="middle">Mutational Fraction</text>
<text x="980.0" y="1020.8" font-size="17" fill="#222" text-anchor="middle">Position (nt)</text>
<path d="M1090.0 772.8H1112.0" stroke="#f2932b" stroke-width="2"/><circle cx="1101.0" cy="772.8" r="3" fill="#f2932b"/>
<text x="1122.0" y="778.2" font-size="20" font-weight="bold" fill="#111">A,C</text>
<path d="M1090.0 798.4H1112.0" stroke="#3b9ad6" stroke-width="2"/><circle cx="1101.0" cy="798.4" r="3" fill="#3b9ad6"/>
<text x="1122.0" y="803.8" font-size="20" font-weight="bold" fill="#111">G,U</text>
<path d="M806.0 884.4L806.8 882.3L807.6 882.6L808.4 891.3L809.3 889.3L810.1 878.7L810.9 888.1L811.7 882.0L812.5 880.0L813.3 904.0L814.2 891.3L815.0 880.1L815.8 885.9L816.6 888.9L817.4 850.0L818.2 884.4L819.1 890.1L819.9 872.4L820.7 887.6L821.5 890.6L822.3 888.9L823.1 875.6L823.9 887.5L824.8 879.0L825.6 889.3L826.4 889.5L827.2 886.7L828.0 879.7L828.8 880.9L829.7 891.3L830.5 878.7L831.3 909.0L832.1 888.8L832.9 883.1L833.7 899.1L834.6 885.6L835.4 899.0L836.2 871.0L837.0 871.0L837.8 892.1L838.6 889.6L839.4 882.7L840.3 884.6L841.1 871.3L841.9 880.4L842.7 870.0L843.5 883.3L844.3 891.3L845.2 885.3L846.0 887.6L846.8 879.8L847.6 881.7L848.4 885.7L849.2 882.8L850.1 893.9L850.9 878.5L851.7 898.4L852.5 877.7L853.3 892.4L854.1 879.2L854.9 872.0L855.8 885.7L856.6 887.6L857.4 890.1L858.2 880.1L859.0 877.2L859.8 870.7L860.7 893.4L861.5 879.6L862.3 880.4L863.1 884.4L863.9 898.6L864.7 872.2L865.6 886.4L866.4 881.7L867.2 888.4L868.0 902.0L868.8 881.7L869.6 866.0L870.4 895.7L871.3 896.0L872.1 878.3L872.9 884.9L873.7 883.7L874.5 874.5L875.3 874.1L876.2 889.9L877.0 886.2L877.8 883.4L878.6 893.1L879.4 877.2L880.2 888.2L881.1 884.4L881.9 883.9L882.7 887.9L883.5 885.6L884.3 886.2L885.1 886.2L885.9 898.2L886.8 882.0L887.6 891.5L888.4 908.0L889.2 881.7L890.0 889.9L890.8 878.0L891.7 892.5L892.5 878.3L893.3 880.6L894.1 886.5L894.9 890.1L895.7 890.7L896.6 890.5L897.4 882.6L898.2 877.2L899.0 888.0L899.8 886.2L900.6 877.2L901.4 891.0L902.3 885.5L903.1 877.1L903.9 887.2L904.7 874.4L905.5 877.7L906.3 886.9L907.2 872.7L908.0 884.2L908.8 874.2L909.6 889.2L910.4 878.7L911.2 885.2L912.1 873.1L912.9 881.4L913.7 890.7L914.5 887.1L915.3 870.6L916.1 890.5L916.9 890.2L917.8 881.1L918.6 894.0L919.4 876.1L920.2 883.1L921.0 891.8L921.8 893.2L922.7 892.9L923.5 875.8L924.3 870.9L925.1 886.5L925.9 873.4L926.7 882.7L927.6 874.4L928.4 891.3L929.2 889.4L930.0 887.6L930.8 883.7L931.6 883.9L932.4 881.4L933.3 886.3L934.1 885.3L934.9 886.8L935.7 880.4L936.5 897.2L937.3 885.5L938.2 893.5L939.0 893.0L939.8 867.0L940.6 871.3L941.4 892.5L942.2 880.6L943.1 884.0L943.9 881.5L944.7 884.3L945.5 874.8L946.3 882.6L947.1 880.0L947.9 883.2L948.8 869.3L949.6 889.2L950.4 885.7L951.2 870.8L952.0 878.0L952.8 883.5L953.7 887.8L954.5 883.2L955.3 893.2L956.1 883.4L956.9 876.0L957.7 878.3L958.6 888.5L959.4 878.7L960.2 889.2L961.0 890.5L961.8 887.3L962.6 890.4L963.4 881.8L964.3 883.0L965.1 878.8L965.9 878.7L966.7 871.8L967.5 879.0L968.3 875.3L969.2 872.7L970.0 884.0L970.8 886.2L971.6 838.0L972.4 892.8L973.2 889.7L974.1 890.4L974.9 878.6L975.7 872.2L976.5 886.9L977.3 885.1L978.1 888.1L978.9 885.8L979.8 891.9L980.6 880.7L981.4 887.6L982.2 854.8L983.0 868.8L983.8 879.6L984.7 893.6L985.5 870.7L986.3 890.1L987.1 877.8L987.9 879.8L988.7 883.0L989.6 884.2L990.4 875.7L991.2 883.6L992.0 885.8L992.8 888.6L993.6 877.2L994.4 893.8L995.3 896.3L996.1 896.6L996.9 872.9L997.7 883.8L998.5 869.2L999.3 885.3L1000.2 866.0L1001.0 874.2L1001.8 871.1L1002.6 883.8L1003.4 887.0L1004.2 876.8L1005.1 880.6L1005.9 868.4L1006.7 877.3L1007.5 883.5L1008.3 883.5L1009.1 893.8L1009.9 904.0L1010.8 868.4L1011.6 885.6L1012.4 878.1L1013.2 884.4L1014.0 887.5L1014.8 886.6L1015.7 892.7L1016.5 892.0L1017.3 870.3L1018.1 881.8L1018.9 896.2L1019.7 879.3L1020.6 889.2L1021.4 881.8L1022.2 879.2L1023.0 893.6L1023.8 840.0L1024.6 880.4L1025.4 888.7L1026.3 872.7L1027.1 876.9L1027.9 888.6L1028.7 882.4L1029.5 874.4L1030.3 885.3L1031.2 884.4L1032.0 891.3L1032.8 888.9L1033.6 906.0L1034.4 878.5L1035.2 881.0L1036.1 880.3L1036.9 892.5L1037.7 893.4L1038.5 891.7L1039.3 884.7L1040.1 880.1L1040.9 888.4L1041.8 879.4L1042.6 883.6L1043.4 861.0L1044.2 878.8L1045.0 892.2L1045.8 874.4L1046.7 871.1L1047.5 880.6L1048.3 893.8L1049.1 892.2L1049.9 879.2L1050.7 878.3L1051.6 880.9L1052.4 875.0L1053.2 882.0L1054.0 879.5L1054.8 871.1L1055.6 877.5L1056.4 879.8L1057.3 875.4L1058.1 873.6L1058.9 888.1L1059.7 895.3L1060.5 879.5L1061.3 878.5L1062.2 860.0L1063.0 879.9L1063.8 875.9L1064.6 891.6L1065.4 874.0L1066.2 876.2L1067.1 876.7L1067.9 875.1L1068.7 879.8L1069.5 885.6L1070.3 891.8L1071.1 886.2L1071.9 881.7L1072.8 872.4L1073.6 881.0L1074.4 874.6L1075.2 859.0L1076.0 888.4L1076.8 882.8L1077.7 879.8L1078.5 875.9L1079.3 881.1L1080.1 882.1L1080.9 874.6L1081.7 877.6L1082.6 887.6L1083.4 869.3L1084.2 878.0L1085.0 903.0L1085.8 892.3L1086.6 885.6L1087.4 884.9L1088.3 884.0L1089.1 883.2L1089.9 883.2L1090.7 869.7L1091.5 883.0L1092.3 885.4L1093.2 870.8L1094.0 887.0L1094.8 885.9L1095.6 870.1L1096.4 877.7L1097.2 857.0L1098.1 877.2L1098.9 883.8L1099.7 871.8L1100.5 879.4L1101.3 882.6L1102.1 886.2L1102.9 881.3L1103.8 879.2L1104.6 885.9L1105.4 866.9L1106.2 906.0L1107.0 878.7L1107.8 871.9L1108.7 877.8L1109.5 867.6L1110.3 866.8L1111.1 878.5L1111.9 875.2L1112.7 886.1L1113.6 874.4L1114.4 871.4L1115.2 873.9L1116.0 893.1L1116.8 848.8L1117.6 876.3L1118.4 873.6L1119.3 859.1L1120.1 865.8L1120.9 870.1L1121.7 875.3L1122.5 875.3L1123.3 869.0L1124.2 862.3L1125.0 860.8L1125.8 853.0L1126.6 859.7L1127.4 870.0L1128.2 864.6L1129.1 869.6L1129.9 857.3L1130.7 873.5L1131.5 869.1" fill="none" stroke="#f2932b" stroke-width="2.2" stroke-linejoin="round"/>
<path d="M806.0 884.4h0M806.8 882.3h0M807.6 882.6h0M808.4 891.3h0M809.3 889.3h0M810.1 878.7h0M810.9 888.1h0M811.7 882.0h0M812.5 880.0h0M813.3 904.0h0M814.2 891.3h0M815.0 880.1h0M815.8 885.9h0M816.6 888.9h0M817.4 850.0h0M818.2 884.4h0M819.1 890.1h0M819.9 872.4h0M820.7 887.6h0M821.5 890.6h0M822.3 888.9h0M823.1 875.6h0M823.9 887.5h0M824.8 879.0h0M825.6 889.3h0M826.4 889.5h0M827.2 886.7h0M828.0 879.7h0M828.8 880.9h0M829.7 891.3h0M830.5 878.7h0M831.3 909.0h0M832.1 888.8h0M832.9 883.1h0M833.7 899.1h0M834.6 885.6h0M835.4 899.0h0M836.2 871.0h0M837.0 871.0h0M837.8 892.1h0M838.6 889.6h0M839.4 882.7h0M840.3 884.6h0M841.1 871.3h0M841.9 880.4h0M842.7 870.0h0M843.5 883.3h0M844.3 891.3h0M845.2 885.3h0M846.0 887.6h0M846.8 879.8h0M847.6 881.7h0M848.4 885.7h0M849.2 882.8h0M850.1 893.9h0M850.9 878.5h0M851.7 898.4h0M852.5 877.7h0M853.3 892.4h0M854.1 879.2h0M854.9 872.0h0M855.8 885.7h0M856.6 887.6h0M857.4 890.1h0M858.2 880.1h0M859.0 877.2h0M859.8 870.7h0M860.7 893.4h0M861.5 879.6h0M862.3 880.4h0M863.1 884.4h0M863.9 898.6h0M864.7 872.2h0M865.6 886.4h0M866.4 881.7h0M867.2 888.4h0M868.0 902.0h0M868.8 881.7h0M869.6 866.0h0M870.4 895.7h0M871.3 896.0h0M872.1 878.3h0M872.9 884.9h0M873.7 883.7h0M874.5 874.5h0M875.3 874.1h0M876.2 889.9h0M877.0 886.2h0M877.8 883.4h0M878.6 893.1h0M879.4 877.2h0M880.2 888.2h0M881.1 884.4h0M881.9 883.9h0M882.7 887.9h0M883.5 885.6h0M884.3 886.2h0M885.1 886.2h0M885.9 898.2h0M886.8 882.0h0M887.6 891.5h0M888.4 908.0h0M889.2 881.7h0M890.0 889.9h0M890.8 878.0h0M891.7 892.5h0M892.5 878.3h0M893.3 880.6h0M894.1 886.5h0M894.9 890.1h0M895.7 890.7h0M896.6 890.5h0M897.4 882.6h0M898.2 877.2h0M899.0 888.0h0M899.8 886.2h0M900.6 877.2h0M901.4 891.0h0M902.3 885.5h0M903.1 877.1h0M903.9 887.2h0M904.7 874.4h0M905.5 877.7h0M906.3 886.9h0M907.2 872.7h0M908.0 884.2h0M908.8 874.2h0M909.6 889.2h0M910.4 878.7h0M911.2 885.2h0M912.1 873.1h0M912.9 881.4h0M913.7 890.7h0M914.5 887.1h0M915.3 870.6h0M916.1 890.5h0M916.9 890.2h0M917.8 881.1h0M918.6 894.0h0M919.4 876.1h0M920.2 883.1h0M921.0 891.8h0M921.8 893.2h0M922.7 892.9h0M923.5 875.8h0M924.3 870.9h0M925.1 886.5h0M925.9 873.4h0M926.7 882.7h0M927.6 874.4h0M928.4 891.3h0M929.2 889.4h0M930.0 887.6h0M930.8 883.7h0M931.6 883.9h0M932.4 881.4h0M933.3 886.3h0M934.1 885.3h0M934.9 886.8h0M935.7 880.4h0M936.5 897.2h0M937.3 885.5h0M938.2 893.5h0M939.0 893.0h0M939.8 867.0h0M940.6 871.3h0M941.4 892.5h0M942.2 880.6h0M943.1 884.0h0M943.9 881.5h0M944.7 884.3h0M945.5 874.8h0M946.3 882.6h0M947.1 880.0h0M947.9 883.2h0M948.8 869.3h0M949.6 889.2h0M950.4 885.7h0M951.2 870.8h0M952.0 878.0h0M952.8 883.5h0M953.7 887.8h0M954.5 883.2h0M955.3 893.2h0M956.1 883.4h0M956.9 876.0h0M957.7 878.3h0M958.6 888.5h0M959.4 878.7h0M960.2 889.2h0M961.0 890.5h0M961.8 887.3h0M962.6 890.4h0M963.4 881.8h0M964.3 883.0h0M965.1 878.8h0M965.9 878.7h0M966.7 871.8h0M967.5 879.0h0M968.3 875.3h0M969.2 872.7h0M970.0 884.0h0M970.8 886.2h0M971.6 838.0h0M972.4 892.8h0M973.2 889.7h0M974.1 890.4h0M974.9 878.6h0M975.7 872.2h0M976.5 886.9h0M977.3 885.1h0M978.1 888.1h0M978.9 885.8h0M979.8 891.9h0M980.6 880.7h0M981.4 887.6h0M982.2 854.8h0M983.0 868.8h0M983.8 879.6h0M984.7 893.6h0M985.5 870.7h0M986.3 890.1h0M987.1 877.8h0M987.9 879.8h0M988.7 883.0h0M989.6 884.2h0M990.4 875.7h0M991.2 883.6h0M992.0 885.8h0M992.8 888.6h0M993.6 877.2h0M994.4 893.8h0M995.3 896.3h0M996.1 896.6h0M996.9 872.9h0M997.7 883.8h0M998.5 869.2h0M999.3 885.3h0M1000.2 866.0h0M1001.0 874.2h0M1001.8 871.1h0M1002.6 883.8h0M1003.4 887.0h0M1004.2 876.8h0M1005.1 880.6h0M1005.9 868.4h0M1006.7 877.3h0M1007.5 883.5h0M1008.3 883.5h0M1009.1 893.8h0M1009.9 904.0h0M1010.8 868.4h0M1011.6 885.6h0M1012.4 878.1h0M1013.2 884.4h0M1014.0 887.5h0M1014.8 886.6h0M1015.7 892.7h0M1016.5 892.0h0M1017.3 870.3h0M1018.1 881.8h0M1018.9 896.2h0M1019.7 879.3h0M1020.6 889.2h0M1021.4 881.8h0M1022.2 879.2h0M1023.0 893.6h0M1023.8 840.0h0M1024.6 880.4h0M1025.4 888.7h0M1026.3 872.7h0M1027.1 876.9h0M1027.9 888.6h0M1028.7 882.4h0M1029.5 874.4h0M1030.3 885.3h0M1031.2 884.4h0M1032.0 891.3h0M1032.8 888.9h0M1033.6 906.0h0M1034.4 878.5h0M1035.2 881.0h0M1036.1 880.3h0M1036.9 892.5h0M1037.7 893.4h0M1038.5 891.7h0M1039.3 884.7h0M1040.1 880.1h0M1040.9 888.4h0M1041.8 879.4h0M1042.6 883.6h0M1043.4 861.0h0M1044.2 878.8h0M1045.0 892.2h0M1045.8 874.4h0M1046.7 871.1h0M1047.5 880.6h0M1048.3 893.8h0M1049.1 892.2h0M1049.9 879.2h0M1050.7 878.3h0M1051.6 880.9h0M1052.4 875.0h0M1053.2 882.0h0M1054.0 879.5h0M1054.8 871.1h0M1055.6 877.5h0M1056.4 879.8h0M1057.3 875.4h0M1058.1 873.6h0M1058.9 888.1h0M1059.7 895.3h0M1060.5 879.5h0M1061.3 878.5h0M1062.2 860.0h0M1063.0 879.9h0M1063.8 875.9h0M1064.6 891.6h0M1065.4 874.0h0M1066.2 876.2h0M1067.1 876.7h0M1067.9 875.1h0M1068.7 879.8h0M1069.5 885.6h0M1070.3 891.8h0M1071.1 886.2h0M1071.9 881.7h0M1072.8 872.4h0M1073.6 881.0h0M1074.4 874.6h0M1075.2 859.0h0M1076.0 888.4h0M1076.8 882.8h0M1077.7 879.8h0M1078.5 875.9h0M1079.3 881.1h0M1080.1 882.1h0M1080.9 874.6h0M1081.7 877.6h0M1082.6 887.6h0M1083.4 869.3h0M1084.2 878.0h0M1085.0 903.0h0M1085.8 892.3h0M1086.6 885.6h0M1087.4 884.9h0M1088.3 884.0h0M1089.1 883.2h0M1089.9 883.2h0M1090.7 869.7h0M1091.5 883.0h0M1092.3 885.4h0M1093.2 870.8h0M1094.0 887.0h0M1094.8 885.9h0M1095.6 870.1h0M1096.4 877.7h0M1097.2 857.0h0M1098.1 877.2h0M1098.9 883.8h0M1099.7 871.8h0M1100.5 879.4h0M1101.3 882.6h0M1102.1 886.2h0M1102.9 881.3h0M1103.8 879.2h0M1104.6 885.9h0M1105.4 866.9h0M1106.2 906.0h0M1107.0 878.7h0M1107.8 871.9h0M1108.7 877.8h0M1109.5 867.6h0M1110.3 866.8h0M1111.1 878.5h0M1111.9 875.2h0M1112.7 886.1h0M1113.6 874.4h0M1114.4 871.4h0M1115.2 873.9h0M1116.0 893.1h0M1116.8 848.8h0M1117.6 876.3h0M1118.4 873.6h0M1119.3 859.1h0M1120.1 865.8h0M1120.9 870.1h0M1121.7 875.3h0M1122.5 875.3h0M1123.3 869.0h0M1124.2 862.3h0M1125.0 860.8h0M1125.8 853.0h0M1126.6 859.7h0M1127.4 870.0h0M1128.2 864.6h0M1129.1 869.6h0M1129.9 857.3h0M1130.7 873.5h0M1131.5 869.1h0" fill="none" stroke="#f2932b" stroke-width="5.4" stroke-linecap="round"/>
<path d="M806.0 970.1L806.8 970.5L807.6 967.1L808.4 969.3L809.3 968.8L810.1 972.4L810.9 969.8L811.7 969.3L812.5 971.1L813.3 968.6L814.2 971.8L815.0 969.1L815.8 969.9L816.6 971.1L817.4 973.4L818.2 969.5L819.1 973.2L819.9 971.2L820.7 972.4L821.5 970.8L822.3 972.6L823.1 972.5L823.9 973.1L824.8 972.7L825.6 973.1L826.4 973.6L827.2 971.8L828.0 970.8L828.8 970.6L829.7 973.2L830.5 971.8L831.3 973.7L832.1 972.4L832.9 971.0L833.7 973.5L834.6 974.8L835.4 972.1L836.2 971.1L837.0 971.2L837.8 973.5L838.6 971.5L839.4 971.8L840.3 973.2L841.1 972.3L841.9 972.4L842.7 971.6L843.5 971.5L844.3 972.5L845.2 972.5L846.0 973.1L846.8 971.7L847.6 972.7L848.4 972.9L849.2 972.4L850.1 973.0L850.9 973.6L851.7 972.6L852.5 972.4L853.3 971.0L854.1 972.7L854.9 972.2L855.8 971.9L856.6 971.2L857.4 973.0L858.2 975.6L859.0 972.9L859.8 972.4L860.7 972.9L861.5 971.5L862.3 972.4L863.1 971.4L863.9 971.5L864.7 972.6L865.6 972.6L866.4 972.2L867.2 971.3L868.0 972.6L868.8 970.9L869.6 973.3L870.4 971.9L871.3 972.3L872.1 973.3L872.9 973.0L873.7 970.6L874.5 972.0L875.3 972.8L876.2 970.9L877.0 969.2L877.8 972.2L878.6 972.2L879.4 972.9L880.2 972.4L881.1 972.5L881.9 972.6L882.7 974.1L883.5 972.9L884.3 973.0L885.1 971.8L885.9 973.8L886.8 972.1L887.6 973.3L888.4 969.6L889.2 972.6L890.0 972.2L890.8 971.7L891.7 974.0L892.5 972.8L893.3 972.1L894.1 971.6L894.9 974.7L895.7 973.3L896.6 973.2L897.4 971.3L898.2 974.0L899.0 973.0L899.8 972.0L900.6 972.2L901.4 970.2L902.3 973.1L903.1 970.9L903.9 973.4L904.7 971.7L905.5 971.5L906.3 972.8L907.2 972.6L908.0 970.8L908.8 972.2L909.6 973.1L910.4 972.0L911.2 970.6L912.1 972.0L912.9 971.1L913.7 971.6L914.5 972.4L915.3 972.2L916.1 972.0L916.9 970.2L917.8 972.8L918.6 972.0L919.4 971.8L920.2 972.5L921.0 974.8L921.8 970.6L922.7 970.2L923.5 973.3L924.3 971.3L925.1 974.0L925.9 971.0L926.7 971.7L927.6 973.4L928.4 973.5L929.2 972.9L930.0 972.9L930.8 972.1L931.6 971.7L932.4 972.0L933.3 973.9L934.1 973.2L934.9 972.3L935.7 972.7L936.5 973.4L937.3 973.8L938.2 972.1L939.0 972.2L939.8 972.7L940.6 975.7L941.4 972.6L942.2 973.9L943.1 970.3L943.9 973.4L944.7 970.5L945.5 970.9L946.3 971.5L947.1 972.1L947.9 972.5L948.8 972.8L949.6 972.6L950.4 971.7L951.2 975.6L952.0 972.8L952.8 973.2L953.7 974.9L954.5 973.5L955.3 973.0L956.1 972.7L956.9 974.7L957.7 970.9L958.6 971.1L959.4 972.5L960.2 969.7L961.0 971.3L961.8 973.8L962.6 971.7L963.4 972.5L964.3 973.2L965.1 970.8L965.9 972.6L966.7 971.5L967.5 970.9L968.3 971.9L969.2 972.2L970.0 971.8L970.8 971.4L971.6 973.5L972.4 973.8L973.2 973.0L974.1 972.2L974.9 970.9L975.7 971.2L976.5 970.9L977.3 972.6L978.1 973.5L978.9 973.5L979.8 972.3L980.6 971.8L981.4 972.5L982.2 972.5L983.0 973.1L983.8 974.2L984.7 971.4L985.5 975.0L986.3 969.6L987.1 970.0L987.9 970.4L988.7 971.0L989.6 972.0L990.4 975.0L991.2 971.4L992.0 973.7L992.8 971.8L993.6 972.5L994.4 971.0L995.3 975.2L996.1 972.3L996.9 971.5L997.7 975.2L998.5 972.5L999.3 972.8L1000.2 972.1L1001.0 971.2L1001.8 970.5L1002.6 972.1L1003.4 974.4L1004.2 972.8L1005.1 972.1L1005.9 973.7L1006.7 971.1L1007.5 974.1L1008.3 972.3L1009.1 971.2L1009.9 973.2L1010.8 973.0L1011.6 971.9L1012.4 972.6L1013.2 973.6L1014.0 974.1L1014.8 971.2L1015.7 968.9L1016.5 974.9L1017.3 972.0L1018.1 971.8L1018.9 972.9L1019.7 971.7L1020.6 973.6L1021.4 970.7L1022.2 972.0L1023.0 970.7L1023.8 974.3L1024.6 972.0L1025.4 973.7L1026.3 974.1L1027.1 970.8L1027.9 972.0L1028.7 973.2L1029.5 972.4L1030.3 972.1L1031.2 973.4L1032.0 973.5L1032.8 971.5L1033.6 972.1L1034.4 973.1L1035.2 972.6L1036.1 972.5L1036.9 970.9L1037.7 974.6L1038.5 972.0L1039.3 972.6L1040.1 972.3L1040.9 972.4L1041.8 972.5L1042.6 971.2L1043.4 972.8L1044.2 973.8L1045.0 972.8L1045.8 973.2L1046.7 972.9L1047.5 972.3L1048.3 974.6L1049.1 971.4L1049.9 972.8L1050.7 973.6L1051.6 972.7L1052.4 970.9L1053.2 970.9L1054.0 974.3L1054.8 971.1L1055.6 972.3L1056.4 973.0L1057.3 972.4L1058.1 970.0L1058.9 969.9L1059.7 972.2L1060.5 971.3L1061.3 972.0L1062.2 972.4L1063.0 972.5L1063.8 970.6L1064.6 970.1L1065.4 973.5L1066.2 971.5L1067.1 970.8L1067.9 969.7L1068.7 973.0L1069.5 970.7L1070.3 971.0L1071.1 973.1L1071.9 972.7L1072.8 973.0L1073.6 970.7L1074.4 968.6L1075.2 971.0L1076.0 971.9L1076.8 971.4L1077.7 973.4L1078.5 972.8L1079.3 971.0L1080.1 973.0L1080.9 972.1L1081.7 971.7L1082.6 973.7L1083.4 970.1L1084.2 973.6L1085.0 973.7L1085.8 969.6L1086.6 972.1L1087.4 972.1L1088.3 970.8L1089.1 971.6L1089.9 971.2L1090.7 972.4L1091.5 971.6L1092.3 969.5L1093.2 973.8L1094.0 973.5L1094.8 971.2L1095.6 973.4L1096.4 974.9L1097.2 970.3L1098.1 971.8L1098.9 971.6L1099.7 973.0L1100.5 971.9L1101.3 970.5L1102.1 973.9L1102.9 971.9L1103.8 973.2L1104.6 975.3L1105.4 971.3L1106.2 971.8L1107.0 973.5L1107.8 972.2L1108.7 973.0L1109.5 972.3L1110.3 975.9L1111.1 973.1L1111.9 972.7L1112.7 972.5L1113.6 972.8L1114.4 970.2L1115.2 971.9L1116.0 973.3L1116.8 970.7L1117.6 970.1L1118.4 969.9L1119.3 969.3L1120.1 973.2L1120.9 970.9L1121.7 970.4L1122.5 969.0L1123.3 970.1L1124.2 969.6L1125.0 969.9L1125.8 970.3L1126.6 973.3L1127.4 971.7L1128.2 972.2L1129.1 971.8L1129.9 973.7L1130.7 969.1L1131.5 968.3" fill="none" stroke="#3b9ad6" stroke-width="3.4" stroke-linejoin="round"/>
<path d="M806.0 970.1h0M806.8 970.5h0M807.6 967.1h0M808.4 969.3h0M809.3 968.8h0M810.1 972.4h0M810.9 969.8h0M811.7 969.3h0M812.5 971.1h0M813.3 968.6h0M814.2 971.8h0M815.0 969.1h0M815.8 969.9h0M816.6 971.1h0M817.4 973.4h0M818.2 969.5h0M819.1 973.2h0M819.9 971.2h0M820.7 972.4h0M821.5 970.8h0M822.3 972.6h0M823.1 972.5h0M823.9 973.1h0M824.8 972.7h0M825.6 973.1h0M826.4 973.6h0M827.2 971.8h0M828.0 970.8h0M828.8 970.6h0M829.7 973.2h0M830.5 971.8h0M831.3 973.7h0M832.1 972.4h0M832.9 971.0h0M833.7 973.5h0M834.6 974.8h0M835.4 972.1h0M836.2 971.1h0M837.0 971.2h0M837.8 973.5h0M838.6 971.5h0M839.4 971.8h0M840.3 973.2h0M841.1 972.3h0M841.9 972.4h0M842.7 971.6h0M843.5 971.5h0M844.3 972.5h0M845.2 972.5h0M846.0 973.1h0M846.8 971.7h0M847.6 972.7h0M848.4 972.9h0M849.2 972.4h0M850.1 973.0h0M850.9 973.6h0M851.7 972.6h0M852.5 972.4h0M853.3 971.0h0M854.1 972.7h0M854.9 972.2h0M855.8 971.9h0M856.6 971.2h0M857.4 973.0h0M858.2 975.6h0M859.0 972.9h0M859.8 972.4h0M860.7 972.9h0M861.5 971.5h0M862.3 972.4h0M863.1 971.4h0M863.9 971.5h0M864.7 972.6h0M865.6 972.6h0M866.4 972.2h0M867.2 971.3h0M868.0 972.6h0M868.8 970.9h0M869.6 973.3h0M870.4 971.9h0M871.3 972.3h0M872.1 973.3h0M872.9 973.0h0M873.7 970.6h0M874.5 972.0h0M875.3 972.8h0M876.2 970.9h0M877.0 969.2h0M877.8 972.2h0M878.6 972.2h0M879.4 972.9h0M880.2 972.4h0M881.1 972.5h0M881.9 972.6h0M882.7 974.1h0M883.5 972.9h0M884.3 973.0h0M885.1 971.8h0M885.9 973.8h0M886.8 972.1h0M887.6 973.3h0M888.4 969.6h0M889.2 972.6h0M890.0 972.2h0M890.8 971.7h0M891.7 974.0h0M892.5 972.8h0M893.3 972.1h0M894.1 971.6h0M894.9 974.7h0M895.7 973.3h0M896.6 973.2h0M897.4 971.3h0M898.2 974.0h0M899.0 973.0h0M899.8 972.0h0M900.6 972.2h0M901.4 970.2h0M902.3 973.1h0M903.1 970.9h0M903.9 973.4h0M904.7 971.7h0M905.5 971.5h0M906.3 972.8h0M907.2 972.6h0M908.0 970.8h0M908.8 972.2h0M909.6 973.1h0M910.4 972.0h0M911.2 970.6h0M912.1 972.0h0M912.9 971.1h0M913.7 971.6h0M914.5 972.4h0M915.3 972.2h0M916.1 972.0h0M916.9 970.2h0M917.8 972.8h0M918.6 972.0h0M919.4 971.8h0M920.2 972.5h0M921.0 974.8h0M921.8 970.6h0M922.7 970.2h0M923.5 973.3h0M924.3 971.3h0M925.1 974.0h0M925.9 971.0h0M926.7 971.7h0M927.6 973.4h0M928.4 973.5h0M929.2 972.9h0M930.0 972.9h0M930.8 972.1h0M931.6 971.7h0M932.4 972.0h0M933.3 973.9h0M934.1 973.2h0M934.9 972.3h0M935.7 972.7h0M936.5 973.4h0M937.3 973.8h0M938.2 972.1h0M939.0 972.2h0M939.8 972.7h0M940.6 975.7h0M941.4 972.6h0M942.2 973.9h0M943.1 970.3h0M943.9 973.4h0M944.7 970.5h0M945.5 970.9h0M946.3 971.5h0M947.1 972.1h0M947.9 972.5h0M948.8 972.8h0M949.6 972.6h0M950.4 971.7h0M951.2 975.6h0M952.0 972.8h0M952.8 973.2h0M953.7 974.9h0M954.5 973.5h0M955.3 973.0h0M956.1 972.7h0M956.9 974.7h0M957.7 970.9h0M958.6 971.1h0M959.4 972.5h0M960.2 969.7h0M961.0 971.3h0M961.8 973.8h0M962.6 971.7h0M963.4 972.5h0M964.3 973.2h0M965.1 970.8h0M965.9 972.6h0M966.7 971.5h0M967.5 970.9h0M968.3 971.9h0M969.2 972.2h0M970.0 971.8h0M970.8 971.4h0M971.6 973.5h0M972.4 973.8h0M973.2 973.0h0M974.1 972.2h0M974.9 970.9h0M975.7 971.2h0M976.5 970.9h0M977.3 972.6h0M978.1 973.5h0M978.9 973.5h0M979.8 972.3h0M980.6 971.8h0M981.4 972.5h0M982.2 972.5h0M983.0 973.1h0M983.8 974.2h0M984.7 971.4h0M985.5 975.0h0M986.3 969.6h0M987.1 970.0h0M987.9 970.4h0M988.7 971.0h0M989.6 972.0h0M990.4 975.0h0M991.2 971.4h0M992.0 973.7h0M992.8 971.8h0M993.6 972.5h0M994.4 971.0h0M995.3 975.2h0M996.1 972.3h0M996.9 971.5h0M997.7 975.2h0M998.5 972.5h0M999.3 972.8h0M1000.2 972.1h0M1001.0 971.2h0M1001.8 970.5h0M1002.6 972.1h0M1003.4 974.4h0M1004.2 972.8h0M1005.1 972.1h0M1005.9 973.7h0M1006.7 971.1h0M1007.5 974.1h0M1008.3 972.3h0M1009.1 971.2h0M1009.9 973.2h0M1010.8 973.0h0M1011.6 971.9h0M1012.4 972.6h0M1013.2 973.6h0M1014.0 974.1h0M1014.8 971.2h0M1015.7 968.9h0M1016.5 974.9h0M1017.3 972.0h0M1018.1 971.8h0M1018.9 972.9h0M1019.7 971.7h0M1020.6 973.6h0M1021.4 970.7h0M1022.2 972.0h0M1023.0 970.7h0M1023.8 974.3h0M1024.6 972.0h0M1025.4 973.7h0M1026.3 974.1h0M1027.1 970.8h0M1027.9 972.0h0M1028.7 973.2h0M1029.5 972.4h0M1030.3 972.1h0M1031.2 973.4h0M1032.0 973.5h0M1032.8 971.5h0M1033.6 972.1h0M1034.4 973.1h0M1035.2 972.6h0M1036.1 972.5h0M1036.9 970.9h0M1037.7 974.6h0M1038.5 972.0h0M1039.3 972.6h0M1040.1 972.3h0M1040.9 972.4h0M1041.8 972.5h0M1042.6 971.2h0M1043.4 972.8h0M1044.2 973.8h0M1045.0 972.8h0M1045.8 973.2h0M1046.7 972.9h0M1047.5 972.3h0M1048.3 974.6h0M1049.1 971.4h0M1049.9 972.8h0M1050.7 973.6h0M1051.6 972.7h0M1052.4 970.9h0M1053.2 970.9h0M1054.0 974.3h0M1054.8 971.1h0M1055.6 972.3h0M1056.4 973.0h0M1057.3 972.4h0M1058.1 970.0h0M1058.9 969.9h0M1059.7 972.2h0M1060.5 971.3h0M1061.3 972.0h0M1062.2 972.4h0M1063.0 972.5h0M1063.8 970.6h0M1064.6 970.1h0M1065.4 973.5h0M1066.2 971.5h0M1067.1 970.8h0M1067.9 969.7h0M1068.7 973.0h0M1069.5 970.7h0M1070.3 971.0h0M1071.1 973.1h0M1071.9 972.7h0M1072.8 973.0h0M1073.6 970.7h0M1074.4 968.6h0M1075.2 971.0h0M1076.0 971.9h0M1076.8 971.4h0M1077.7 973.4h0M1078.5 972.8h0M1079.3 971.0h0M1080.1 973.0h0M1080.9 972.1h0M1081.7 971.7h0M1082.6 973.7h0M1083.4 970.1h0M1084.2 973.6h0M1085.0 973.7h0M1085.8 969.6h0M1086.6 972.1h0M1087.4 972.1h0M1088.3 970.8h0M1089.1 971.6h0M1089.9 971.2h0M1090.7 972.4h0M1091.5 971.6h0M1092.3 969.5h0M1093.2 973.8h0M1094.0 973.5h0M1094.8 971.2h0M1095.6 973.4h0M1096.4 974.9h0M1097.2 970.3h0M1098.1 971.8h0M1098.9 971.6h0M1099.7 973.0h0M1100.5 971.9h0M1101.3 970.5h0M1102.1 973.9h0M1102.9 971.9h0M1103.8 973.2h0M1104.6 975.3h0M1105.4 971.3h0M1106.2 971.8h0M1107.0 973.5h0M1107.8 972.2h0M1108.7 973.0h0M1109.5 972.3h0M1110.3 975.9h0M1111.1 973.1h0M1111.9 972.7h0M1112.7 972.5h0M1113.6 972.8h0M1114.4 970.2h0M1115.2 971.9h0M1116.0 973.3h0M1116.8 970.7h0M1117.6 970.1h0M1118.4 969.9h0M1119.3 969.3h0M1120.1 973.2h0M1120.9 970.9h0M1121.7 970.4h0M1122.5 969.0h0M1123.3 970.1h0M1124.2 969.6h0M1125.0 969.9h0M1125.8 970.3h0M1126.6 973.3h0M1127.4 971.7h0M1128.2 972.2h0M1129.1 971.8h0M1129.9 973.7h0M1130.7 969.1h0M1131.5 968.3h0" fill="none" stroke="#3b9ad6" stroke-width="5.4" stroke-linecap="round"/>
</g>
</svg>
</div>
</body></html>
